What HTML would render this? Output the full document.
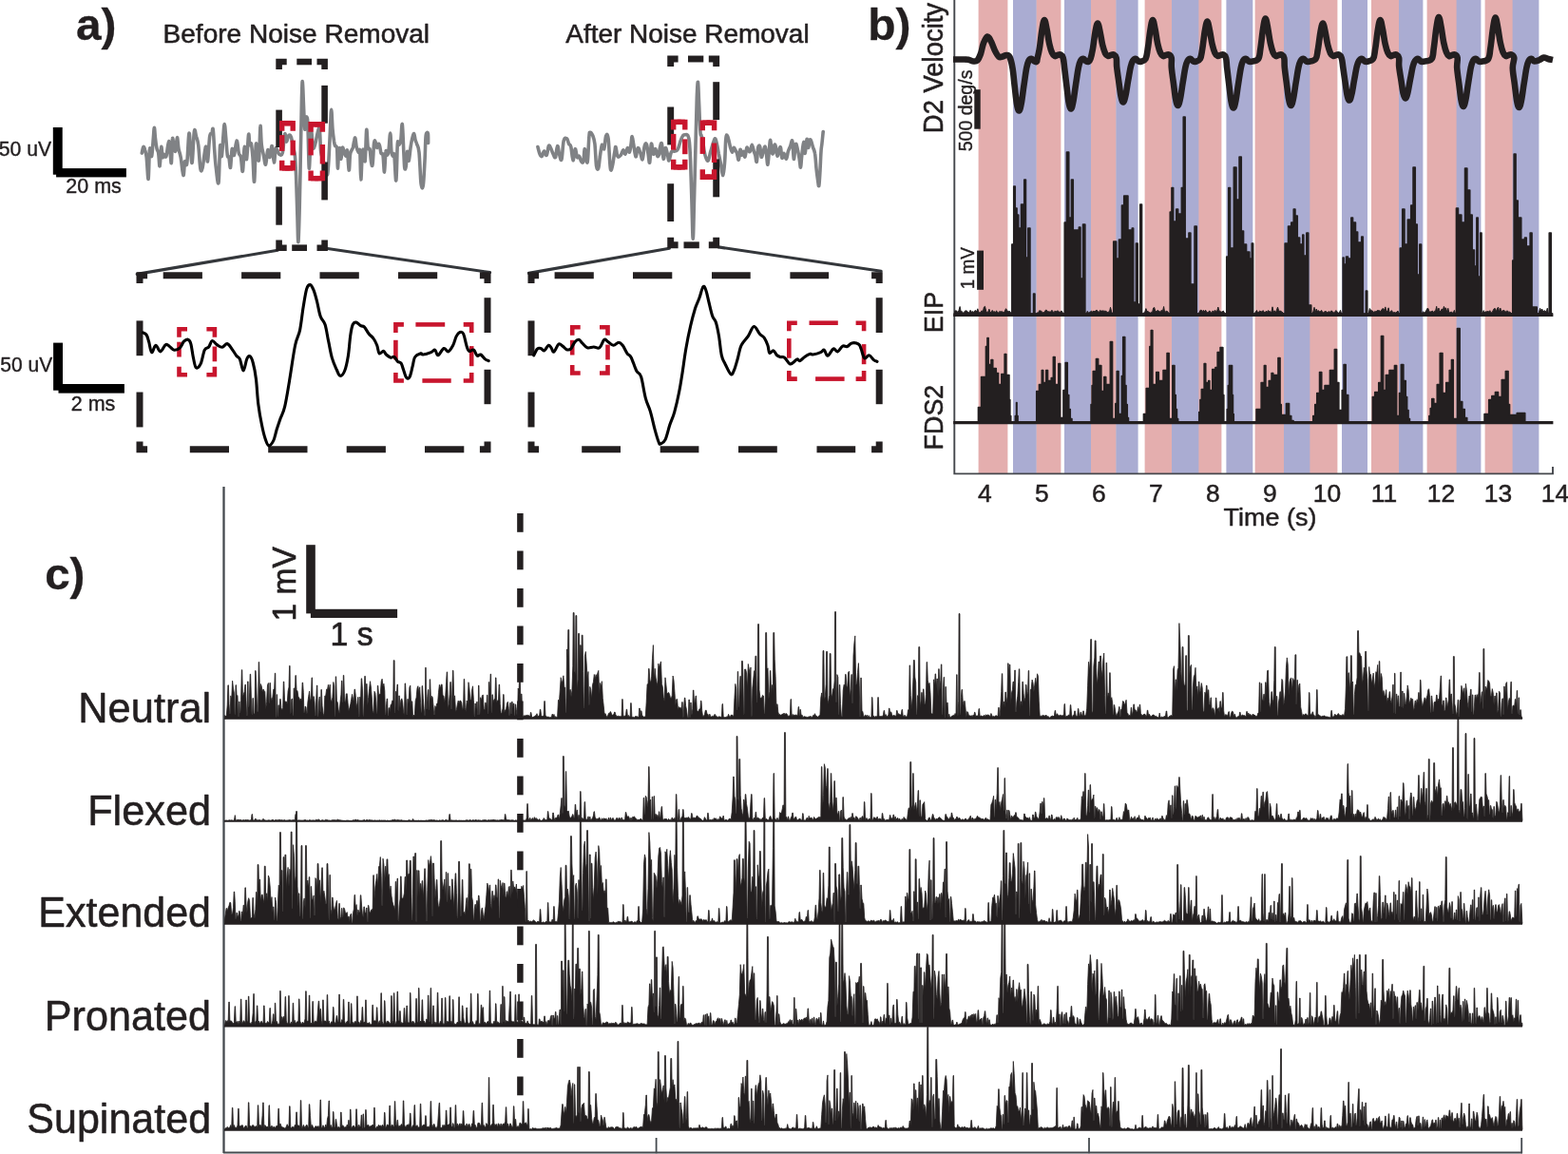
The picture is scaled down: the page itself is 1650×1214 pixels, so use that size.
<!DOCTYPE html>
<html lang="en"><head><meta charset="utf-8"><title>Figure</title>
<style>
html,body{margin:0;padding:0;background:#fff;}
body{width:1650px;height:1214px;overflow:hidden;}
svg{display:block;font-family:"Liberation Sans",sans-serif;}
</style></head><body>
<svg width="1650" height="1214" viewBox="0 0 1650 1214">
<rect width="1650" height="1214" fill="#fff"/>
<g id="panel-b">
<rect x="1029.6" y="0" width="30.8" height="498.3" fill="#E4AEAE"/>
<rect x="1090.2" y="0" width="26.2" height="498.3" fill="#E4AEAE"/>
<rect x="1147.6" y="0" width="27.2" height="498.3" fill="#E4AEAE"/>
<rect x="1204.6" y="0" width="28.8" height="498.3" fill="#E4AEAE"/>
<rect x="1261.0" y="0" width="24.4" height="498.3" fill="#E4AEAE"/>
<rect x="1320.6" y="0" width="30.8" height="498.3" fill="#E4AEAE"/>
<rect x="1378.0" y="0" width="29.4" height="498.3" fill="#E4AEAE"/>
<rect x="1443.0" y="0" width="29.4" height="498.3" fill="#E4AEAE"/>
<rect x="1501.6" y="0" width="31.4" height="498.3" fill="#E4AEAE"/>
<rect x="1562.6" y="0" width="29.4" height="498.3" fill="#E4AEAE"/>
<rect x="1066.0" y="0" width="24.6" height="498.3" fill="#AAACD2"/>
<rect x="1120.0" y="0" width="28.0" height="498.3" fill="#AAACD2"/>
<rect x="1174.4" y="0" width="23.2" height="498.3" fill="#AAACD2"/>
<rect x="1233.0" y="0" width="28.4" height="498.3" fill="#AAACD2"/>
<rect x="1290.4" y="0" width="27.9" height="498.3" fill="#AAACD2"/>
<rect x="1351.0" y="0" width="27.4" height="498.3" fill="#AAACD2"/>
<rect x="1412.0" y="0" width="27.0" height="498.3" fill="#AAACD2"/>
<rect x="1472.0" y="0" width="25.4" height="498.3" fill="#AAACD2"/>
<rect x="1532.6" y="0" width="25.8" height="498.3" fill="#AAACD2"/>
<rect x="1591.6" y="0" width="27.8" height="498.3" fill="#AAACD2"/>
<path d="M1004.3,0 V498.4 H1634 V491" fill="none" stroke="#45484D" stroke-width="1.9"/>
<rect x="1025.3" y="94.2" width="6.4" height="41.5" fill="#231F20"/>
<rect x="1028.1" y="263.6" width="6.9" height="41.2" fill="#231F20"/>
<text x="913.33" y="41.50" font-size="47.00" font-weight="bold" fill="#231F20" stroke="#231F20" stroke-width="0.30" stroke-linejoin="round" textLength="45.28" lengthAdjust="spacingAndGlyphs">b)</text>
<text transform="translate(992.40,140.16) rotate(-90)" font-size="28.80" font-weight="normal" fill="#231F20" stroke="#231F20" stroke-width="0.60" stroke-linejoin="round" textLength="137.23" lengthAdjust="spacingAndGlyphs">D2 Velocity</text>
<text transform="translate(1022.60,159.28) rotate(-90)" font-size="20.40" font-weight="normal" fill="#231F20" stroke="#231F20" stroke-width="0.40" stroke-linejoin="round" textLength="85.67" lengthAdjust="spacingAndGlyphs">500 deg/s</text>
<text transform="translate(1024.80,304.22) rotate(-90)" font-size="20.20" font-weight="normal" fill="#231F20" stroke="#231F20" stroke-width="0.40" stroke-linejoin="round" textLength="44.09" lengthAdjust="spacingAndGlyphs">1 mV</text>
<text transform="translate(992.00,350.22) rotate(-90)" font-size="28.40" font-weight="normal" fill="#231F20" stroke="#231F20" stroke-width="0.60" stroke-linejoin="round" textLength="43.31" lengthAdjust="spacingAndGlyphs">EIP</text>
<text transform="translate(992.00,473.42) rotate(-90)" font-size="28.40" font-weight="normal" fill="#231F20" stroke="#231F20" stroke-width="0.60" stroke-linejoin="round" textLength="68.69" lengthAdjust="spacingAndGlyphs">FDS2</text>
<text x="1036.4" y="528.2" font-size="26.4" text-anchor="middle" fill="#231F20" stroke="#231F20" stroke-width="0.5">4</text>
<text x="1096.4" y="528.2" font-size="26.4" text-anchor="middle" fill="#231F20" stroke="#231F20" stroke-width="0.5">5</text>
<text x="1156.4" y="528.2" font-size="26.4" text-anchor="middle" fill="#231F20" stroke="#231F20" stroke-width="0.5">6</text>
<text x="1216.4" y="528.2" font-size="26.4" text-anchor="middle" fill="#231F20" stroke="#231F20" stroke-width="0.5">7</text>
<text x="1276.4" y="528.2" font-size="26.4" text-anchor="middle" fill="#231F20" stroke="#231F20" stroke-width="0.5">8</text>
<text x="1336.4" y="528.2" font-size="26.4" text-anchor="middle" fill="#231F20" stroke="#231F20" stroke-width="0.5">9</text>
<text x="1396.4" y="528.2" font-size="26.4" text-anchor="middle" fill="#231F20" stroke="#231F20" stroke-width="0.5">10</text>
<text x="1456.4" y="528.2" font-size="26.4" text-anchor="middle" fill="#231F20" stroke="#231F20" stroke-width="0.5">11</text>
<text x="1516.4" y="528.2" font-size="26.4" text-anchor="middle" fill="#231F20" stroke="#231F20" stroke-width="0.5">12</text>
<text x="1576.4" y="528.2" font-size="26.4" text-anchor="middle" fill="#231F20" stroke="#231F20" stroke-width="0.5">13</text>
<text x="1636.4" y="528.2" font-size="26.4" text-anchor="middle" fill="#231F20" stroke="#231F20" stroke-width="0.5">14</text>
<text x="1287.64" y="553.40" font-size="26.40" font-weight="normal" fill="#231F20" stroke="#231F20" stroke-width="0.50" stroke-linejoin="round" textLength="97.76" lengthAdjust="spacingAndGlyphs">Time (s)</text>
<path d="M1003.0,62.5 C1004.6,62.5 1009.1,62.4 1012.0,62.5 C1014.9,62.6 1016.8,62.4 1019.0,62.8 C1021.2,63.2 1022.8,64.4 1024.5,64.5 C1026.2,64.6 1027.2,64.9 1028.5,63.5 C1029.8,62.1 1030.8,59.8 1032.0,56.5 C1033.2,53.2 1033.7,48.5 1035.0,45.2 C1036.3,42.0 1037.6,38.8 1039.0,38.5 C1040.4,38.2 1041.6,41.1 1043.0,43.8 C1044.4,46.5 1045.6,50.5 1047.0,53.4 C1048.4,56.2 1049.6,58.5 1051.0,59.6 C1052.4,60.7 1053.6,59.8 1055.0,59.5 C1056.4,59.2 1057.7,57.9 1059.0,58.0 C1060.3,58.1 1061.3,57.4 1062.5,60.0 C1063.7,62.6 1064.7,66.7 1065.6,72.2 C1066.5,77.7 1066.9,84.0 1067.7,90.6 C1068.5,97.2 1069.1,104.3 1069.9,108.9 C1070.7,113.6 1071.5,116.7 1072.4,116.5 C1073.3,116.3 1074.0,112.7 1074.9,107.9 C1075.8,103.0 1076.5,96.0 1077.5,89.5 C1078.5,83.0 1079.3,76.3 1080.2,71.7 C1081.1,67.1 1081.5,65.8 1082.4,64.0 C1083.3,62.2 1084.3,61.6 1085.4,61.7 C1086.5,61.8 1087.4,63.9 1088.4,64.5 C1089.4,65.1 1090.3,65.2 1090.9,64.8 C1091.5,64.3 1091.0,64.4 1091.5,62.0 C1092.0,59.6 1092.9,56.7 1093.8,51.3 C1094.7,45.9 1095.5,37.2 1096.4,31.8 C1097.3,26.3 1098.1,21.1 1099.0,21.0 C1099.9,20.9 1100.7,26.5 1101.6,31.0 C1102.5,35.4 1103.2,41.5 1104.2,45.9 C1105.2,50.3 1106.0,53.1 1107.0,55.4 C1108.0,57.8 1108.9,58.5 1110.0,59.0 C1111.1,59.5 1111.9,58.3 1113.0,58.0 C1114.1,57.7 1115.0,57.0 1116.0,57.5 C1117.0,58.0 1117.9,58.4 1118.7,61.0 C1119.5,63.6 1119.6,66.7 1120.2,71.9 C1120.8,77.0 1121.5,83.2 1122.3,89.5 C1123.1,95.9 1123.7,102.7 1124.5,107.2 C1125.3,111.7 1126.1,114.7 1127.0,114.5 C1127.9,114.3 1128.6,110.9 1129.5,106.2 C1130.4,101.5 1131.1,94.8 1132.1,88.5 C1133.1,82.2 1133.9,75.8 1134.8,71.3 C1135.7,66.9 1136.1,65.7 1137.0,64.0 C1137.9,62.3 1138.9,61.6 1140.0,61.7 C1141.1,61.8 1142.0,63.9 1143.0,64.5 C1144.0,65.1 1144.7,65.2 1145.5,64.8 C1146.3,64.3 1146.7,64.3 1147.5,62.0 C1148.3,59.7 1148.9,57.2 1149.8,52.2 C1150.7,47.3 1151.5,39.4 1152.4,34.4 C1153.3,29.4 1154.1,24.6 1155.0,24.5 C1155.9,24.4 1156.7,29.5 1157.6,33.6 C1158.5,37.7 1159.2,43.3 1160.2,47.3 C1161.2,51.3 1162.0,53.9 1163.0,56.0 C1164.0,58.1 1164.9,58.6 1166.0,59.0 C1167.1,59.4 1167.9,58.3 1169.0,58.0 C1170.1,57.7 1171.0,57.0 1172.0,57.5 C1173.0,58.0 1174.1,58.6 1174.7,61.0 C1175.3,63.4 1174.7,66.1 1175.2,70.6 C1175.7,75.1 1176.5,80.4 1177.3,85.9 C1178.1,91.4 1178.7,97.3 1179.5,101.2 C1180.3,105.1 1181.1,107.7 1182.0,107.5 C1182.9,107.3 1183.6,104.3 1184.5,100.3 C1185.4,96.2 1186.1,90.4 1187.1,85.0 C1188.1,79.6 1188.9,73.9 1189.8,70.2 C1190.7,66.4 1191.1,65.5 1192.0,64.0 C1192.9,62.5 1193.9,61.6 1195.0,61.7 C1196.1,61.8 1197.0,63.9 1198.0,64.5 C1199.0,65.1 1199.2,65.2 1200.5,64.8 C1201.8,64.3 1204.2,64.4 1205.5,62.0 C1206.8,59.6 1206.9,56.7 1207.8,51.3 C1208.7,45.9 1209.5,37.2 1210.4,31.8 C1211.3,26.3 1212.1,21.1 1213.0,21.0 C1213.9,20.9 1214.7,26.5 1215.6,31.0 C1216.5,35.4 1217.2,41.5 1218.2,45.9 C1219.2,50.3 1220.0,53.1 1221.0,55.4 C1222.0,57.8 1222.9,58.5 1224.0,59.0 C1225.1,59.5 1225.9,58.3 1227.0,58.0 C1228.1,57.7 1229.0,57.0 1230.0,57.5 C1231.0,58.0 1232.2,58.5 1232.7,61.0 C1233.2,63.5 1232.4,66.4 1232.8,71.2 C1233.2,76.0 1234.1,81.8 1234.9,87.7 C1235.7,93.7 1236.3,100.0 1237.1,104.2 C1237.9,108.4 1238.7,111.2 1239.6,111.0 C1240.5,110.8 1241.2,107.6 1242.1,103.2 C1243.0,98.9 1243.7,92.6 1244.7,86.8 C1245.7,80.9 1246.5,74.8 1247.4,70.7 C1248.3,66.7 1248.7,65.6 1249.6,64.0 C1250.5,62.4 1251.5,61.6 1252.6,61.7 C1253.7,61.8 1254.6,63.9 1255.6,64.5 C1256.6,65.1 1256.8,65.2 1258.1,64.8 C1259.4,64.3 1261.6,64.4 1262.9,62.0 C1264.2,59.6 1264.3,56.9 1265.2,51.7 C1266.1,46.5 1266.9,38.2 1267.8,32.9 C1268.7,27.6 1269.5,22.6 1270.4,22.5 C1271.3,22.4 1272.1,27.8 1273.0,32.1 C1273.9,36.4 1274.6,42.3 1275.6,46.5 C1276.6,50.7 1277.4,53.5 1278.4,55.7 C1279.4,58.0 1280.3,58.6 1281.4,59.0 C1282.5,59.4 1283.3,58.3 1284.4,58.0 C1285.5,57.7 1286.4,57.0 1287.4,57.5 C1288.4,58.0 1289.4,58.4 1290.1,61.0 C1290.8,63.6 1290.6,66.6 1291.2,71.7 C1291.8,76.7 1292.5,82.8 1293.3,89.0 C1294.1,95.3 1294.7,102.0 1295.5,106.4 C1296.3,110.8 1297.1,113.7 1298.0,113.5 C1298.9,113.3 1299.6,109.9 1300.5,105.3 C1301.4,100.8 1302.1,94.2 1303.1,88.0 C1304.1,81.8 1304.9,75.5 1305.8,71.2 C1306.7,66.8 1307.1,65.7 1308.0,64.0 C1308.9,62.3 1309.9,61.6 1311.0,61.7 C1312.1,61.8 1313.0,63.9 1314.0,64.5 C1315.0,65.1 1314.7,65.2 1316.5,64.8 C1318.3,64.3 1322.3,64.5 1324.1,62.0 C1325.9,59.5 1325.5,56.5 1326.4,50.9 C1327.3,45.3 1328.1,36.3 1329.0,30.7 C1329.9,25.0 1330.7,19.7 1331.6,19.5 C1332.5,19.3 1333.3,25.2 1334.2,29.8 C1335.1,34.5 1335.8,40.7 1336.8,45.3 C1337.8,49.9 1338.6,52.7 1339.6,55.2 C1340.6,57.7 1341.5,58.5 1342.6,59.0 C1343.7,59.5 1344.5,58.3 1345.6,58.0 C1346.7,57.7 1347.6,57.0 1348.6,57.5 C1349.6,58.0 1350.7,58.5 1351.3,61.0 C1351.9,63.5 1351.3,66.4 1351.8,71.2 C1352.3,76.0 1353.1,81.8 1353.9,87.7 C1354.7,93.7 1355.3,100.0 1356.1,104.2 C1356.9,108.4 1357.7,111.2 1358.6,111.0 C1359.5,110.8 1360.2,107.6 1361.1,103.2 C1362.0,98.9 1362.7,92.6 1363.7,86.8 C1364.7,80.9 1365.5,74.8 1366.4,70.7 C1367.3,66.7 1367.7,65.6 1368.6,64.0 C1369.5,62.4 1370.5,61.6 1371.6,61.7 C1372.7,61.8 1373.6,63.9 1374.6,64.5 C1375.6,65.1 1375.3,65.2 1377.1,64.8 C1378.9,64.3 1382.8,64.3 1384.5,62.0 C1386.2,59.7 1385.9,57.2 1386.8,52.2 C1387.7,47.3 1388.5,39.4 1389.4,34.4 C1390.3,29.4 1391.1,24.6 1392.0,24.5 C1392.9,24.4 1393.7,29.5 1394.6,33.6 C1395.5,37.7 1396.2,43.3 1397.2,47.3 C1398.2,51.3 1399.0,53.9 1400.0,56.0 C1401.0,58.1 1401.9,58.6 1403.0,59.0 C1404.1,59.4 1404.9,58.3 1406.0,58.0 C1407.1,57.7 1408.0,57.0 1409.0,57.5 C1410.0,58.0 1410.9,58.7 1411.7,61.0 C1412.5,63.3 1412.6,65.9 1413.2,70.2 C1413.8,74.5 1414.5,79.6 1415.3,84.9 C1416.1,90.1 1416.7,95.8 1417.5,99.5 C1418.3,103.2 1419.1,105.7 1420.0,105.5 C1420.9,105.3 1421.6,102.5 1422.5,98.6 C1423.4,94.8 1424.1,89.2 1425.1,84.0 C1426.1,78.8 1426.9,73.4 1427.8,69.8 C1428.7,66.2 1429.1,65.5 1430.0,64.0 C1430.9,62.5 1431.9,61.6 1433.0,61.7 C1434.1,61.8 1435.0,63.9 1436.0,64.5 C1437.0,65.1 1436.9,65.2 1438.5,64.8 C1440.1,64.3 1443.3,64.4 1444.9,62.0 C1446.5,59.6 1446.3,56.7 1447.2,51.3 C1448.1,45.9 1448.9,37.2 1449.8,31.8 C1450.7,26.3 1451.5,21.1 1452.4,21.0 C1453.3,20.9 1454.1,26.5 1455.0,31.0 C1455.9,35.4 1456.6,41.5 1457.6,45.9 C1458.6,50.3 1459.4,53.1 1460.4,55.4 C1461.4,57.8 1462.3,58.5 1463.4,59.0 C1464.5,59.5 1465.3,58.3 1466.4,58.0 C1467.5,57.7 1468.4,57.0 1469.4,57.5 C1470.4,58.0 1471.6,58.8 1472.1,61.0 C1472.6,63.2 1471.8,65.8 1472.2,69.9 C1472.6,74.0 1473.5,78.8 1474.3,83.8 C1475.1,88.8 1475.7,94.2 1476.5,97.8 C1477.3,101.3 1478.1,103.6 1479.0,103.5 C1479.9,103.4 1480.6,100.6 1481.5,96.9 C1482.4,93.2 1483.1,87.9 1484.1,83.0 C1485.1,78.1 1485.9,72.9 1486.8,69.5 C1487.7,66.0 1488.1,65.4 1489.0,64.0 C1489.9,62.6 1490.9,61.6 1492.0,61.7 C1493.1,61.8 1494.0,63.9 1495.0,64.5 C1496.0,65.1 1495.4,65.2 1497.5,64.8 C1499.6,64.3 1504.5,64.6 1506.5,62.0 C1508.5,59.4 1507.9,56.3 1508.8,50.5 C1509.7,44.6 1510.5,35.4 1511.4,29.6 C1512.3,23.7 1513.1,18.2 1514.0,18.0 C1514.9,17.8 1515.7,23.9 1516.6,28.7 C1517.5,33.5 1518.2,40.0 1519.2,44.7 C1520.2,49.4 1521.0,52.4 1522.0,54.9 C1523.0,57.5 1523.9,58.4 1525.0,59.0 C1526.1,59.6 1526.9,58.3 1528.0,58.0 C1529.1,57.7 1530.0,57.0 1531.0,57.5 C1532.0,58.0 1533.3,58.5 1533.7,61.0 C1534.1,63.5 1532.9,66.5 1533.2,71.4 C1533.5,76.3 1534.5,82.2 1535.3,88.2 C1536.1,94.3 1536.7,100.8 1537.5,105.1 C1538.3,109.3 1539.1,112.2 1540.0,112.0 C1540.9,111.8 1541.6,108.5 1542.5,104.1 C1543.4,99.6 1544.1,93.2 1545.1,87.2 C1546.1,81.3 1546.9,75.1 1547.8,70.9 C1548.7,66.7 1549.1,65.7 1550.0,64.0 C1550.9,62.3 1551.9,61.6 1553.0,61.7 C1554.1,61.8 1555.0,63.9 1556.0,64.5 C1557.0,65.1 1556.7,65.2 1558.5,64.8 C1560.3,64.3 1564.3,64.6 1566.1,62.0 C1567.9,59.4 1567.5,56.4 1568.4,50.6 C1569.3,44.8 1570.1,35.7 1571.0,29.9 C1571.9,24.2 1572.7,18.7 1573.6,18.5 C1574.5,18.3 1575.3,24.3 1576.2,29.1 C1577.1,33.8 1577.8,40.2 1578.8,44.9 C1579.8,49.6 1580.6,52.5 1581.6,55.0 C1582.6,57.6 1583.5,58.5 1584.6,59.0 C1585.7,59.5 1586.5,58.3 1587.6,58.0 C1588.7,57.7 1589.6,57.0 1590.6,57.5 C1591.6,58.0 1593.1,58.5 1593.3,61.0 C1593.5,63.5 1591.7,66.6 1591.8,71.6 C1591.9,76.6 1593.1,82.6 1593.9,88.8 C1594.7,94.9 1595.3,101.6 1596.1,105.9 C1596.9,110.3 1597.7,113.2 1598.6,113.0 C1599.5,112.8 1600.2,109.5 1601.1,104.9 C1602.0,100.4 1602.7,93.8 1603.7,87.8 C1604.7,81.7 1605.5,75.4 1606.4,71.1 C1607.3,66.8 1607.7,65.7 1608.6,64.0 C1609.5,62.3 1610.5,61.6 1611.6,61.7 C1612.7,61.8 1613.1,64.3 1614.6,64.5 C1616.1,64.7 1618.2,63.7 1620.0,63.0 C1621.8,62.3 1622.9,60.7 1624.5,60.5 C1626.1,60.3 1627.3,61.5 1629.0,62.0 C1630.7,62.5 1633.1,62.8 1634.0,63.0" fill="none" stroke="#231F20" stroke-width="6.6" stroke-linejoin="round"/>
<line x1="1003.2" y1="331.2" x2="1634.4" y2="331.2" stroke="#231F20" stroke-width="3.4"/>
<path d="M1004.6,330.0 L1004.6,327.3 L1005.7,326.8 L1006.8,327.0 L1007.9,329.1 L1009.0,326.4 L1010.1,322.5 L1011.2,327.8 L1012.3,327.6 L1013.4,329.2 L1014.5,328.4 L1015.6,326.9 L1016.7,326.8 L1017.8,327.3 L1018.9,329.2 L1020.0,328.6 L1021.1,326.3 L1022.2,328.3 L1023.3,327.6 L1024.4,328.6 L1025.5,327.1 L1026.6,326.5 L1027.7,328.1 L1028.8,324.8 L1029.9,328.3 L1031.0,329.2 L1032.1,328.2 L1033.2,326.7 L1034.3,328.3 L1035.4,323.1 L1036.5,322.3 L1037.6,327.0 L1038.7,329.1 L1039.8,328.1 L1040.9,325.2 L1042.0,328.7 L1043.1,328.6 L1044.2,326.4 L1045.3,328.2 L1046.4,327.6 L1047.5,328.9 L1048.6,326.8 L1049.7,329.1 L1050.8,328.9 L1051.9,327.4 L1053.0,328.2 L1054.1,327.6 L1055.2,328.2 L1056.3,329.0 L1057.4,327.1 L1058.5,324.7 L1059.6,326.2 L1060.7,328.0 L1061.8,327.4 L1062.9,327.8 L1064.0,330.0 L1065.1,330.0 L1066.2,330.0 L1067.3,330.0 L1068.4,330.0 L1069.5,330.0 L1070.6,330.0 L1071.7,330.0 L1072.8,330.0 L1073.9,330.0 L1075.0,330.0 L1076.1,330.0 L1077.2,330.0 L1078.3,330.0 L1079.4,330.0 L1080.5,330.0 L1081.6,330.0 L1082.7,330.0 L1083.8,330.0 L1084.9,330.0 L1086.0,330.0 L1087.1,330.0 L1088.2,330.0 L1089.3,330.0 L1090.4,330.0 L1091.5,329.0 L1092.6,329.1 L1093.7,326.7 L1094.8,327.0 L1095.9,327.3 L1097.0,328.9 L1098.1,328.8 L1099.2,328.3 L1100.3,326.2 L1101.4,326.3 L1102.5,327.7 L1103.6,327.8 L1104.7,328.0 L1105.8,328.1 L1106.9,326.3 L1108.0,327.7 L1109.1,328.9 L1110.2,326.9 L1111.3,328.1 L1112.4,326.9 L1113.5,327.2 L1114.6,328.1 L1115.7,328.4 L1116.8,326.9 L1117.9,328.3 L1119.0,330.0 L1120.1,330.0 L1121.2,330.0 L1122.3,330.0 L1123.4,330.0 L1124.5,330.0 L1125.6,330.0 L1126.7,330.0 L1127.8,330.0 L1128.9,330.0 L1130.0,330.0 L1131.1,330.0 L1132.2,330.0 L1133.3,330.0 L1134.4,330.0 L1135.5,330.0 L1136.6,330.0 L1137.7,330.0 L1138.8,330.0 L1139.9,330.0 L1141.0,330.0 L1142.1,330.0 L1143.2,330.0 L1144.3,327.3 L1145.4,329.2 L1146.5,328.4 L1147.6,327.8 L1148.7,327.3 L1149.8,328.2 L1150.9,327.0 L1152.0,328.1 L1153.1,326.6 L1154.2,326.3 L1155.3,327.6 L1156.4,328.7 L1157.5,326.4 L1158.6,327.1 L1159.7,327.0 L1160.8,326.9 L1161.9,327.2 L1163.0,327.3 L1164.1,327.3 L1165.2,329.1 L1166.3,327.9 L1167.4,328.5 L1168.5,323.3 L1169.6,327.8 L1170.7,330.0 L1171.8,330.0 L1172.9,330.0 L1174.0,330.0 L1175.1,330.0 L1176.2,330.0 L1177.3,330.0 L1178.4,330.0 L1179.5,330.0 L1180.6,330.0 L1181.7,330.0 L1182.8,330.0 L1183.9,330.0 L1185.0,330.0 L1186.1,330.0 L1187.2,330.0 L1188.3,330.0 L1189.4,330.0 L1190.5,330.0 L1191.6,330.0 L1192.7,330.0 L1193.8,330.0 L1194.9,330.0 L1196.0,330.0 L1197.1,330.0 L1198.2,330.0 L1199.3,330.0 L1200.4,330.0 L1201.5,330.0 L1202.6,330.0 L1203.7,329.0 L1204.8,328.2 L1205.9,324.6 L1207.0,327.8 L1208.1,327.4 L1209.2,328.5 L1210.3,329.2 L1211.4,328.4 L1212.5,328.9 L1213.6,324.1 L1214.7,323.4 L1215.8,327.6 L1216.9,327.5 L1218.0,326.7 L1219.1,326.8 L1220.2,328.1 L1221.3,327.4 L1222.4,326.3 L1223.5,327.4 L1224.6,322.5 L1225.7,328.9 L1226.8,327.4 L1227.9,327.3 L1229.0,328.1 L1230.1,330.0 L1231.2,330.0 L1232.3,330.0 L1233.4,330.0 L1234.5,330.0 L1235.6,330.0 L1236.7,330.0 L1237.8,330.0 L1238.9,330.0 L1240.0,330.0 L1241.1,330.0 L1242.2,330.0 L1243.3,330.0 L1244.4,330.0 L1245.5,330.0 L1246.6,330.0 L1247.7,330.0 L1248.8,330.0 L1249.9,330.0 L1251.0,330.0 L1252.1,330.0 L1253.2,330.0 L1254.3,330.0 L1255.4,330.0 L1256.5,330.0 L1257.6,330.0 L1258.7,330.0 L1259.8,330.0 L1260.9,330.0 L1262.0,328.5 L1263.1,326.3 L1264.2,326.3 L1265.3,327.4 L1266.4,326.3 L1267.5,328.0 L1268.6,326.2 L1269.7,328.3 L1270.8,328.8 L1271.9,327.9 L1273.0,326.9 L1274.1,329.2 L1275.2,328.4 L1276.3,326.9 L1277.4,328.4 L1278.5,326.2 L1279.6,327.4 L1280.7,327.3 L1281.8,323.0 L1282.9,326.9 L1284.0,327.6 L1285.1,328.3 L1286.2,327.8 L1287.3,327.0 L1288.4,329.1 L1289.5,330.0 L1290.6,330.0 L1291.7,330.0 L1292.8,330.0 L1293.9,330.0 L1295.0,330.0 L1296.1,330.0 L1297.2,330.0 L1298.3,330.0 L1299.4,330.0 L1300.5,330.0 L1301.6,330.0 L1302.7,330.0 L1303.8,330.0 L1304.9,330.0 L1306.0,330.0 L1307.1,330.0 L1308.2,330.0 L1309.3,330.0 L1310.4,330.0 L1311.5,330.0 L1312.6,330.0 L1313.7,330.0 L1314.8,330.0 L1315.9,330.0 L1317.0,330.0 L1318.1,330.0 L1319.2,330.0 L1320.3,330.0 L1321.4,327.8 L1322.5,326.5 L1323.6,329.2 L1324.7,327.9 L1325.8,327.1 L1326.9,327.8 L1328.0,328.0 L1329.1,326.6 L1330.2,328.3 L1331.3,329.0 L1332.4,327.1 L1333.5,328.3 L1334.6,326.5 L1335.7,327.8 L1336.8,327.7 L1337.9,328.7 L1339.0,322.8 L1340.1,328.5 L1341.2,326.8 L1342.3,329.1 L1343.4,326.3 L1344.5,323.1 L1345.6,326.7 L1346.7,327.3 L1347.8,327.1 L1348.9,328.3 L1350.0,328.8 L1351.1,330.0 L1352.2,330.0 L1353.3,330.0 L1354.4,330.0 L1355.5,330.0 L1356.6,330.0 L1357.7,330.0 L1358.8,330.0 L1359.9,330.0 L1361.0,330.0 L1362.1,330.0 L1363.2,330.0 L1364.3,330.0 L1365.4,330.0 L1366.5,330.0 L1367.6,330.0 L1368.7,330.0 L1369.8,330.0 L1370.9,330.0 L1372.0,330.0 L1373.1,330.0 L1374.2,330.0 L1375.3,330.0 L1376.4,330.0 L1377.5,330.0 L1378.6,330.0 L1379.7,330.0 L1380.8,330.0 L1381.9,328.0 L1383.0,323.3 L1384.1,328.9 L1385.2,325.0 L1386.3,327.5 L1387.4,326.6 L1388.5,327.9 L1389.6,327.4 L1390.7,326.4 L1391.8,329.0 L1392.9,328.7 L1394.0,327.7 L1395.1,327.5 L1396.2,328.4 L1397.3,328.4 L1398.4,327.6 L1399.5,328.5 L1400.6,327.0 L1401.7,327.1 L1402.8,328.9 L1403.9,328.9 L1405.0,327.4 L1406.1,326.6 L1407.2,328.2 L1408.3,329.1 L1409.4,329.0 L1410.5,326.3 L1411.6,330.0 L1412.7,330.0 L1413.8,330.0 L1414.9,330.0 L1416.0,330.0 L1417.1,330.0 L1418.2,330.0 L1419.3,330.0 L1420.4,330.0 L1421.5,330.0 L1422.6,330.0 L1423.7,330.0 L1424.8,330.0 L1425.9,330.0 L1427.0,330.0 L1428.1,330.0 L1429.2,330.0 L1430.3,330.0 L1431.4,330.0 L1432.5,330.0 L1433.6,330.0 L1434.7,330.0 L1435.8,330.0 L1436.9,330.0 L1438.0,330.0 L1439.1,330.0 L1440.2,330.0 L1441.3,324.5 L1442.4,326.3 L1443.5,326.7 L1444.6,327.3 L1445.7,328.5 L1446.8,327.4 L1447.9,328.0 L1449.0,326.7 L1450.1,326.8 L1451.2,326.6 L1452.3,327.4 L1453.4,327.0 L1454.5,324.9 L1455.6,324.6 L1456.7,326.5 L1457.8,322.9 L1458.9,327.8 L1460.0,327.3 L1461.1,323.8 L1462.2,328.7 L1463.3,328.1 L1464.4,326.6 L1465.5,328.4 L1466.6,328.7 L1467.7,328.5 L1468.8,329.1 L1469.9,328.1 L1471.0,327.1 L1472.1,330.0 L1473.2,330.0 L1474.3,330.0 L1475.4,330.0 L1476.5,330.0 L1477.6,330.0 L1478.7,330.0 L1479.8,330.0 L1480.9,330.0 L1482.0,330.0 L1483.1,330.0 L1484.2,330.0 L1485.3,330.0 L1486.4,330.0 L1487.5,330.0 L1488.6,330.0 L1489.7,330.0 L1490.8,330.0 L1491.9,330.0 L1493.0,330.0 L1494.1,330.0 L1495.2,330.0 L1496.3,330.0 L1497.4,327.8 L1498.5,328.8 L1499.6,328.3 L1500.7,327.0 L1501.8,324.6 L1502.9,324.5 L1504.0,328.0 L1505.1,328.1 L1506.2,327.8 L1507.3,327.0 L1508.4,328.7 L1509.5,327.2 L1510.6,327.3 L1511.7,322.3 L1512.8,329.0 L1513.9,324.0 L1515.0,327.6 L1516.1,327.6 L1517.2,324.9 L1518.3,326.5 L1519.4,322.4 L1520.5,324.5 L1521.6,324.0 L1522.7,328.4 L1523.8,324.3 L1524.9,329.1 L1526.0,328.7 L1527.1,328.0 L1528.2,328.9 L1529.3,328.9 L1530.4,326.4 L1531.5,330.0 L1532.6,330.0 L1533.7,330.0 L1534.8,330.0 L1535.9,330.0 L1537.0,330.0 L1538.1,330.0 L1539.2,330.0 L1540.3,330.0 L1541.4,330.0 L1542.5,330.0 L1543.6,330.0 L1544.7,330.0 L1545.8,330.0 L1546.9,330.0 L1548.0,330.0 L1549.1,330.0 L1550.2,330.0 L1551.3,330.0 L1552.4,330.0 L1553.5,330.0 L1554.6,330.0 L1555.7,330.0 L1556.8,330.0 L1557.9,330.0 L1559.0,330.0 L1560.1,330.0 L1561.2,326.6 L1562.3,329.1 L1563.4,327.7 L1564.5,328.1 L1565.6,327.0 L1566.7,328.3 L1567.8,326.7 L1568.9,328.9 L1570.0,328.9 L1571.1,326.7 L1572.2,324.8 L1573.3,324.5 L1574.4,327.9 L1575.5,324.5 L1576.6,323.1 L1577.7,328.6 L1578.8,324.1 L1579.9,327.9 L1581.0,326.9 L1582.1,326.5 L1583.2,326.9 L1584.3,327.9 L1585.4,327.2 L1586.5,327.0 L1587.6,328.4 L1588.7,328.1 L1589.8,329.0 L1590.9,330.0 L1592.0,330.0 L1593.1,330.0 L1594.2,330.0 L1595.3,330.0 L1596.4,330.0 L1597.5,330.0 L1598.6,330.0 L1599.7,330.0 L1600.8,330.0 L1601.9,330.0 L1603.0,330.0 L1604.1,330.0 L1605.2,330.0 L1606.3,330.0 L1607.4,330.0 L1608.5,330.0 L1609.6,330.0 L1610.7,330.0 L1611.8,330.0 L1612.9,330.0 L1614.0,330.0 L1615.1,330.0 L1616.2,330.0 L1617.3,330.0 L1618.4,330.0 L1619.5,328.4 L1620.6,324.3 L1621.7,326.9 L1622.8,325.1 L1623.9,328.8 L1625.0,326.6 L1626.1,327.4 L1627.2,327.9 L1628.3,324.2 L1629.4,330.0 L1630.5,330.0 L1631.6,330.0 L1632.7,330.0 L1633.8,330.0 L1634.0,330.0 Z" fill="#231F20" stroke="#231F20" stroke-width="1" stroke-linejoin="round"/>
<path d="M1064.9,331.2 L1064.9,257.1 L1066.8,257.1 L1066.8,196.0 L1068.2,196.0 L1068.2,219.0 L1070.0,219.0 L1070.0,226.0 L1071.7,226.0 L1071.7,240.0 L1074.6,240.0 L1074.6,215.0 L1077.8,215.0 L1077.8,189.0 L1079.4,189.0 L1079.4,271.1 L1081.9,271.1 L1081.9,240.0 L1083.9,240.0 L1083.9,331.2 Z M1087.6,331.2 L1087.6,309.1 L1088.9,309.1 L1088.9,331.2 Z M1120.3,331.2 L1120.3,234.0 L1122.5,234.0 L1122.5,160.0 L1124.7,160.0 L1124.7,229.0 L1127.5,229.0 L1127.5,189.0 L1129.2,189.0 L1129.2,242.0 L1135.4,242.0 L1135.4,239.0 L1136.9,239.0 L1136.9,293.1 L1139.6,293.1 L1139.6,236.0 L1141.8,236.0 L1141.8,331.2 Z M1171.8,331.2 L1171.8,254.0 L1174.6,254.0 L1174.6,272.1 L1177.5,272.1 L1177.5,252.0 L1180.5,252.0 L1180.5,216.0 L1182.8,216.0 L1182.8,206.0 L1186.9,206.0 L1186.9,242.0 L1191.3,242.0 L1191.3,240.0 L1192.6,240.0 L1192.6,318.1 L1195.5,318.1 L1195.5,256.1 L1197.1,256.1 L1197.1,320.1 L1199.8,320.1 L1199.8,215.0 L1201.5,215.0 L1201.5,331.2 Z M1231.3,331.2 L1231.3,223.0 L1233.0,223.0 L1233.0,197.5 L1234.6,197.5 L1234.6,233.0 L1237.8,233.0 L1237.8,220.0 L1239.6,220.0 L1239.6,225.0 L1243.4,225.0 L1243.4,197.5 L1245.3,197.5 L1245.3,123.0 L1247.1,123.0 L1247.1,251.0 L1251.0,251.0 L1251.0,245.0 L1252.8,245.0 L1252.8,299.1 L1257.1,299.1 L1257.1,238.0 L1259.2,238.0 L1259.2,331.2 Z M1290.8,331.2 L1290.8,270.1 L1292.8,270.1 L1292.8,197.5 L1294.5,197.5 L1294.5,261.1 L1298.4,261.1 L1298.4,176.0 L1300.9,176.0 L1300.9,210.0 L1304.1,210.0 L1304.1,165.0 L1306.2,165.0 L1306.2,243.0 L1308.5,243.0 L1308.5,257.1 L1311.5,257.1 L1311.5,265.1 L1314.8,265.1 L1314.8,272.1 L1317.3,272.1 L1317.3,256.1 L1318.6,256.1 L1318.6,331.2 Z M1352.2,331.2 L1352.2,256.1 L1355.6,256.1 L1355.6,238.0 L1358.8,238.0 L1358.8,234.0 L1361.3,234.0 L1361.3,220.0 L1362.9,220.0 L1362.9,227.0 L1365.2,227.0 L1365.2,250.0 L1367.6,250.0 L1367.6,257.1 L1370.8,257.1 L1370.8,247.0 L1371.8,247.0 L1371.8,269.1 L1374.9,269.1 L1374.9,245.0 L1376.7,245.0 L1376.7,321.1 L1379.7,321.1 L1379.7,331.2 Z M1413.2,331.2 L1413.2,271.1 L1414.0,271.1 L1414.0,278.1 L1416.6,278.1 L1416.6,270.1 L1418.4,270.1 L1418.4,272.1 L1421.9,272.1 L1421.9,229.0 L1423.5,229.0 L1423.5,234.0 L1426.4,234.0 L1426.4,244.0 L1428.6,244.0 L1428.6,255.0 L1432.8,255.0 L1432.8,249.0 L1434.2,249.0 L1434.2,331.2 Z M1437.4,331.2 L1437.4,306.1 L1438.7,306.1 L1438.7,331.2 Z M1473.4,331.2 L1473.4,261.1 L1475.8,261.1 L1475.8,220.0 L1477.9,220.0 L1477.9,257.1 L1481.4,257.1 L1481.4,231.0 L1484.8,231.0 L1484.8,216.0 L1487.1,216.0 L1487.1,176.0 L1489.2,176.0 L1489.2,236.0 L1491.2,236.0 L1491.2,289.1 L1493.9,289.1 L1493.9,257.1 L1495.5,257.1 L1495.5,331.2 Z M1532.5,331.2 L1532.5,219.0 L1534.4,219.0 L1534.4,226.0 L1537.8,226.0 L1537.8,234.0 L1541.6,234.0 L1541.6,177.0 L1543.8,177.0 L1543.8,200.0 L1546.7,200.0 L1546.7,226.0 L1549.1,226.0 L1549.1,263.1 L1551.4,263.1 L1551.4,280.1 L1553.9,280.1 L1553.9,229.0 L1555.2,229.0 L1555.2,291.1 L1557.8,291.1 L1557.8,245.0 L1559.0,245.0 L1559.0,331.2 Z M1591.8,331.2 L1591.8,274.1 L1593.2,274.1 L1593.2,162.0 L1595.0,162.0 L1595.0,211.0 L1597.2,211.0 L1597.2,229.0 L1600.7,229.0 L1600.7,252.0 L1604.5,252.0 L1604.5,250.0 L1606.2,250.0 L1606.2,259.1 L1610.2,259.1 L1610.2,245.0 L1612.0,245.0 L1612.0,323.1 L1617.2,323.1 L1617.2,331.2 Z M1630.3,331.2 L1630.3,245.0 L1632.2,245.0 L1632.2,331.2 Z" fill="#231F20" stroke="#231F20" stroke-width="1.7" stroke-linejoin="round"/>
<line x1="1003.2" y1="444.6" x2="1634.4" y2="444.6" stroke="#231F20" stroke-width="3.4"/>
<path d="M1029.5,444.6 L1029.5,428.5 L1032.6,428.5 L1032.6,396.5 L1037.5,396.5 L1037.5,364.5 L1039.0,364.5 L1039.0,355.5 L1040.1,355.5 L1040.1,383.5 L1043.0,383.5 L1043.0,378.5 L1044.7,378.5 L1044.7,387.5 L1048.2,387.5 L1048.2,392.5 L1050.5,392.5 L1050.5,404.5 L1053.9,404.5 L1053.9,393.5 L1057.2,393.5 L1057.2,372.5 L1058.8,372.5 L1058.8,394.5 L1061.9,394.5 L1061.9,420.5 L1062.8,420.5 L1062.8,437.5 L1063.7,437.5 L1063.7,444.6 Z M1068.4,444.6 L1068.4,437.5 L1069.6,437.5 L1069.6,423.5 L1070.0,423.5 L1070.0,437.5 L1071.0,437.5 L1071.0,444.6 Z M1090.8,444.6 L1090.8,411.5 L1093.5,411.5 L1093.5,404.5 L1096.3,404.5 L1096.3,389.5 L1097.7,389.5 L1097.7,402.5 L1100.8,402.5 L1100.8,389.5 L1102.5,389.5 L1102.5,400.5 L1106.3,400.5 L1106.3,397.5 L1108.4,397.5 L1108.4,375.5 L1110.1,375.5 L1110.1,404.5 L1113.9,404.5 L1113.9,382.5 L1115.6,382.5 L1115.6,439.5 L1119.0,439.5 L1119.0,410.5 L1121.2,410.5 L1121.2,381.5 L1123.2,381.5 L1123.2,415.5 L1124.7,415.5 L1124.7,430.5 L1126.2,430.5 L1126.2,440.5 L1127.9,440.5 L1127.9,444.6 Z M1148.1,444.6 L1148.1,425.5 L1149.2,425.5 L1149.2,405.5 L1150.3,405.5 L1150.3,390.5 L1153.5,390.5 L1153.5,377.5 L1155.6,377.5 L1155.6,384.5 L1158.8,384.5 L1158.8,411.5 L1161.8,411.5 L1161.8,396.5 L1163.7,396.5 L1163.7,404.5 L1168.4,404.5 L1168.4,359.5 L1170.5,359.5 L1170.5,440.5 L1173.9,440.5 L1173.9,424.5 L1175.3,424.5 L1175.3,390.5 L1177.0,390.5 L1177.0,435.5 L1180.4,435.5 L1180.4,395.5 L1181.8,395.5 L1181.8,354.5 L1183.7,354.5 L1183.7,405.5 L1185.0,405.5 L1185.0,425.5 L1186.2,425.5 L1186.2,439.5 L1187.4,439.5 L1187.4,444.6 Z M1203.5,444.6 L1203.5,435.5 L1206.3,435.5 L1206.3,408.5 L1209.9,408.5 L1209.9,364.5 L1211.3,364.5 L1211.3,347.5 L1212.8,347.5 L1212.8,404.5 L1216.8,404.5 L1216.8,391.5 L1219.2,391.5 L1219.2,400.5 L1224.1,400.5 L1224.1,389.5 L1228.1,389.5 L1228.1,371.5 L1230.1,371.5 L1230.1,440.5 L1233.9,440.5 L1233.9,384.5 L1235.9,384.5 L1235.9,415.5 L1237.2,415.5 L1237.2,430.5 L1238.4,430.5 L1238.4,440.5 L1239.6,440.5 L1239.6,444.6 Z M1261.8,444.6 L1261.8,433.5 L1263.0,433.5 L1263.0,420.5 L1264.4,420.5 L1264.4,409.5 L1267.2,409.5 L1267.2,382.5 L1268.7,382.5 L1268.7,402.5 L1271.8,402.5 L1271.8,400.5 L1272.8,400.5 L1272.8,410.5 L1275.8,410.5 L1275.8,388.5 L1279.0,388.5 L1279.0,386.5 L1281.2,386.5 L1281.2,370.5 L1284.1,370.5 L1284.1,365.5 L1286.8,365.5 L1286.8,415.5 L1287.8,415.5 L1287.8,444.6 Z M1291.3,444.6 L1291.3,430.5 L1292.4,430.5 L1292.4,405.5 L1293.5,405.5 L1293.5,384.5 L1296.5,384.5 L1296.5,415.5 L1297.4,415.5 L1297.4,435.5 L1298.2,435.5 L1298.2,444.6 Z M1322.1,444.6 L1322.1,430.5 L1327.2,430.5 L1327.2,402.5 L1330.4,402.5 L1330.4,384.5 L1331.9,384.5 L1331.9,407.5 L1335.3,407.5 L1335.3,400.5 L1338.1,400.5 L1338.1,392.5 L1339.7,392.5 L1339.7,394.5 L1345.0,394.5 L1345.0,376.5 L1347.0,376.5 L1347.0,425.5 L1348.2,425.5 L1348.2,436.5 L1353.5,436.5 L1353.5,424.5 L1356.5,424.5 L1356.5,437.5 L1358.7,437.5 L1358.7,442.5 L1361.0,442.5 L1361.0,444.6 Z M1381.8,444.6 L1381.8,437.5 L1383.8,437.5 L1383.8,425.5 L1385.8,425.5 L1385.8,413.5 L1388.6,413.5 L1388.6,391.5 L1390.7,391.5 L1390.7,410.5 L1394.1,410.5 L1394.1,405.5 L1399.5,405.5 L1399.5,389.5 L1404.4,389.5 L1404.4,367.5 L1406.5,367.5 L1406.5,402.5 L1408.8,402.5 L1408.8,431.5 L1412.3,431.5 L1412.3,410.5 L1414.1,410.5 L1414.1,383.5 L1416.1,383.5 L1416.1,415.5 L1418.7,415.5 L1418.7,444.6 Z M1444.4,444.6 L1444.4,417.5 L1446.8,417.5 L1446.8,412.5 L1450.8,412.5 L1450.8,402.5 L1453.5,402.5 L1453.5,353.5 L1455.6,353.5 L1455.6,410.5 L1458.4,410.5 L1458.4,394.5 L1462.1,394.5 L1462.1,389.5 L1467.5,389.5 L1467.5,384.5 L1469.6,384.5 L1469.6,437.5 L1472.6,437.5 L1472.6,413.5 L1474.4,413.5 L1474.4,383.5 L1476.8,383.5 L1476.8,400.5 L1479.2,400.5 L1479.2,417.5 L1480.6,417.5 L1480.6,431.5 L1482.0,431.5 L1482.0,440.5 L1483.4,440.5 L1483.4,444.6 Z M1503.9,444.6 L1503.9,437.5 L1505.3,437.5 L1505.3,429.5 L1506.8,429.5 L1506.8,419.5 L1508.8,419.5 L1508.8,424.5 L1512.3,424.5 L1512.3,404.5 L1515.3,404.5 L1515.3,371.5 L1517.9,371.5 L1517.9,413.5 L1521.8,413.5 L1521.8,402.5 L1525.3,402.5 L1525.3,389.5 L1527.5,389.5 L1527.5,378.5 L1529.2,378.5 L1529.2,440.5 L1533.5,440.5 L1533.5,345.5 L1536.1,345.5 L1536.1,422.5 L1538.7,422.5 L1538.7,430.5 L1541.2,430.5 L1541.2,439.5 L1543.7,439.5 L1543.7,444.6 Z M1562.1,444.6 L1562.1,435.5 L1566.8,435.5 L1566.8,420.5 L1569.9,420.5 L1569.9,416.5 L1573.5,416.5 L1573.5,412.5 L1576.5,412.5 L1576.5,417.5 L1580.3,417.5 L1580.3,399.5 L1584.4,399.5 L1584.4,390.5 L1587.0,390.5 L1587.0,425.5 L1588.5,425.5 L1588.5,436.5 L1596.3,436.5 L1596.3,434.5 L1604.7,434.5 L1604.7,444.6 Z" fill="#231F20" stroke="#231F20" stroke-width="1.7" stroke-linejoin="round"/>
</g>
<g id="panel-a">
<text x="79.92" y="42.00" font-size="47.00" font-weight="bold" fill="#231F20" stroke="#231F20" stroke-width="0.30" stroke-linejoin="round" textLength="42.50" lengthAdjust="spacingAndGlyphs">a)</text>
<text x="171.56" y="44.70" font-size="27.30" font-weight="normal" fill="#231F20" stroke="#231F20" stroke-width="0.55" stroke-linejoin="round" textLength="280.55" lengthAdjust="spacingAndGlyphs">Before Noise Removal</text>
<text x="595.31" y="44.70" font-size="27.30" font-weight="normal" fill="#231F20" stroke="#231F20" stroke-width="0.55" stroke-linejoin="round" textLength="256.31" lengthAdjust="spacingAndGlyphs">After Noise Removal</text>
<rect x="55.8" y="134" width="9.9" height="49.7" fill="#000"/><rect x="59.1" y="177.1" width="73.8" height="9.3" fill="#000"/>
<text x="-1.25" y="164.30" font-size="21.20" font-weight="normal" fill="#231F20" stroke="#231F20" stroke-width="0.40" stroke-linejoin="round" textLength="55.32" lengthAdjust="spacingAndGlyphs">50 uV</text>
<text x="69.33" y="203.00" font-size="21.20" font-weight="normal" fill="#231F20" stroke="#231F20" stroke-width="0.40" stroke-linejoin="round" textLength="58.54" lengthAdjust="spacingAndGlyphs">20 ms</text>
<rect x="56.1" y="360.6" width="9.9" height="50.1" fill="#000"/><rect x="61.5" y="404" width="69.4" height="9.6" fill="#000"/>
<text x="0.36" y="390.70" font-size="21.20" font-weight="normal" fill="#231F20" stroke="#231F20" stroke-width="0.40" stroke-linejoin="round" textLength="54.81" lengthAdjust="spacingAndGlyphs">50 uV</text>
<text x="74.72" y="431.90" font-size="21.20" font-weight="normal" fill="#231F20" stroke="#231F20" stroke-width="0.40" stroke-linejoin="round" textLength="46.62" lengthAdjust="spacingAndGlyphs">2 ms</text>
<line x1="292.3" y1="263.2" x2="144.2" y2="288.4" stroke="#34373B" stroke-width="3.1" stroke-linecap="round"/>
<line x1="343.0" y1="261.3" x2="515.6" y2="286.6" stroke="#34373B" stroke-width="3.1" stroke-linecap="round"/>
<line x1="704.4" y1="261.2" x2="556.4" y2="287.4" stroke="#34373B" stroke-width="3.1" stroke-linecap="round"/>
<line x1="756.0" y1="259.9" x2="927.2" y2="285.3" stroke="#34373B" stroke-width="3.1" stroke-linecap="round"/>
<path d="M149.3,161.1 C149.6,159.9 150.3,155.1 150.9,154.5 C151.5,154.0 152.0,155.9 152.5,157.8 C153.1,159.8 153.5,160.0 154.2,165.5 C154.8,171.0 155.6,189.9 156.1,188.4 C156.7,186.8 156.8,161.0 157.5,156.7 C158.1,152.4 158.9,166.3 159.6,164.4 C160.3,162.4 160.8,151.2 161.3,145.8 C161.8,140.4 162.0,134.4 162.4,134.4 C162.8,134.4 163.0,141.8 163.5,145.8 C163.9,149.8 164.5,154.0 165.1,156.7 C165.7,159.5 166.2,157.8 166.7,161.1 C167.3,164.3 167.6,175.9 168.1,174.7 C168.7,173.5 169.1,156.2 169.7,154.5 C170.2,152.9 170.5,164.1 171.1,165.5 C171.6,166.8 172.0,162.4 172.7,162.2 C173.4,162.0 174.0,166.8 174.9,164.4 C175.8,161.9 176.8,148.7 177.6,148.5 C178.4,148.3 178.8,159.2 179.3,163.3 C179.8,167.3 180.0,174.0 180.4,170.9 C180.8,167.8 181.0,148.8 181.5,145.8 C181.9,142.9 182.5,152.2 183.1,154.5 C183.7,156.9 184.1,160.7 184.7,158.9 C185.3,157.1 185.8,145.1 186.4,144.7 C187.0,144.3 187.3,153.0 188.0,156.7 C188.7,160.5 189.3,160.4 190.2,165.5 C191.1,170.5 192.1,183.8 192.9,184.5 C193.7,185.3 193.9,172.1 194.5,169.8 C195.2,167.6 195.9,177.3 196.7,172.0 C197.5,166.7 198.2,143.1 198.9,140.4 C199.6,137.6 200.0,151.2 200.5,156.7 C201.1,162.2 201.5,174.2 202.2,170.9 C202.9,167.6 203.6,143.1 204.4,138.2 C205.1,133.3 205.8,141.1 206.5,143.6 C207.3,146.2 207.9,146.3 208.7,152.4 C209.5,158.4 210.1,173.1 210.9,177.5 C211.7,181.8 212.3,179.3 213.1,176.4 C213.9,173.4 214.6,165.0 215.3,161.1 C216.0,157.2 216.3,153.0 216.9,154.5 C217.5,156.1 217.9,171.8 218.5,169.8 C219.2,167.9 219.9,148.9 220.7,143.6 C221.5,138.3 222.3,141.7 222.9,140.4 C223.5,139.0 223.7,133.1 224.2,136.0 C224.7,138.9 225.1,149.5 225.6,156.7 C226.2,164.0 226.5,170.0 227.3,176.4 C228.1,182.7 229.2,196.3 230.0,192.2 C230.8,188.1 231.0,158.5 231.6,153.5 C232.2,148.4 232.7,166.1 233.3,164.4 C233.9,162.6 234.4,149.7 234.9,143.6 C235.4,137.5 235.7,130.5 236.2,130.5 C236.7,130.5 237.1,137.7 237.6,143.6 C238.2,149.5 238.7,159.3 239.3,163.3 C239.9,167.2 240.3,163.1 240.9,165.5 C241.5,167.8 242.0,177.9 242.5,176.4 C243.1,174.8 243.5,159.1 244.2,156.7 C244.9,154.4 245.5,164.8 246.4,163.3 C247.2,161.7 248.2,148.4 249.1,148.0 C250.0,147.6 250.5,157.9 251.3,161.1 C252.1,164.2 252.7,162.0 253.5,165.5 C254.2,168.9 254.7,182.1 255.4,180.2 C256.1,178.2 256.5,156.8 257.3,154.5 C258.0,152.3 258.7,170.0 259.5,167.6 C260.2,165.3 261.0,144.2 261.6,141.5 C262.2,138.7 262.2,150.6 262.7,152.4 C263.2,154.1 263.8,148.9 264.4,151.3 C264.9,153.6 265.4,158.3 266.0,165.5 C266.6,172.6 267.0,193.4 267.6,191.1 C268.2,188.7 268.7,157.8 269.3,152.4 C269.9,147.0 270.3,158.3 270.9,161.1 C271.5,163.8 272.0,172.7 272.5,167.6 C273.1,162.5 273.5,135.5 274.0,132.7 C274.4,130.0 274.6,146.9 275.3,152.4 C275.9,157.9 276.7,159.5 277.4,163.3 C278.2,167.0 278.8,174.1 279.6,173.1 C280.4,172.1 281.0,159.2 281.8,157.8 C282.6,156.4 283.2,166.2 284.0,165.5 C284.8,164.7 285.4,152.5 286.2,153.5 C287.0,154.4 287.7,170.3 288.4,170.9 C289.0,171.5 289.4,159.2 290.0,156.7 C290.6,154.3 290.8,156.4 291.5,157.4 C292.2,158.4 292.9,161.7 294.0,162.3 C295.0,162.9 296.2,164.5 297.3,160.7 C298.3,156.8 299.0,143.0 299.7,140.9 C300.5,138.8 300.6,148.8 301.4,149.1 C302.1,149.4 303.0,143.4 303.8,142.5 C304.7,141.6 305.4,141.8 306.3,144.2 C307.2,146.5 308.0,152.1 308.8,155.7 C309.5,159.3 309.9,158.6 310.4,164.0 C310.9,169.3 311.1,174.1 311.6,185.4 C312.0,196.7 312.5,214.1 312.9,226.6 C313.3,239.0 313.5,256.1 313.9,254.6 C314.3,253.1 314.7,236.7 315.2,218.3 C315.7,199.9 316.1,173.2 316.5,152.4 C317.0,131.6 317.2,115.0 317.5,103.0 C317.9,90.9 318.0,84.2 318.3,85.7 C318.7,87.1 319.1,102.2 319.5,111.2 C319.9,120.3 320.4,133.6 320.8,135.9 C321.3,138.3 321.5,126.2 322.0,124.4 C322.5,122.6 323.2,121.6 323.6,126.0 C324.1,130.5 324.2,139.9 324.4,149.1 C324.7,158.3 324.9,175.4 325.3,177.1 C325.6,178.9 326.0,165.8 326.4,159.0 C326.9,152.2 327.2,139.8 327.7,139.2 C328.3,138.6 328.7,153.6 329.4,155.7 C330.1,157.8 331.0,153.7 331.9,150.8 C332.8,147.8 333.5,141.9 334.3,139.2 C335.1,136.6 335.7,132.4 336.3,135.9 C336.9,139.5 337.0,153.1 337.6,159.0 C338.3,164.9 339.2,165.6 340.1,168.9 C341.0,172.2 341.8,174.5 342.6,177.1 C343.4,179.8 344.0,185.2 344.6,183.7 C345.1,182.2 345.3,177.5 345.9,168.9 C346.4,160.3 347.0,145.6 347.5,135.9 C348.0,126.3 348.2,115.3 348.7,115.3 C349.1,115.3 349.5,129.8 350.0,135.9 C350.5,142.0 351.2,146.0 351.6,149.1 C352.1,152.3 352.1,152.1 352.6,153.4 C353.1,154.7 354.1,152.1 354.6,156.3 C355.1,160.6 355.0,176.5 355.4,177.1 C355.7,177.6 356.1,163.0 356.6,159.3 C357.0,155.6 357.6,154.9 358.0,156.3 C358.5,157.7 358.6,167.4 359.0,167.2 C359.4,167.0 359.8,156.8 360.3,155.3 C360.8,153.9 361.3,157.7 362.0,159.3 C362.7,160.9 363.3,164.4 364.0,164.2 C364.6,164.1 364.9,155.6 365.5,158.3 C366.0,161.0 366.7,178.2 367.2,179.1 C367.8,179.9 367.9,167.0 368.4,163.2 C368.9,159.5 369.4,159.7 369.9,158.3 C370.4,156.9 370.8,157.3 371.4,155.3 C371.9,153.4 372.4,149.2 372.9,147.4 C373.3,145.7 373.4,144.0 373.9,145.5 C374.3,146.9 374.7,152.7 375.3,155.3 C376.0,158.0 376.7,159.6 377.3,160.3 C377.9,161.0 378.3,154.1 378.8,159.3 C379.2,164.4 379.3,188.6 379.8,188.9 C380.2,189.3 380.7,166.8 381.3,161.3 C381.8,155.8 382.2,156.9 382.7,158.3 C383.3,159.7 383.7,173.1 384.2,169.2 C384.8,165.3 385.2,139.1 385.7,136.6 C386.2,134.1 386.6,151.6 387.2,155.3 C387.8,159.1 388.5,154.5 389.2,157.3 C389.8,160.2 390.1,168.4 390.7,171.1 C391.2,173.9 391.6,176.4 392.1,172.6 C392.7,168.9 393.1,154.6 393.6,150.4 C394.2,146.2 394.6,148.5 395.1,149.4 C395.6,150.3 396.0,155.0 396.6,155.3 C397.1,155.7 397.5,151.7 398.1,151.4 C398.6,151.0 399.0,151.6 399.5,153.4 C400.1,155.1 400.4,159.5 401.0,161.3 C401.7,163.0 402.4,159.7 403.0,163.2 C403.6,166.8 404.0,181.7 404.5,181.0 C405.0,180.3 405.4,162.5 406.0,159.3 C406.5,156.1 406.9,163.2 407.5,163.2 C408.0,163.2 408.3,163.5 408.9,159.3 C409.5,155.1 410.2,140.0 410.7,140.0 C411.2,140.0 411.4,154.9 411.9,159.3 C412.4,163.6 412.8,163.5 413.4,164.2 C413.9,164.9 414.2,158.6 414.9,163.2 C415.5,167.9 416.2,192.1 416.8,189.9 C417.5,187.8 417.8,158.1 418.3,151.4 C418.9,144.6 419.2,153.1 419.8,152.4 C420.4,151.7 421.2,151.3 421.8,147.4 C422.4,143.5 422.7,128.9 423.3,130.6 C423.8,132.4 424.3,149.1 424.7,157.3 C425.2,165.5 425.3,172.9 425.7,176.1 C426.2,179.3 426.7,178.1 427.2,175.1 C427.7,172.1 428.2,160.4 428.7,159.3 C429.2,158.2 429.6,170.1 430.2,169.2 C430.8,168.3 431.5,158.4 432.2,154.3 C432.8,150.3 433.0,148.9 433.6,146.4 C434.3,144.0 435.0,140.3 435.6,140.5 C436.2,140.7 436.6,145.5 437.1,147.4 C437.6,149.4 437.9,149.1 438.6,151.4 C439.3,153.7 440.2,152.8 441.0,160.3 C441.8,167.7 442.3,186.7 443.0,192.9 C443.8,199.1 444.6,199.1 445.3,194.9 C446.0,190.6 446.5,178.2 447.0,169.2 C447.5,160.1 447.6,149.7 448.0,144.5 C448.3,139.2 448.5,140.7 449.0,140.0 C449.4,139.3 450.1,138.6 450.4,140.5 C450.7,142.4 450.6,148.6 450.6,150.4" fill="none" stroke="#808285" stroke-width="3.6" stroke-linejoin="round" stroke-linecap="round"/>
<path d="M565.9,154.5 C566.3,155.9 567.3,160.4 568.1,162.2 C568.9,163.9 569.5,165.0 570.3,164.4 C571.1,163.8 571.6,159.1 572.5,158.9 C573.3,158.7 574.3,164.3 575.2,163.3 C576.1,162.3 576.6,154.8 577.4,153.5 C578.1,152.1 578.8,154.3 579.5,155.6 C580.3,157.0 580.8,159.3 581.7,161.1 C582.6,162.9 583.6,166.8 584.5,165.5 C585.3,164.1 585.8,153.8 586.6,153.5 C587.4,153.1 588.0,160.7 588.8,163.3 C589.6,165.8 590.2,170.4 591.0,167.6 C591.8,164.9 592.2,151.9 593.2,148.0 C594.2,144.1 595.5,145.2 596.5,145.8 C597.4,146.4 597.8,149.7 598.6,151.3 C599.4,152.8 600.0,151.4 600.8,154.5 C601.6,157.7 602.2,168.3 603.0,168.7 C603.8,169.1 604.4,157.3 605.2,156.7 C606.0,156.1 606.6,164.1 607.4,165.5 C608.1,166.8 608.8,163.6 609.5,164.4 C610.3,165.1 610.9,168.8 611.7,169.8 C612.5,170.8 613.3,172.2 613.9,169.8 C614.5,167.5 614.7,157.5 615.2,156.7 C615.7,155.9 616.1,163.1 616.6,165.5 C617.2,167.8 617.7,173.7 618.3,169.8 C618.9,165.9 619.4,149.1 619.9,143.6 C620.4,138.1 620.3,139.5 621.0,139.3 C621.7,139.1 622.8,140.4 623.7,142.5 C624.6,144.7 625.2,145.6 625.9,151.3 C626.6,157.0 626.9,169.6 627.5,174.2 C628.2,178.8 629.0,178.7 629.7,176.9 C630.4,175.1 630.7,168.8 631.4,164.4 C632.0,159.9 632.8,153.7 633.5,152.4 C634.3,151.0 635.0,158.4 635.7,156.7 C636.5,155.1 636.8,145.1 637.6,143.1 C638.4,141.1 639.2,139.7 640.1,145.8 C640.9,151.9 641.5,171.8 642.3,176.9 C643.1,182.0 643.7,177.0 644.5,174.2 C645.2,171.3 646.0,164.6 646.6,161.1 C647.3,157.6 647.4,154.0 647.9,154.5 C648.5,155.1 649.0,162.8 649.9,164.4 C650.8,165.9 652.1,164.4 653.2,163.3 C654.3,162.1 655.0,158.0 655.9,157.8 C656.8,157.6 657.3,162.6 658.1,162.2 C658.9,161.8 659.5,156.0 660.3,155.6 C661.1,155.2 661.8,160.8 662.5,160.0 C663.1,159.2 663.6,154.2 664.1,151.3 C664.6,148.3 664.7,143.4 665.2,143.6 C665.7,143.8 666.1,148.5 666.8,152.4 C667.5,156.2 668.2,164.3 669.0,164.9 C669.8,165.5 670.3,156.3 671.2,155.6 C672.1,154.9 673.0,158.9 673.9,161.1 C674.8,163.2 675.3,169.0 676.1,167.6 C676.9,166.3 677.5,156.3 678.3,153.5 C679.1,150.6 679.8,150.2 680.4,151.8 C681.1,153.4 681.5,158.7 682.1,162.2 C682.7,165.6 683.1,172.9 683.7,170.9 C684.3,168.9 684.7,152.8 685.4,151.3 C686.0,149.7 686.8,161.2 687.5,162.2 C688.3,163.2 688.9,156.3 689.7,156.7 C690.5,157.1 691.1,163.6 691.9,164.4 C692.7,165.1 693.7,162.3 694.1,161.1 C694.5,159.8 693.7,159.2 694.1,157.4 C694.5,155.5 695.5,149.0 696.3,150.8 C697.0,152.5 697.5,166.4 698.2,167.2 C699.0,168.1 699.5,156.6 700.2,155.7 C701.0,154.8 701.7,159.9 702.4,162.3 C703.0,164.7 703.3,169.3 704.0,168.9 C704.8,168.5 705.4,161.6 706.5,159.8 C707.5,158.1 708.6,159.5 709.8,159.0 C711.0,158.6 711.9,159.4 713.1,157.4 C714.3,155.3 715.3,150.1 716.4,147.5 C717.4,144.8 718.0,143.6 718.8,142.5 C719.7,141.5 720.4,141.7 721.3,141.7 C722.2,141.7 723.0,141.2 723.8,142.5 C724.5,143.9 724.9,144.4 725.4,149.1 C725.9,153.9 726.1,157.9 726.6,168.9 C727.0,179.9 727.4,195.3 727.9,210.1 C728.4,224.9 728.8,251.3 729.2,251.3 C729.7,251.3 730.0,227.9 730.5,210.1 C731.1,192.3 731.5,171.7 732.0,152.4 C732.5,133.1 732.9,114.8 733.3,103.0 C733.8,91.1 734.1,85.0 734.5,86.5 C734.9,88.0 735.2,101.7 735.7,111.2 C736.1,120.7 736.5,133.6 737.0,139.2 C737.4,144.9 737.7,141.0 738.1,142.5 C738.6,144.0 738.9,144.5 739.4,147.5 C740.0,150.4 740.5,155.7 741.1,159.0 C741.7,162.3 742.0,163.8 742.7,165.6 C743.5,167.4 744.3,170.0 745.2,168.9 C746.1,167.8 746.8,162.8 747.8,159.3 C748.9,155.8 749.9,151.8 750.8,149.4 C751.7,147.0 752.1,145.2 752.8,145.9 C753.5,146.7 754.1,150.6 754.8,153.4 C755.4,156.1 755.6,158.1 756.2,161.3 C756.9,164.5 757.4,167.0 758.2,171.1 C759.1,175.3 760.1,184.8 760.9,184.5 C761.7,184.1 762.2,175.8 762.7,169.2 C763.2,162.5 763.3,152.3 763.7,147.4 C764.0,142.5 764.1,142.2 764.6,142.0 C765.2,141.8 765.9,144.0 766.6,146.4 C767.3,148.8 767.9,152.8 768.6,155.3 C769.3,157.8 770.0,160.3 770.6,160.3 C771.2,160.3 771.4,155.7 772.1,155.3 C772.7,155.0 773.4,157.2 774.0,158.3 C774.7,159.4 774.9,159.5 775.5,161.3 C776.1,163.0 776.7,168.9 777.3,168.2 C777.9,167.5 778.4,158.2 779.0,157.3 C779.5,156.4 779.8,162.9 780.5,163.2 C781.1,163.6 781.8,158.9 782.4,159.3 C783.1,159.6 783.3,165.9 783.9,165.2 C784.5,164.5 785.3,156.6 785.9,155.3 C786.5,154.1 786.7,157.6 787.4,158.3 C788.0,159.0 788.6,160.4 789.3,159.3 C790.1,158.2 790.6,152.4 791.3,152.4 C792.0,152.4 792.7,157.3 793.3,159.3 C793.9,161.2 794.2,161.3 794.8,163.2 C795.3,165.2 795.7,171.6 796.3,170.2 C796.8,168.7 797.1,158.2 797.7,155.3 C798.4,152.5 799.1,152.6 799.7,154.3 C800.3,156.1 800.6,164.3 801.2,165.2 C801.8,166.1 802.5,161.2 803.2,159.3 C803.9,157.3 804.5,153.6 805.2,154.3 C805.8,155.1 806.1,159.9 806.6,163.2 C807.1,166.6 807.4,173.8 807.9,173.1 C808.4,172.4 808.8,163.9 809.3,159.3 C809.8,154.7 810.1,147.4 810.6,147.4 C811.1,147.4 811.5,156.8 812.1,159.3 C812.6,161.8 813.0,162.5 813.6,161.3 C814.1,160.0 814.5,153.4 815.0,152.4 C815.6,151.3 816.0,153.2 816.5,155.3 C817.1,157.5 817.4,163.9 818.0,164.2 C818.6,164.6 819.4,158.9 820.0,157.3 C820.6,155.7 820.9,153.7 821.5,155.3 C822.0,156.9 822.3,165.1 822.9,166.2 C823.6,167.3 824.1,161.1 824.9,161.3 C825.7,161.4 826.6,167.5 827.4,167.2 C828.2,166.8 828.6,161.8 829.4,159.3 C830.2,156.8 831.0,155.3 831.8,153.4 C832.6,151.4 833.2,145.9 833.8,148.4 C834.4,150.9 834.8,165.9 835.3,167.2 C835.8,168.4 836.3,158.2 836.8,155.3 C837.2,152.5 837.2,150.7 837.8,151.4 C838.3,152.1 839.1,156.4 839.7,159.3 C840.4,162.1 840.7,164.2 841.2,167.2 C841.7,170.2 842.1,176.6 842.5,176.1 C843.0,175.6 843.1,169.0 843.7,164.2 C844.3,159.4 845.0,149.9 845.7,149.4 C846.3,148.9 846.5,161.8 847.2,161.3 C847.8,160.7 848.5,147.5 849.1,146.4 C849.8,145.4 850.1,155.2 850.6,155.3 C851.1,155.5 851.6,148.7 852.1,147.4 C852.6,146.2 853.0,147.0 853.6,148.4 C854.2,149.8 854.8,153.0 855.6,155.3 C856.3,157.6 856.9,157.4 857.5,161.3 C858.2,165.2 858.5,172.1 859.0,177.1 C859.5,182.1 860.0,185.6 860.5,188.9 C861.0,192.2 861.3,197.1 861.8,195.4 C862.2,193.6 862.6,185.5 863.0,179.1 C863.4,172.6 863.6,164.3 864.0,159.3 C864.3,154.3 864.5,155.1 864.9,151.4 C865.3,147.6 866.0,140.8 866.2,138.5" fill="none" stroke="#808285" stroke-width="3.6" stroke-linejoin="round" stroke-linecap="round"/>
<path d="M301.7,65.0 L293.6,65.0 L293.6,73.1" fill="none" stroke="#231F20" stroke-width="6.6"/>
<path d="M333.5,65.0 L341.6,65.0 L341.6,73.1" fill="none" stroke="#231F20" stroke-width="6.6"/>
<path d="M301.7,260.7 L293.6,260.7 L293.6,252.6" fill="none" stroke="#231F20" stroke-width="6.6"/>
<path d="M333.5,260.7 L341.6,260.7 L341.6,252.6" fill="none" stroke="#231F20" stroke-width="6.6"/>
<line x1="312.3" y1="65.0" x2="328.0" y2="65.0" stroke="#231F20" stroke-width="6.6"/>
<line x1="307.2" y1="260.7" x2="323.0" y2="260.7" stroke="#231F20" stroke-width="6.6"/>
<line x1="293.6" y1="115.6" x2="293.6" y2="155.0" stroke="#231F20" stroke-width="6.6"/>
<line x1="293.6" y1="196.4" x2="293.6" y2="236.7" stroke="#231F20" stroke-width="6.6"/>
<line x1="341.6" y1="89.9" x2="341.6" y2="129.7" stroke="#231F20" stroke-width="6.6"/>
<line x1="341.6" y1="170.5" x2="341.6" y2="210.4" stroke="#231F20" stroke-width="6.6"/>
<path d="M713.6,62.0 L705.7,62.0 L705.7,70.0" fill="none" stroke="#231F20" stroke-width="6.9"/>
<path d="M745.8,62.0 L753.7,62.0 L753.7,70.0" fill="none" stroke="#231F20" stroke-width="6.9"/>
<path d="M713.6,257.8 L705.7,257.8 L705.7,249.8" fill="none" stroke="#231F20" stroke-width="6.9"/>
<path d="M745.8,257.8 L753.7,257.8 L753.7,249.8" fill="none" stroke="#231F20" stroke-width="6.9"/>
<line x1="724.0" y1="62.0" x2="740.3" y2="62.0" stroke="#231F20" stroke-width="6.9"/>
<line x1="719.5" y1="257.8" x2="735.8" y2="257.8" stroke="#231F20" stroke-width="6.9"/>
<line x1="705.7" y1="112.5" x2="705.7" y2="152.4" stroke="#231F20" stroke-width="6.9"/>
<line x1="705.7" y1="193.2" x2="705.7" y2="233.0" stroke="#231F20" stroke-width="6.9"/>
<line x1="753.7" y1="86.2" x2="753.7" y2="126.1" stroke="#231F20" stroke-width="6.9"/>
<line x1="753.7" y1="167.4" x2="753.7" y2="207.3" stroke="#231F20" stroke-width="6.9"/>
<path d="M304.8,129.6 L296.7,129.6 L296.7,137.7" fill="none" stroke="#C8152D" stroke-width="5.4"/>
<path d="M300.1,129.6 L308.2,129.6 L308.2,137.7" fill="none" stroke="#C8152D" stroke-width="5.4"/>
<path d="M304.8,176.9 L296.7,176.9 L296.7,168.8" fill="none" stroke="#C8152D" stroke-width="5.4"/>
<path d="M300.1,176.9 L308.2,176.9 L308.2,168.8" fill="none" stroke="#C8152D" stroke-width="5.4"/>
<line x1="296.7" y1="129.6" x2="308.2" y2="129.6" stroke="#C8152D" stroke-width="5.4"/>
<line x1="296.7" y1="176.9" x2="308.2" y2="176.9" stroke="#C8152D" stroke-width="5.4"/>
<line x1="296.7" y1="142.1" x2="296.7" y2="158.9" stroke="#C8152D" stroke-width="5.4"/>
<line x1="308.2" y1="147.6" x2="308.2" y2="163.4" stroke="#C8152D" stroke-width="5.4"/>
<path d="M335.2,130.7 L327.1,130.7 L327.1,138.8" fill="none" stroke="#C8152D" stroke-width="5.4"/>
<path d="M331.3,130.7 L339.4,130.7 L339.4,138.8" fill="none" stroke="#C8152D" stroke-width="5.4"/>
<path d="M335.2,187.6 L327.1,187.6 L327.1,179.5" fill="none" stroke="#C8152D" stroke-width="5.4"/>
<path d="M331.3,187.6 L339.4,187.6 L339.4,179.5" fill="none" stroke="#C8152D" stroke-width="5.4"/>
<line x1="327.1" y1="130.7" x2="339.4" y2="130.7" stroke="#C8152D" stroke-width="5.4"/>
<line x1="327.1" y1="187.6" x2="339.4" y2="187.6" stroke="#C8152D" stroke-width="5.4"/>
<line x1="327.1" y1="145.7" x2="327.1" y2="163.4" stroke="#C8152D" stroke-width="5.4"/>
<line x1="339.4" y1="152.0" x2="339.4" y2="172.5" stroke="#C8152D" stroke-width="5.4"/>
<path d="M716.8,128.4 L708.7,128.4 L708.7,136.5" fill="none" stroke="#C8152D" stroke-width="5.4"/>
<path d="M712.7,128.4 L720.8,128.4 L720.8,136.5" fill="none" stroke="#C8152D" stroke-width="5.4"/>
<path d="M716.8,175.8 L708.7,175.8 L708.7,167.7" fill="none" stroke="#C8152D" stroke-width="5.4"/>
<path d="M712.7,175.8 L720.8,175.8 L720.8,167.7" fill="none" stroke="#C8152D" stroke-width="5.4"/>
<line x1="708.7" y1="128.4" x2="720.8" y2="128.4" stroke="#C8152D" stroke-width="5.4"/>
<line x1="708.7" y1="175.8" x2="720.8" y2="175.8" stroke="#C8152D" stroke-width="5.4"/>
<line x1="708.7" y1="140.9" x2="708.7" y2="157.7" stroke="#C8152D" stroke-width="5.4"/>
<line x1="720.8" y1="146.4" x2="720.8" y2="162.2" stroke="#C8152D" stroke-width="5.4"/>
<path d="M747.4,129.2 L739.3,129.2 L739.3,137.3" fill="none" stroke="#C8152D" stroke-width="5.4"/>
<path d="M743.5,129.2 L751.6,129.2 L751.6,137.3" fill="none" stroke="#C8152D" stroke-width="5.4"/>
<path d="M747.4,186.3 L739.3,186.3 L739.3,178.2" fill="none" stroke="#C8152D" stroke-width="5.4"/>
<path d="M743.5,186.3 L751.6,186.3 L751.6,178.2" fill="none" stroke="#C8152D" stroke-width="5.4"/>
<line x1="739.3" y1="129.2" x2="751.6" y2="129.2" stroke="#C8152D" stroke-width="5.4"/>
<line x1="739.3" y1="186.3" x2="751.6" y2="186.3" stroke="#C8152D" stroke-width="5.4"/>
<line x1="739.3" y1="144.2" x2="739.3" y2="161.9" stroke="#C8152D" stroke-width="5.4"/>
<line x1="751.6" y1="150.5" x2="751.6" y2="171.0" stroke="#C8152D" stroke-width="5.4"/>
<path d="M155.1,289.8 L147.0,289.8 L147.0,297.9" fill="none" stroke="#231F20" stroke-width="7.0"/>
<path d="M504.9,289.8 L513.0,289.8 L513.0,297.9" fill="none" stroke="#231F20" stroke-width="7.0"/>
<path d="M155.1,472.7 L147.0,472.7 L147.0,464.6" fill="none" stroke="#231F20" stroke-width="7.0"/>
<path d="M504.9,472.7 L513.0,472.7 L513.0,464.6" fill="none" stroke="#231F20" stroke-width="7.0"/>
<line x1="171.7" y1="289.8" x2="212.9" y2="289.8" stroke="#231F20" stroke-width="7.0"/>
<line x1="254.1" y1="289.8" x2="295.3" y2="289.8" stroke="#231F20" stroke-width="7.0"/>
<line x1="336.5" y1="289.8" x2="377.8" y2="289.8" stroke="#231F20" stroke-width="7.0"/>
<line x1="419.0" y1="289.8" x2="460.2" y2="289.8" stroke="#231F20" stroke-width="7.0"/>
<line x1="199.8" y1="472.7" x2="241.0" y2="472.7" stroke="#231F20" stroke-width="7.0"/>
<line x1="282.2" y1="472.7" x2="323.5" y2="472.7" stroke="#231F20" stroke-width="7.0"/>
<line x1="364.7" y1="472.7" x2="405.9" y2="472.7" stroke="#231F20" stroke-width="7.0"/>
<line x1="447.0" y1="472.7" x2="488.3" y2="472.7" stroke="#231F20" stroke-width="7.0"/>
<line x1="147.0" y1="337.4" x2="147.0" y2="374.2" stroke="#231F20" stroke-width="7.0"/>
<line x1="147.0" y1="412.5" x2="147.0" y2="449.4" stroke="#231F20" stroke-width="7.0"/>
<line x1="513.0" y1="313.2" x2="513.0" y2="350.0" stroke="#231F20" stroke-width="7.0"/>
<line x1="513.0" y1="388.8" x2="513.0" y2="425.2" stroke="#231F20" stroke-width="7.0"/>
<path d="M567.1,289.8 L559.0,289.8 L559.0,297.9" fill="none" stroke="#231F20" stroke-width="7.0"/>
<path d="M917.1,289.8 L925.2,289.8 L925.2,297.9" fill="none" stroke="#231F20" stroke-width="7.0"/>
<path d="M567.1,472.7 L559.0,472.7 L559.0,464.6" fill="none" stroke="#231F20" stroke-width="7.0"/>
<path d="M917.1,472.7 L925.2,472.7 L925.2,464.6" fill="none" stroke="#231F20" stroke-width="7.0"/>
<line x1="583.6" y1="289.8" x2="624.8" y2="289.8" stroke="#231F20" stroke-width="7.0"/>
<line x1="666.0" y1="289.8" x2="707.3" y2="289.8" stroke="#231F20" stroke-width="7.0"/>
<line x1="749.0" y1="289.8" x2="789.7" y2="289.8" stroke="#231F20" stroke-width="7.0"/>
<line x1="831.4" y1="289.8" x2="872.1" y2="289.8" stroke="#231F20" stroke-width="7.0"/>
<line x1="612.2" y1="472.7" x2="653.0" y2="472.7" stroke="#231F20" stroke-width="7.0"/>
<line x1="694.7" y1="472.7" x2="735.4" y2="472.7" stroke="#231F20" stroke-width="7.0"/>
<line x1="777.0" y1="472.7" x2="817.8" y2="472.7" stroke="#231F20" stroke-width="7.0"/>
<line x1="859.5" y1="472.7" x2="900.2" y2="472.7" stroke="#231F20" stroke-width="7.0"/>
<line x1="559.0" y1="337.4" x2="559.0" y2="374.2" stroke="#231F20" stroke-width="7.0"/>
<line x1="559.0" y1="412.5" x2="559.0" y2="449.4" stroke="#231F20" stroke-width="7.0"/>
<line x1="925.2" y1="313.2" x2="925.2" y2="350.0" stroke="#231F20" stroke-width="7.0"/>
<line x1="925.2" y1="388.8" x2="925.2" y2="425.2" stroke="#231F20" stroke-width="7.0"/>
<path d="M197.0,346.2 L188.5,346.2 L188.5,354.7" fill="none" stroke="#C8152D" stroke-width="4.6"/>
<path d="M217.4,346.2 L225.9,346.2 L225.9,354.7" fill="none" stroke="#C8152D" stroke-width="4.6"/>
<path d="M197.0,394.2 L188.5,394.2 L188.5,385.7" fill="none" stroke="#C8152D" stroke-width="4.6"/>
<path d="M217.4,394.2 L225.9,394.2 L225.9,385.7" fill="none" stroke="#C8152D" stroke-width="4.6"/>
<line x1="188.5" y1="359.7" x2="188.5" y2="375.5" stroke="#C8152D" stroke-width="4.6"/>
<line x1="225.9" y1="364.5" x2="225.9" y2="380.3" stroke="#C8152D" stroke-width="4.6"/>
<path d="M424.9,341.4 L416.4,341.4 L416.4,349.9" fill="none" stroke="#C8152D" stroke-width="4.6"/>
<path d="M487.7,341.4 L496.2,341.4 L496.2,349.9" fill="none" stroke="#C8152D" stroke-width="4.6"/>
<path d="M424.9,400.5 L416.4,400.5 L416.4,392.0" fill="none" stroke="#C8152D" stroke-width="4.6"/>
<path d="M487.7,400.5 L496.2,400.5 L496.2,392.0" fill="none" stroke="#C8152D" stroke-width="4.6"/>
<line x1="437.4" y1="341.4" x2="468.2" y2="341.4" stroke="#C8152D" stroke-width="4.6"/>
<line x1="444.4" y1="400.5" x2="474.7" y2="400.5" stroke="#C8152D" stroke-width="4.6"/>
<line x1="416.4" y1="357.8" x2="416.4" y2="378.4" stroke="#C8152D" stroke-width="4.6"/>
<line x1="496.2" y1="364.1" x2="496.2" y2="385.2" stroke="#C8152D" stroke-width="4.6"/>
<path d="M610.7,344.3 L602.2,344.3 L602.2,352.8" fill="none" stroke="#C8152D" stroke-width="4.6"/>
<path d="M631.0,344.3 L639.5,344.3 L639.5,352.8" fill="none" stroke="#C8152D" stroke-width="4.6"/>
<path d="M610.7,392.5 L602.2,392.5 L602.2,384.0" fill="none" stroke="#C8152D" stroke-width="4.6"/>
<path d="M631.0,392.5 L639.5,392.5 L639.5,384.0" fill="none" stroke="#C8152D" stroke-width="4.6"/>
<line x1="602.2" y1="357.8" x2="602.2" y2="373.5" stroke="#C8152D" stroke-width="4.6"/>
<line x1="639.5" y1="362.6" x2="639.5" y2="378.4" stroke="#C8152D" stroke-width="4.6"/>
<path d="M838.8,339.7 L830.3,339.7 L830.3,348.2" fill="none" stroke="#C8152D" stroke-width="4.6"/>
<path d="M900.6,339.7 L909.1,339.7 L909.1,348.2" fill="none" stroke="#C8152D" stroke-width="4.6"/>
<path d="M838.8,398.6 L830.3,398.6 L830.3,390.1" fill="none" stroke="#C8152D" stroke-width="4.6"/>
<path d="M900.6,398.6 L909.1,398.6 L909.1,390.1" fill="none" stroke="#C8152D" stroke-width="4.6"/>
<line x1="851.5" y1="339.7" x2="881.8" y2="339.7" stroke="#C8152D" stroke-width="4.6"/>
<line x1="858.1" y1="398.6" x2="888.6" y2="398.6" stroke="#C8152D" stroke-width="4.6"/>
<line x1="830.3" y1="356.1" x2="830.3" y2="376.7" stroke="#C8152D" stroke-width="4.6"/>
<line x1="909.1" y1="362.1" x2="909.1" y2="383.2" stroke="#C8152D" stroke-width="4.6"/>
<path d="M150.6,350.0 C151.3,350.4 153.2,350.7 154.2,352.4 C155.3,354.2 155.7,356.4 156.7,359.7 C157.6,363.0 158.3,370.0 159.6,370.6 C160.9,371.3 162.3,363.5 163.9,363.3 C165.6,363.2 166.9,370.0 168.8,369.9 C170.7,369.7 172.6,363.6 174.4,362.6 C176.1,361.6 176.9,363.5 178.5,364.5 C180.1,365.5 181.4,368.0 183.3,368.2 C185.3,368.4 187.6,367.4 189.4,365.8 C191.2,364.1 192.0,360.7 193.5,359.2 C195.0,357.7 196.6,356.8 197.9,357.3 C199.2,357.7 199.8,358.1 200.8,361.6 C201.8,365.1 202.5,372.1 203.5,376.7 C204.5,381.2 205.0,385.8 206.4,386.8 C207.8,387.9 209.6,386.1 211.2,382.7 C212.8,379.4 213.8,371.4 215.3,368.2 C216.9,365.0 218.3,366.8 219.7,365.0 C221.1,363.3 221.8,358.9 223.3,358.5 C224.9,358.0 226.3,361.4 228.2,362.6 C230.1,363.8 231.8,365.4 233.8,365.3 C235.7,365.1 237.3,361.3 239.1,361.6 C240.9,361.9 242.2,364.7 243.9,367.0 C245.7,369.2 247.3,372.3 248.8,374.2 C250.3,376.2 251.1,375.0 252.4,377.9 C253.7,380.7 254.8,390.0 256.1,390.0 C257.4,390.0 258.5,380.6 259.7,377.9 C260.9,375.1 261.7,374.1 262.8,374.7 C264.0,375.4 265.1,377.2 266.2,381.5 C267.4,385.8 268.4,390.6 269.4,398.5 C270.4,406.3 270.7,416.4 271.8,425.2 C272.9,433.9 274.1,440.4 275.5,447.0 C276.8,453.5 277.8,457.6 279.1,461.5 C280.4,465.4 281.2,468.4 282.7,468.8 C284.3,469.2 286.0,467.0 287.6,463.9 C289.1,460.9 289.9,456.0 291.2,451.8 C292.5,447.7 293.3,445.3 294.8,440.9 C296.4,436.5 298.0,434.8 299.7,427.6 C301.4,420.4 302.6,412.5 304.5,400.9 C306.5,389.3 308.6,372.9 310.6,363.3 C312.6,353.7 313.9,354.8 315.5,347.6 C317.0,340.4 317.8,331.2 319.1,323.3 C320.4,315.5 321.4,308.2 322.7,303.9 C324.0,299.7 325.1,299.4 326.4,299.6 C327.7,299.8 328.7,302.0 330.0,305.2 C331.3,308.3 332.3,312.3 333.6,317.3 C334.9,322.3 335.7,328.7 337.3,333.0 C338.8,337.4 340.6,336.7 342.1,341.5 C343.6,346.3 344.4,353.4 345.8,359.7 C347.1,366.0 347.9,371.4 349.4,376.7 C350.9,381.9 352.7,385.4 354.2,388.8 C355.8,392.1 356.4,395.1 357.9,395.3 C359.4,395.6 361.2,393.8 362.7,390.0 C364.3,386.2 365.3,381.0 366.4,374.2 C367.5,367.5 367.9,358.3 368.8,352.4 C369.7,346.5 370.1,343.9 371.2,341.5 C372.3,339.1 373.3,338.9 374.8,339.1 C376.4,339.3 378.2,341.9 379.7,342.7 C381.2,343.6 381.8,342.4 383.3,343.9 C384.9,345.5 386.4,349.0 388.2,351.2 C389.9,353.4 391.5,353.9 393.0,356.1 C394.6,358.2 395.6,360.5 396.7,363.3 C397.8,366.2 397.9,370.7 399.1,371.8 C400.3,372.9 402.1,369.2 403.5,369.4 C404.8,369.6 405.0,371.8 406.4,373.0 C407.8,374.3 409.7,375.7 411.2,376.2 C412.7,376.6 413.5,374.7 414.8,375.5 C416.2,376.2 417.2,379.1 418.5,380.3 C419.8,381.5 421.0,380.7 422.1,382.2 C423.2,383.8 423.5,386.1 424.5,388.8 C425.5,391.5 426.5,395.9 427.7,397.3 C428.9,398.7 429.9,398.7 431.1,396.5 C432.3,394.4 433.2,388.9 434.2,385.2 C435.2,381.4 435.1,377.9 436.7,375.5 C438.2,373.1 441.2,372.3 442.7,371.8 C444.3,371.4 443.2,373.2 445.2,373.0 C447.1,372.8 451.4,371.5 453.6,370.6 C455.9,369.7 456.4,367.6 457.8,368.2 C459.1,368.7 459.3,374.1 460.9,373.8 C462.6,373.5 465.0,367.2 467.0,366.5 C468.9,365.8 470.1,370.4 471.8,369.9 C473.6,369.3 475.1,366.3 476.7,363.3 C478.2,360.4 479.0,356.1 480.3,353.6 C481.6,351.1 482.6,350.0 483.9,349.5 C485.2,349.1 486.3,348.5 487.6,351.2 C488.9,353.9 490.1,361.3 491.2,364.5 C492.3,367.8 492.3,368.7 493.6,369.4 C494.9,370.0 497.0,367.3 498.5,368.2 C500.0,369.1 500.8,373.4 502.1,374.2 C503.4,375.1 504.2,372.4 505.8,373.0 C507.3,373.7 509.1,376.7 510.6,377.9 C512.1,379.1 513.6,379.3 514.2,379.6" fill="none" stroke="#000" stroke-width="3.1" stroke-linejoin="round" stroke-linecap="round"/>
<path d="M561.8,373.8 C562.5,372.5 564.1,368.3 565.5,367.0 C566.8,365.7 567.8,366.1 569.1,366.5 C570.4,366.8 571.3,369.5 572.7,368.9 C574.2,368.3 575.8,363.9 577.1,363.3 C578.4,362.8 579.0,364.5 580.0,365.8 C581.0,367.0 581.5,370.8 582.9,370.1 C584.3,369.5 586.1,363.2 587.8,362.1 C589.4,361.0 590.6,363.1 592.1,364.1 C593.6,365.1 594.7,367.2 596.2,367.7 C597.8,368.2 599.0,368.4 600.6,367.0 C602.2,365.5 603.4,361.4 605.0,359.7 C606.5,358.0 607.7,357.1 609.1,357.3 C610.5,357.5 611.1,359.4 612.7,360.9 C614.3,362.4 615.9,365.0 618.1,365.8 C620.2,366.5 622.5,365.0 624.8,365.0 C627.2,365.0 628.9,367.2 630.9,365.8 C632.9,364.4 634.2,358.5 635.8,357.3 C637.3,356.1 637.6,358.1 639.4,359.2 C641.1,360.3 643.4,363.2 645.5,363.3 C647.5,363.5 649.3,360.2 651.0,360.2 C652.8,360.2 653.5,361.2 655.2,363.3 C656.8,365.4 658.4,369.5 660.0,371.8 C661.6,374.1 662.4,372.7 664.1,375.9 C665.9,379.2 667.8,386.4 669.7,390.0 C671.6,393.6 672.8,390.8 674.5,396.1 C676.3,401.3 677.6,412.5 679.4,419.1 C681.1,425.6 682.5,426.5 684.2,432.4 C686.0,438.3 687.5,445.9 689.1,451.8 C690.7,457.7 692.1,462.4 693.2,465.2 C694.3,467.9 693.9,467.3 695.2,466.8 C696.4,466.4 698.3,466.3 700.0,462.7 C701.7,459.1 703.1,452.2 704.8,447.0 C706.6,441.7 708.0,439.7 709.7,433.6 C711.4,427.5 713.0,420.7 714.5,413.0 C716.1,405.4 716.9,399.5 718.2,391.2 C719.5,382.9 720.3,375.7 721.8,367.0 C723.3,358.2 724.9,350.4 726.7,342.7 C728.4,335.1 729.9,329.8 731.5,324.5 C733.2,319.3 734.4,317.8 735.9,313.6 C737.4,309.5 738.7,302.8 740.0,301.5 C741.3,300.2 742.1,303.3 743.2,306.4 C744.2,309.4 744.9,313.8 746.1,318.5 C747.2,323.2 748.4,328.8 749.7,332.5 C751.0,336.3 752.1,335.3 753.3,339.1 C754.6,342.9 755.4,347.3 756.5,353.6 C757.6,360.0 758.2,369.0 759.4,374.2 C760.6,379.5 761.3,379.2 763.0,382.7 C764.8,386.2 767.3,392.5 769.1,393.6 C770.8,394.7 771.4,391.8 772.7,388.8 C774.0,385.7 775.1,381.2 776.4,376.7 C777.7,372.1 778.0,367.5 780.0,363.3 C782.0,359.2 784.9,357.2 787.3,353.6 C789.7,350.1 791.2,343.9 793.3,343.5 C795.5,343.0 797.4,349.1 799.4,351.2 C801.4,353.4 802.7,353.2 804.2,355.3 C805.8,357.5 806.9,360.5 807.9,363.3 C808.9,366.2 808.7,370.3 809.8,371.3 C810.9,372.3 812.5,368.5 813.9,368.9 C815.3,369.3 816.3,372.6 817.6,373.8 C818.9,374.9 819.8,375.0 821.2,375.5 C822.7,375.9 823.8,374.9 825.6,376.2 C827.3,377.5 829.3,381.8 830.9,382.7 C832.5,383.7 833.1,382.4 834.5,381.5 C835.9,380.6 837.4,378.2 838.7,377.9 C840.0,377.5 840.4,380.0 841.8,379.6 C843.3,379.1 844.7,376.8 846.7,375.5 C848.6,374.1 851.2,372.7 852.7,372.3 C854.3,371.9 853.2,373.3 855.2,373.0 C857.1,372.7 861.5,371.5 863.6,370.6 C865.8,369.7 866.0,367.5 867.3,368.2 C868.6,368.8 869.2,374.5 870.9,374.2 C872.7,374.0 875.1,367.8 877.0,367.0 C878.8,366.2 879.6,370.4 881.3,369.9 C883.1,369.4 884.8,365.0 886.7,364.1 C888.5,363.1 889.8,365.1 891.5,364.5 C893.3,364.0 894.2,361.3 896.4,360.9 C898.5,360.5 901.9,361.0 903.6,362.1 C905.4,363.2 905.0,364.4 906.1,367.0 C907.2,369.6 908.2,375.4 909.7,376.7 C911.2,377.9 912.8,373.4 914.5,373.8 C916.3,374.1 917.9,377.4 919.4,378.6 C920.9,379.8 922.4,380.0 923.0,380.3" fill="none" stroke="#000" stroke-width="3.1" stroke-linejoin="round" stroke-linecap="round"/>
</g>
<g id="panel-c">
<path d="M235.5,512 V1213" fill="none" stroke="#454A4F" stroke-width="2.3"/>
<path d="M235,1212.5 H1602" fill="none" stroke="#454A4F" stroke-width="1.8"/>
<line x1="690.6" y1="1197.0" x2="690.6" y2="1213.3" stroke="#454A4F" stroke-width="1.8"/>
<line x1="1146.0" y1="1197.0" x2="1146.0" y2="1213.3" stroke="#454A4F" stroke-width="1.8"/>
<line x1="1601.2" y1="1197.0" x2="1601.2" y2="1213.3" stroke="#454A4F" stroke-width="1.8"/>
<text x="47.15" y="619.70" font-size="47.00" font-weight="bold" fill="#231F20" stroke="#231F20" stroke-width="0.30" stroke-linejoin="round" textLength="42.26" lengthAdjust="spacingAndGlyphs">c)</text>
<text x="82.29" y="759.90" font-size="43.60" font-weight="normal" fill="#231F20" stroke="#231F20" stroke-width="0.55" stroke-linejoin="round" textLength="139.91" lengthAdjust="spacingAndGlyphs">Neutral</text>
<text x="92.20" y="867.90" font-size="43.60" font-weight="normal" fill="#231F20" stroke="#231F20" stroke-width="0.55" stroke-linejoin="round" textLength="129.89" lengthAdjust="spacingAndGlyphs">Flexed</text>
<text x="40.33" y="975.40" font-size="43.60" font-weight="normal" fill="#231F20" stroke="#231F20" stroke-width="0.55" stroke-linejoin="round" textLength="181.72" lengthAdjust="spacingAndGlyphs">Extended</text>
<text x="46.81" y="1083.80" font-size="43.60" font-weight="normal" fill="#231F20" stroke="#231F20" stroke-width="0.55" stroke-linejoin="round" textLength="175.26" lengthAdjust="spacingAndGlyphs">Pronated</text>
<text x="28.34" y="1192.00" font-size="43.60" font-weight="normal" fill="#231F20" stroke="#231F20" stroke-width="0.55" stroke-linejoin="round" textLength="193.74" lengthAdjust="spacingAndGlyphs">Supinated</text>
<rect x="322.2" y="573.2" width="9.6" height="72.2" fill="#231F20"/><rect x="326.9" y="640.8" width="91.2" height="9.2" fill="#231F20"/>
<text transform="translate(311.30,653.47) rotate(-90)" font-size="34.60" font-weight="normal" fill="#231F20" stroke="#231F20" stroke-width="0.70" stroke-linejoin="round" textLength="78.35" lengthAdjust="spacingAndGlyphs">1 mV</text>
<text x="347.41" y="678.70" font-size="34.40" font-weight="normal" fill="#231F20" stroke="#231F20" stroke-width="0.70" stroke-linejoin="round" textLength="45.19" lengthAdjust="spacingAndGlyphs">1 s</text>
<path d="M236.5,755.6 236.5,752.7 237.4,753.3 238.3,752.8 239.2,741.9 239.9,720.8 240.4,720.8 241.0,740.3 241.6,750.7 242.2,750.7 242.8,731.9 243.7,735.5 244.6,716.2 245.5,724.0 246.4,729.1 247.0,752.0 247.6,752.0 248.0,720.7 248.5,720.7 249.1,732.2 250.0,731.5 250.6,754.0 251.2,754.0 251.6,738.1 252.1,738.1 252.4,749.4 253.0,749.4 253.6,736.3 254.3,704.7 254.8,704.7 255.4,733.4 256.3,730.3 257.2,727.7 257.9,720.2 258.4,720.2 259.0,736.3 259.6,752.7 260.2,752.7 260.6,716.9 261.1,716.9 261.4,744.1 262.0,744.1 262.6,728.9 263.2,709.2 263.7,709.2 264.4,734.9 265.0,751.8 265.6,751.8 265.9,734.5 266.4,734.5 267.1,751.3 268.0,750.6 268.6,705.6 269.1,705.6 269.8,722.6 270.7,748.2 271.6,748.7 272.2,696.5 272.7,696.5 273.4,728.2 274.3,719.5 275.2,721.8 276.1,728.0 277.0,724.9 277.9,726.5 278.8,727.7 279.7,746.2 280.6,738.6 281.5,720.8 282.4,718.5 283.0,739.6 283.6,739.6 283.9,718.4 284.4,718.4 285.1,733.9 286.0,736.7 286.9,733.2 287.8,725.1 288.7,724.7 289.3,708.2 289.8,708.2 290.2,754.3 290.8,754.3 291.1,730.7 291.6,730.7 292.0,753.5 292.6,753.5 292.9,741.8 293.4,741.8 294.1,745.3 294.7,735.4 295.2,735.4 295.9,744.7 296.8,746.9 297.7,744.9 298.3,717.0 298.8,717.0 299.5,736.8 300.4,738.4 301.3,738.1 302.2,740.6 303.1,726.9 304.0,722.9 304.6,700.4 305.1,700.4 305.5,750.3 306.1,750.3 306.7,735.6 307.6,735.0 308.2,753.0 308.8,753.0 309.1,723.9 309.6,723.9 310.3,733.2 310.9,710.6 311.4,710.6 312.1,727.2 313.0,726.5 313.9,733.1 314.8,734.0 315.7,736.9 316.6,734.9 317.5,738.1 318.1,718.1 318.6,718.1 319.3,728.4 319.9,750.1 320.5,750.1 321.1,743.0 322.0,743.6 322.6,750.3 323.2,750.3 323.8,739.2 324.7,732.6 325.6,727.1 326.5,737.8 327.4,734.8 328.0,712.9 328.5,712.9 329.2,740.7 329.8,732.7 330.3,732.7 331.0,738.6 331.6,752.8 332.2,752.8 332.8,734.3 333.4,721.0 333.9,721.0 334.3,754.1 334.9,754.1 335.5,739.1 336.1,733.1 336.6,733.1 337.0,749.0 337.6,749.0 337.9,725.5 338.4,725.5 339.1,742.8 340.0,750.6 340.9,753.2 341.8,732.0 342.7,732.2 343.6,725.1 344.5,725.6 345.4,720.3 346.3,726.5 347.2,720.1 348.1,736.1 349.0,738.2 349.9,733.6 350.8,717.5 351.7,722.0 352.3,753.2 352.9,753.2 353.2,711.8 353.7,711.8 354.4,737.3 355.3,739.1 356.2,746.9 357.1,750.6 358.0,738.9 358.9,730.9 359.5,716.2 360.0,716.2 360.4,738.8 361.0,738.8 361.3,710.4 361.8,710.4 362.5,735.9 363.4,740.3 364.3,729.9 365.2,729.7 366.1,739.4 367.0,748.1 367.9,744.6 368.8,740.7 369.7,735.4 370.6,730.3 371.5,735.2 372.4,738.2 373.0,725.1 373.5,725.1 374.2,731.2 375.1,744.7 376.0,739.5 376.6,733.5 377.1,733.5 377.5,753.4 378.1,753.4 378.7,733.1 379.6,734.7 380.2,713.8 380.7,713.8 381.4,724.9 382.0,753.3 382.6,753.3 383.2,731.8 383.8,711.3 384.3,711.3 385.0,732.7 385.6,719.4 386.1,719.4 386.8,741.9 387.7,733.4 388.6,724.7 389.5,716.7 390.4,723.0 391.3,734.0 392.2,748.0 393.1,750.6 394.0,727.3 394.9,729.2 395.8,738.8 396.4,750.3 397.0,750.3 397.3,721.3 397.8,721.3 398.5,732.0 399.4,730.2 400.3,729.4 401.2,716.8 402.1,714.2 403.0,722.6 403.9,719.2 404.8,726.6 405.4,751.4 406.0,751.4 406.6,740.7 407.2,735.0 407.7,735.0 408.1,752.9 408.7,752.9 409.0,744.7 409.5,744.7 410.2,748.7 411.1,741.6 412.0,740.5 412.9,736.8 413.8,738.1 414.2,694.7 415.1,694.7 415.3,749.4 415.9,749.4 416.5,727.3 417.4,730.9 418.0,720.0 418.5,720.0 418.9,747.3 419.5,747.3 419.8,731.9 420.3,731.9 421.0,745.2 421.9,736.6 422.8,734.8 423.7,738.8 424.6,749.0 425.5,752.9 426.1,718.9 426.6,718.9 427.3,735.4 427.9,751.7 428.5,751.7 428.8,735.4 429.3,735.4 430.0,740.2 430.9,723.1 431.8,721.1 432.7,743.6 433.3,737.8 433.8,737.8 434.5,754.4 435.4,752.1 436.3,753.0 437.2,737.0 438.1,733.9 439.0,724.0 439.9,721.7 440.8,728.4 441.7,722.8 442.6,739.6 443.2,749.3 443.8,749.3 444.1,721.6 444.6,721.6 445.3,734.2 446.2,745.4 446.8,752.5 447.4,752.5 447.7,702.3 448.2,702.3 448.6,746.1 449.2,746.1 449.8,732.7 450.4,725.6 450.9,725.6 451.3,746.8 451.9,746.8 452.2,714.7 452.7,714.7 453.4,736.7 454.3,732.3 455.2,733.6 456.1,743.5 456.7,751.7 457.3,751.7 457.9,742.6 458.8,745.2 459.7,740.1 460.6,739.5 461.5,728.4 462.4,720.3 463.3,724.7 464.2,720.2 465.1,719.9 466.0,731.8 466.9,732.0 467.8,738.7 468.7,733.0 469.6,717.2 470.2,706.9 470.7,706.9 471.4,745.8 472.3,740.7 473.2,730.4 473.8,717.5 474.3,717.5 474.7,745.7 475.3,745.7 475.9,723.1 476.5,705.3 477.0,705.3 477.7,735.9 478.6,731.8 479.5,748.8 480.4,746.6 481.3,741.1 482.2,737.1 483.1,739.9 484.0,737.0 484.9,737.3 485.8,739.3 486.7,746.9 487.6,744.1 488.2,714.4 488.7,714.4 489.4,744.9 490.3,748.5 491.2,737.0 492.1,740.7 493.0,717.7 493.9,724.1 494.8,735.9 495.7,737.0 496.6,726.0 497.5,721.8 498.4,736.6 499.0,753.4 499.6,753.4 499.9,740.0 500.4,740.0 501.1,746.2 501.7,738.3 502.2,738.3 502.6,751.9 503.2,751.9 503.5,721.1 504.0,721.1 504.4,752.0 505.0,752.0 505.6,733.7 506.5,736.9 507.4,731.8 508.3,730.9 509.2,745.6 510.1,747.1 510.7,739.2 511.2,739.2 511.9,745.8 512.5,731.2 513.0,731.2 513.4,750.9 514.0,750.9 514.3,717.6 514.8,717.6 515.5,730.6 516.1,709.1 516.6,709.1 517.0,750.0 517.6,750.0 517.9,730.8 518.4,730.8 519.1,739.0 520.0,735.8 520.9,735.3 521.5,712.9 522.0,712.9 522.7,739.2 523.6,736.8 524.5,737.0 525.1,720.1 525.6,720.1 526.3,740.6 527.2,750.9 528.1,749.8 529.0,745.2 529.6,730.6 530.1,730.6 530.8,749.6 531.7,747.1 532.6,745.9 533.5,740.0 534.4,738.2 535.3,745.4 535.9,753.0 536.5,753.0 536.8,739.3 537.3,739.3 537.7,751.1 538.3,751.1 538.6,738.2 539.1,738.2 539.8,745.0 540.4,740.0 540.9,740.0 541.3,753.0 541.9,753.0 542.2,740.9 542.7,740.9 543.4,746.8 544.0,752.2 544.6,752.2 545.2,724.0 546.1,726.2 546.7,709.1 547.2,709.1 547.9,738.7 548.5,730.0 549.0,730.0 549.7,754.0 550.6,753.9 551.5,752.7 552.4,753.0 553.3,752.5 554.2,752.9 555.1,751.9 556.0,752.9 556.9,752.8 557.8,753.8 558.4,749.5 558.9,749.5 559.6,754.3 560.5,754.5 561.4,754.1 562.3,753.9 563.2,752.8 564.1,753.0 565.0,750.7 565.9,753.7 566.8,753.1 567.7,752.4 568.3,746.3 568.8,746.3 569.5,752.3 570.4,753.7 571.3,753.3 572.2,752.4 572.8,737.6 573.3,737.6 574.0,752.8 574.9,753.6 575.8,754.3 576.7,754.1 577.6,754.3 578.5,754.7 579.4,754.6 580.3,754.5 581.2,751.1 582.1,752.7 583.0,751.4 583.9,755.3 584.8,753.5 585.7,755.3 586.6,753.5 587.5,736.3 588.4,739.0 589.3,725.8 590.2,712.7 591.1,718.5 592.0,716.1 592.9,710.8 593.8,722.4 594.7,723.3 595.3,750.0 595.9,750.0 596.5,682.9 597.4,691.7 597.8,662.6 598.7,662.6 599.2,732.1 599.8,725.5 600.3,725.5 601.0,733.3 601.9,726.4 602.8,700.8 603.2,644.6 604.1,644.6 604.6,705.2 605.5,710.8 605.9,647.6 606.8,647.6 607.3,727.3 608.2,714.6 608.6,666.4 609.5,666.4 610.0,696.4 610.4,678.8 611.3,678.8 611.8,710.1 612.2,668.2 613.1,668.2 613.6,706.4 614.2,744.4 614.8,744.4 615.4,690.4 616.3,685.5 617.2,697.9 618.1,714.3 619.0,706.5 619.6,741.2 620.2,741.2 620.8,722.4 621.7,725.5 622.6,735.3 623.5,720.5 624.4,717.5 625.3,709.5 626.2,714.2 627.1,709.6 628.0,712.5 628.9,707.9 629.8,705.4 630.7,730.4 631.6,718.5 632.5,722.7 633.4,716.7 634.3,734.5 635.2,742.3 636.1,751.4 637.0,750.5 637.9,752.8 638.8,754.6 639.7,752.4 640.6,750.3 641.5,750.6 642.1,748.7 642.6,748.7 643.3,750.3 644.2,752.6 645.1,752.1 646.0,751.3 646.6,749.1 647.1,749.1 647.8,751.7 648.7,753.2 649.6,753.5 650.5,753.2 651.4,753.6 652.3,753.6 653.2,754.0 654.1,753.1 654.7,735.6 655.2,735.6 655.9,753.4 656.8,753.2 657.7,753.6 658.6,751.6 659.2,746.2 659.7,746.2 660.4,753.5 661.3,752.4 662.2,753.9 663.1,753.9 663.7,739.6 664.2,739.6 664.9,754.1 665.8,754.5 666.7,754.3 667.6,754.9 668.5,753.5 669.4,753.7 670.3,753.5 671.2,754.6 672.1,754.0 672.7,745.0 673.2,745.0 673.9,752.9 674.5,747.8 675.0,747.8 675.7,752.7 676.6,753.3 677.5,754.2 678.4,754.0 679.3,753.2 680.2,738.8 681.1,719.7 682.0,720.1 682.6,703.4 683.1,703.4 683.8,715.1 684.7,718.6 685.6,711.9 686.5,692.2 687.4,678.6 688.3,716.6 689.2,703.3 690.1,713.1 691.0,718.0 691.9,720.7 692.8,698.1 693.7,702.3 694.6,698.8 695.5,695.9 696.4,719.6 697.3,722.4 698.2,733.4 699.1,737.6 700.0,712.8 700.9,720.2 701.8,729.3 702.7,729.3 703.6,728.4 704.5,730.3 705.4,733.8 706.3,734.8 707.2,731.8 708.1,711.0 709.0,715.6 709.9,727.2 710.8,741.9 711.7,735.7 712.6,735.5 713.5,746.7 714.4,743.6 715.3,744.9 716.2,744.3 717.1,745.9 717.7,738.6 718.2,738.6 718.6,754.2 719.2,754.2 719.8,740.8 720.4,734.0 720.9,734.0 721.6,742.6 722.5,746.7 723.4,754.3 724.3,754.7 724.9,736.0 725.4,736.0 725.8,754.6 726.4,754.6 726.7,739.1 727.2,739.1 727.6,751.3 728.2,751.3 728.8,745.4 729.4,726.0 729.9,726.0 730.6,740.8 731.5,737.1 732.1,732.0 732.6,732.0 733.3,747.3 734.2,748.4 735.1,748.1 736.0,745.8 736.9,746.0 737.5,737.2 738.0,737.2 738.7,747.7 739.6,754.2 740.5,753.1 741.4,751.8 742.3,747.3 743.2,747.2 744.1,751.4 745.0,751.3 745.9,754.2 746.8,751.1 747.7,753.5 748.6,754.1 749.5,753.3 750.4,754.1 751.3,752.5 752.2,751.3 753.1,752.9 754.0,753.5 754.9,754.2 755.8,754.4 756.7,753.7 757.6,754.1 758.5,754.2 759.4,754.3 760.0,740.6 760.5,740.6 761.2,753.4 762.1,754.7 763.0,754.7 763.9,754.4 764.8,753.9 765.7,754.1 766.6,751.3 767.5,753.8 768.4,754.2 769.3,752.1 770.2,752.3 771.1,752.5 772.0,753.8 772.9,734.7 773.8,719.4 774.7,724.4 775.3,746.9 775.9,746.9 776.2,706.5 776.7,706.5 777.1,743.5 777.7,743.5 778.3,723.3 778.9,711.4 779.4,711.4 780.1,730.9 780.5,695.4 781.4,695.4 781.9,709.8 782.5,751.2 783.1,751.2 783.7,704.0 784.6,704.0 785.5,707.6 786.4,724.9 787.3,698.5 788.2,703.5 789.1,709.7 790.0,702.0 790.6,753.3 791.2,753.3 791.8,724.3 792.7,715.0 793.6,705.6 794.5,710.6 794.9,690.2 795.8,690.2 796.0,738.4 796.6,738.4 797.2,710.3 797.6,656.6 798.5,656.6 799.0,725.8 799.9,734.0 800.8,734.5 801.7,733.6 802.6,731.3 803.5,732.2 804.1,750.8 804.7,750.8 805.3,734.0 805.7,665.6 806.6,665.6 807.1,704.9 808.0,702.8 808.9,735.5 809.8,727.4 810.4,705.6 810.9,705.6 811.6,732.1 812.2,720.7 812.7,720.7 813.4,729.9 813.8,665.6 814.7,665.6 815.2,693.2 816.1,711.4 817.0,744.2 817.6,740.8 818.1,740.8 818.8,749.0 819.7,751.8 820.6,751.5 821.5,752.2 822.4,752.0 823.3,751.1 824.2,751.2 825.1,750.1 826.0,752.1 826.9,750.5 827.8,750.9 828.7,752.2 829.6,753.5 830.5,752.9 831.4,752.6 832.0,735.6 832.5,735.6 833.2,753.9 834.1,751.4 835.0,752.7 835.9,751.8 836.8,753.0 837.7,751.8 838.6,752.4 839.5,752.5 840.1,743.6 840.6,743.6 841.0,752.7 841.6,752.7 841.9,746.4 842.4,746.4 843.1,752.7 844.0,751.9 844.9,754.7 845.8,753.7 846.7,753.8 847.6,754.1 848.5,754.2 849.4,754.6 850.3,754.2 851.2,753.9 852.1,754.0 853.0,753.2 853.9,754.8 854.8,754.2 855.7,752.4 856.6,752.6 857.5,750.7 858.4,753.0 859.3,753.2 860.2,754.1 861.1,754.3 862.0,752.6 862.9,752.9 863.8,734.1 864.7,728.9 865.6,738.3 866.0,684.6 866.9,684.6 867.4,736.5 868.3,732.7 869.2,719.4 869.6,685.4 870.5,685.4 871.0,740.2 871.9,736.9 872.8,731.3 873.2,687.6 874.1,687.6 874.6,729.9 875.5,733.7 876.4,724.5 877.3,726.8 878.2,715.9 878.6,643.6 879.5,643.6 879.7,738.6 880.3,738.6 880.9,709.6 881.8,712.4 882.4,752.1 883.0,752.1 883.3,720.4 883.8,720.4 884.5,740.5 885.4,753.5 886.3,753.4 887.2,726.3 888.1,720.2 889.0,721.4 889.6,709.4 890.1,709.4 890.8,721.2 891.7,724.0 892.6,707.3 893.5,706.2 894.4,733.8 895.3,724.7 895.9,709.6 896.4,709.6 896.8,740.0 897.4,740.0 898.0,689.9 898.9,676.6 899.8,668.9 900.7,721.0 901.6,719.1 902.5,707.5 903.4,697.6 904.3,721.9 904.9,754.1 905.5,754.1 905.8,713.1 906.3,713.1 907.0,747.4 907.9,748.8 908.8,753.8 909.7,753.8 910.6,751.9 911.5,754.0 912.4,752.1 913.3,755.2 914.2,752.6 915.1,754.4 916.0,754.8 916.9,754.3 917.5,733.6 918.0,733.6 918.7,753.9 919.6,752.9 920.5,755.1 921.4,753.4 922.3,754.0 923.2,753.1 923.8,733.6 924.3,733.6 925.0,753.2 925.9,753.8 926.8,753.6 927.7,753.4 928.6,753.8 929.5,751.7 930.1,747.5 930.6,747.5 931.3,753.6 932.2,751.6 933.1,753.7 934.0,753.7 934.9,751.9 935.5,745.1 936.0,745.1 936.7,751.7 937.3,748.9 937.8,748.9 938.5,751.6 939.4,753.5 940.3,752.3 941.2,752.8 942.1,753.0 943.0,753.5 943.6,747.5 944.1,747.5 944.8,751.7 945.7,750.6 946.6,751.5 947.5,751.9 948.4,751.6 949.0,746.5 949.5,746.5 950.2,753.3 951.1,753.8 952.0,752.2 952.9,753.5 953.8,754.1 954.7,753.3 955.6,746.7 956.5,745.9 957.1,699.9 957.6,699.9 958.3,731.4 959.2,745.7 960.1,734.0 961.0,712.4 961.4,694.5 962.3,694.5 962.8,712.1 963.7,718.0 964.3,751.8 964.9,751.8 965.5,731.7 966.4,732.5 966.8,680.6 967.7,680.6 968.2,744.6 969.1,737.3 969.7,728.5 970.2,728.5 970.9,741.0 971.5,724.9 972.0,724.9 972.7,740.3 973.6,741.0 974.5,730.3 975.1,696.5 975.6,696.5 976.3,715.4 977.2,720.5 978.1,718.4 979.0,728.6 979.9,750.2 980.8,751.0 981.7,751.0 982.6,714.8 983.5,722.1 984.1,708.9 984.6,708.9 985.3,724.4 985.9,714.0 986.4,714.0 987.1,732.7 987.7,703.7 988.2,703.7 988.9,726.8 989.8,715.8 990.4,698.9 990.9,698.9 991.3,751.5 991.9,751.5 992.5,723.9 993.1,712.4 993.6,712.4 994.0,754.4 994.6,754.4 994.9,722.5 995.4,722.5 996.1,743.8 996.7,739.2 997.2,739.2 997.9,754.9 998.8,751.2 999.7,755.3 1000.6,754.2 1001.5,753.2 1002.4,753.0 1003.3,752.3 1004.2,753.1 1005.1,750.5 1006.0,752.3 1006.6,709.7 1007.1,709.7 1007.5,752.6 1008.1,752.6 1008.7,737.4 1009.1,645.6 1010.0,645.6 1010.2,751.2 1010.8,751.2 1011.4,733.6 1012.0,725.4 1012.5,725.4 1013.2,737.4 1014.1,742.5 1014.7,737.5 1015.2,737.5 1015.9,743.9 1016.8,754.7 1017.7,748.5 1018.6,749.2 1019.5,753.1 1020.4,752.8 1021.3,753.2 1022.2,752.7 1023.1,753.4 1024.0,752.2 1024.9,752.8 1025.5,749.3 1026.0,749.3 1026.7,753.2 1027.6,753.0 1028.5,752.9 1029.4,753.2 1030.0,745.6 1030.5,745.6 1031.2,753.9 1032.1,753.0 1033.0,753.1 1033.9,754.0 1034.8,752.9 1035.7,752.3 1036.6,753.4 1037.5,751.7 1038.4,752.9 1039.3,751.8 1040.2,752.4 1041.1,752.5 1042.0,754.2 1042.9,750.5 1043.8,752.6 1044.7,754.3 1045.6,753.3 1046.5,754.0 1047.4,753.1 1048.3,752.6 1049.2,753.5 1050.1,752.6 1050.7,744.3 1051.2,744.3 1051.6,753.2 1052.2,753.2 1052.8,744.1 1053.7,727.7 1054.3,708.7 1054.8,708.7 1055.5,745.7 1056.1,738.2 1056.6,738.2 1057.3,744.5 1057.9,728.1 1058.4,728.1 1059.1,739.6 1060.0,733.0 1060.6,697.8 1061.1,697.8 1061.8,711.7 1062.4,699.1 1062.9,699.1 1063.6,742.1 1064.5,728.7 1065.4,725.8 1066.0,717.1 1066.5,717.1 1067.2,726.8 1067.8,705.0 1068.3,705.0 1068.7,749.1 1069.3,749.1 1069.9,738.4 1070.8,732.2 1071.7,717.4 1072.3,703.8 1072.8,703.8 1073.5,747.1 1074.1,737.9 1074.6,737.9 1075.3,743.2 1075.9,717.2 1076.4,717.2 1077.1,729.3 1078.0,737.7 1078.9,733.8 1079.5,720.3 1080.0,720.3 1080.7,731.9 1081.6,727.4 1082.2,705.5 1082.7,705.5 1083.1,752.4 1083.7,752.4 1084.3,725.5 1085.2,724.8 1086.1,715.1 1087.0,718.2 1087.9,727.7 1088.8,720.3 1089.7,713.3 1090.6,721.8 1091.5,708.8 1092.4,711.2 1093.3,737.9 1094.2,753.5 1095.1,753.0 1096.0,753.4 1096.9,752.8 1097.8,752.2 1098.7,753.1 1099.6,753.2 1100.5,752.0 1101.4,753.0 1102.3,753.7 1103.2,753.6 1104.1,755.0 1105.0,755.2 1105.9,753.6 1106.8,753.5 1107.7,753.0 1108.6,753.6 1109.5,752.5 1110.1,747.5 1110.6,747.5 1111.3,753.5 1112.2,750.8 1113.1,751.5 1114.0,752.9 1114.9,752.7 1115.8,752.2 1116.7,752.5 1117.6,752.9 1118.5,752.2 1119.4,753.2 1120.0,740.6 1120.5,740.6 1121.2,754.2 1122.1,753.3 1123.0,753.6 1123.9,752.5 1124.8,752.1 1125.7,752.4 1126.3,741.6 1126.8,741.6 1127.5,751.0 1128.4,754.9 1129.3,752.5 1130.2,752.0 1130.8,747.9 1131.3,747.9 1132.0,752.3 1132.9,753.6 1133.8,753.5 1134.4,745.5 1134.9,745.5 1135.6,752.9 1136.5,752.7 1137.1,749.1 1137.6,749.1 1138.3,752.1 1139.2,753.1 1139.8,747.9 1140.3,747.9 1141.0,752.9 1141.9,752.9 1142.8,751.4 1143.7,745.1 1144.6,721.2 1145.5,696.3 1146.4,706.5 1147.3,692.4 1147.7,672.6 1148.6,672.6 1149.1,749.0 1150.0,749.3 1150.9,700.5 1151.8,691.9 1152.2,673.9 1153.1,673.9 1153.6,702.8 1154.5,720.0 1155.4,711.9 1156.0,696.0 1156.5,696.0 1157.2,713.2 1157.6,690.1 1158.5,690.1 1159.0,704.3 1159.9,712.4 1160.8,694.3 1161.7,687.1 1162.6,731.8 1163.2,751.1 1163.8,751.1 1164.1,697.2 1164.6,697.2 1165.3,735.6 1166.2,728.9 1167.1,733.1 1167.7,707.7 1168.2,707.7 1168.9,736.4 1169.8,733.7 1170.7,739.5 1171.3,751.8 1171.9,751.8 1172.2,741.6 1172.7,741.6 1173.4,746.1 1174.3,751.9 1175.2,752.6 1176.1,750.0 1177.0,748.1 1177.6,743.6 1178.1,743.6 1178.5,753.4 1179.1,753.4 1179.7,746.3 1180.6,745.8 1181.5,737.6 1182.4,738.0 1183.3,742.1 1184.2,739.4 1185.1,736.3 1186.0,749.6 1186.9,750.7 1187.8,752.9 1188.7,752.2 1189.6,753.3 1190.2,744.3 1190.7,744.3 1191.4,752.7 1192.3,748.1 1192.9,740.9 1193.4,740.9 1194.1,747.1 1195.0,746.8 1195.9,749.3 1196.8,748.3 1197.4,743.8 1197.9,743.8 1198.6,750.1 1199.2,741.2 1199.7,741.2 1200.4,750.4 1201.3,751.8 1202.2,752.7 1203.1,751.8 1204.0,751.3 1204.9,751.3 1205.8,753.2 1206.7,753.1 1207.3,747.2 1207.8,747.2 1208.5,752.4 1209.4,751.2 1210.3,753.1 1211.2,753.7 1212.1,753.0 1213.0,752.1 1213.9,752.0 1214.8,752.5 1215.7,753.5 1216.6,753.4 1217.5,754.1 1218.4,754.5 1219.3,755.3 1220.2,750.1 1221.1,755.0 1222.0,754.5 1222.9,753.9 1223.8,754.7 1224.7,753.7 1225.6,753.5 1226.5,753.3 1227.2,748.0 1227.7,748.0 1228.3,753.8 1229.2,755.4 1230.1,753.8 1231.0,753.6 1231.9,752.4 1232.8,752.8 1233.7,753.3 1234.6,704.1 1235.5,700.7 1236.4,730.0 1237.1,714.9 1237.6,714.9 1238.2,726.9 1239.1,704.9 1240.0,702.6 1240.9,655.6 1241.8,674.8 1242.7,706.6 1243.6,719.6 1244.1,680.6 1245.0,680.6 1245.4,716.0 1246.3,722.1 1247.2,720.0 1247.7,689.7 1248.6,689.7 1249.0,747.0 1249.9,747.8 1250.4,668.6 1251.3,668.6 1251.7,710.8 1252.6,701.3 1253.5,699.4 1254.1,746.6 1254.7,746.6 1255.3,723.0 1256.2,712.0 1257.1,709.8 1258.0,702.3 1258.9,726.1 1259.8,721.9 1260.7,733.8 1261.4,717.1 1261.9,717.1 1262.5,729.5 1263.4,726.2 1264.3,718.6 1265.2,723.7 1266.1,748.5 1267.0,748.9 1267.9,728.2 1268.8,731.1 1269.5,721.0 1270.0,721.0 1270.6,732.9 1271.3,725.8 1271.8,725.8 1272.4,740.4 1273.3,742.0 1274.0,733.9 1274.5,733.9 1275.1,748.8 1276.0,744.7 1276.9,745.2 1277.8,749.1 1278.7,754.1 1279.4,734.1 1279.9,734.1 1280.5,745.8 1281.4,745.9 1282.3,744.4 1283.2,749.8 1283.9,737.7 1284.4,737.7 1285.0,744.7 1285.9,743.9 1286.6,728.5 1287.1,728.5 1287.7,747.8 1288.6,754.3 1289.5,751.7 1290.4,751.8 1291.3,753.5 1292.2,751.2 1292.9,748.7 1293.4,748.7 1294.0,754.8 1294.9,754.0 1295.8,749.5 1296.7,748.1 1297.6,748.9 1298.5,753.5 1299.4,751.2 1300.3,754.3 1301.2,755.2 1302.1,754.1 1303.0,753.5 1303.9,753.8 1304.6,749.3 1305.1,749.3 1305.7,753.9 1306.6,752.6 1307.5,751.9 1308.4,752.8 1309.3,752.6 1310.2,753.1 1311.1,753.9 1311.8,748.5 1312.3,748.5 1312.9,752.1 1313.8,750.0 1314.7,752.6 1315.6,751.2 1316.5,752.4 1317.4,753.3 1318.3,751.0 1319.2,752.0 1320.1,752.1 1321.0,753.0 1321.9,753.4 1322.8,753.6 1323.7,750.3 1324.6,749.3 1325.3,717.9 1325.8,717.9 1326.1,748.6 1326.7,748.6 1327.1,718.9 1327.6,718.9 1328.2,735.2 1329.1,737.5 1329.8,730.3 1330.3,730.3 1330.9,738.1 1331.6,717.8 1332.1,717.8 1332.7,727.3 1333.6,705.6 1334.5,705.2 1335.4,738.4 1336.3,746.1 1337.2,738.9 1337.9,727.7 1338.4,727.7 1339.0,735.7 1339.9,739.3 1340.8,715.4 1341.3,680.6 1342.2,680.6 1342.6,743.6 1343.3,732.5 1343.8,732.5 1344.1,752.6 1344.7,752.6 1345.3,740.0 1346.2,734.4 1346.9,727.7 1347.4,727.7 1348.0,734.5 1348.9,714.4 1349.8,716.6 1350.7,742.3 1351.6,737.0 1352.5,727.9 1353.4,702.6 1354.3,691.9 1355.2,698.7 1356.1,731.6 1357.0,717.6 1357.9,713.9 1358.8,713.0 1359.7,727.4 1360.6,713.6 1361.5,716.7 1362.4,714.2 1362.9,688.8 1363.8,688.8 1363.9,741.0 1364.5,741.0 1364.9,715.4 1365.4,715.4 1366.0,729.5 1366.9,720.6 1367.8,719.0 1368.7,743.8 1369.6,748.2 1370.5,754.0 1371.4,751.4 1372.3,752.3 1373.2,751.3 1374.1,750.9 1375.0,751.5 1375.9,753.0 1376.8,752.2 1377.5,728.6 1378.0,728.6 1378.6,752.0 1379.5,751.2 1380.4,751.9 1381.1,748.9 1381.6,748.9 1382.2,752.3 1383.1,752.4 1384.0,754.9 1384.9,752.3 1385.6,725.6 1386.1,725.6 1386.7,751.9 1387.6,751.8 1388.5,752.7 1389.4,753.1 1390.3,753.9 1391.2,753.3 1392.1,753.6 1393.0,753.0 1393.9,753.0 1394.8,753.9 1395.7,753.9 1396.6,753.9 1397.5,754.3 1398.4,754.3 1399.3,754.8 1400.2,754.8 1400.9,747.5 1401.4,747.5 1402.0,753.5 1402.9,754.2 1403.8,753.5 1404.7,751.2 1405.6,752.1 1406.5,753.0 1407.4,751.8 1408.3,750.5 1409.2,751.7 1410.1,752.7 1411.0,752.4 1411.9,753.1 1412.8,751.4 1413.7,752.2 1414.6,752.7 1415.5,745.7 1416.4,721.1 1416.9,690.8 1417.8,690.8 1418.2,723.8 1418.9,707.8 1419.4,707.8 1420.0,717.6 1420.9,728.3 1421.4,689.7 1422.3,689.7 1422.7,718.2 1423.6,717.0 1424.2,751.8 1424.8,751.8 1425.4,730.7 1426.3,720.5 1427.2,720.3 1428.1,712.6 1428.6,663.6 1429.5,663.6 1429.9,687.5 1430.8,686.7 1431.7,690.0 1432.6,690.5 1433.5,718.7 1434.4,714.1 1435.3,702.2 1436.2,710.1 1436.7,685.3 1437.6,685.3 1438.0,705.1 1438.9,715.0 1439.5,748.0 1440.1,748.0 1440.7,701.5 1441.6,711.0 1442.5,709.4 1443.4,719.4 1444.3,714.2 1445.2,708.1 1446.1,723.5 1447.0,718.1 1447.9,706.7 1448.8,708.2 1449.7,699.4 1450.6,723.7 1451.3,695.6 1451.8,695.6 1452.4,720.5 1453.3,708.5 1454.2,712.5 1455.1,731.1 1456.0,726.5 1456.9,732.3 1457.8,731.4 1458.7,725.6 1459.6,739.4 1460.5,734.4 1461.4,735.6 1462.1,727.7 1462.6,727.7 1463.2,736.5 1464.1,739.7 1465.0,733.0 1465.7,720.3 1466.2,720.3 1466.5,749.5 1467.1,749.5 1467.5,708.3 1468.0,708.3 1468.3,750.7 1468.9,750.7 1469.3,730.2 1469.8,730.2 1470.4,742.8 1471.1,731.9 1471.6,731.9 1472.2,743.8 1473.1,742.9 1473.8,707.1 1474.3,707.1 1474.6,743.5 1475.2,743.5 1475.6,727.0 1476.1,727.0 1476.4,744.2 1477.0,744.2 1477.4,729.4 1477.9,729.4 1478.5,741.2 1479.4,740.3 1480.3,732.8 1481.2,720.9 1482.1,726.1 1483.0,740.2 1483.9,737.5 1484.8,734.2 1485.7,736.0 1486.6,735.4 1487.5,747.8 1488.4,744.2 1489.1,737.1 1489.6,737.1 1490.2,741.8 1491.1,735.7 1492.0,739.4 1492.7,728.6 1493.2,728.6 1493.8,741.8 1494.5,715.3 1495.0,715.3 1495.6,733.3 1496.5,742.4 1497.4,742.0 1498.3,737.2 1499.2,733.8 1500.1,737.4 1501.0,734.5 1501.9,731.8 1502.8,725.5 1503.7,724.8 1504.6,733.8 1505.2,749.6 1505.8,749.6 1506.2,732.0 1506.7,732.0 1507.3,739.1 1507.9,749.0 1508.5,749.0 1509.1,739.1 1510.0,738.0 1510.9,738.8 1511.6,731.1 1512.1,731.1 1512.7,738.3 1513.6,735.4 1514.5,734.5 1515.4,723.0 1516.1,711.0 1516.6,711.0 1517.2,740.9 1518.1,743.1 1518.8,736.9 1519.3,736.9 1519.9,748.2 1520.8,746.9 1521.5,734.0 1522.0,734.0 1522.6,744.7 1523.5,741.1 1524.4,736.0 1525.1,714.9 1525.6,714.9 1526.2,735.4 1526.9,730.0 1527.4,730.0 1528.0,739.6 1528.6,751.0 1529.2,751.0 1529.4,690.6 1530.3,690.6 1530.7,740.1 1531.6,744.1 1532.5,753.1 1533.4,748.4 1534.1,736.2 1534.6,736.2 1534.9,753.7 1535.5,753.7 1536.1,737.0 1537.0,735.8 1537.9,721.3 1538.8,725.4 1539.7,730.6 1540.4,723.9 1540.9,723.9 1541.5,737.9 1542.4,719.2 1543.3,725.7 1544.2,738.3 1545.1,745.6 1546.0,732.0 1546.9,733.1 1547.6,725.2 1548.1,725.2 1548.4,748.5 1549.0,748.5 1549.4,730.9 1549.9,730.9 1550.2,751.6 1550.8,751.6 1551.4,743.1 1552.1,731.1 1552.6,731.1 1553.2,736.1 1554.1,730.6 1555.0,734.1 1555.9,729.1 1556.6,707.5 1557.1,707.5 1557.7,742.0 1558.6,734.2 1559.3,727.8 1559.8,727.8 1560.1,745.3 1560.7,745.3 1560.9,682.6 1561.8,682.6 1562.2,737.7 1563.1,722.1 1564.0,725.9 1564.9,723.1 1565.8,715.5 1566.7,716.5 1567.6,718.9 1568.5,733.1 1569.4,731.9 1570.3,724.6 1571.2,728.7 1572.1,741.8 1572.8,732.1 1573.3,732.1 1573.9,739.8 1574.6,728.9 1575.1,728.9 1575.7,750.3 1576.6,746.5 1577.5,727.2 1578.4,729.0 1579.0,753.9 1579.6,753.9 1580.2,739.9 1580.9,734.8 1581.4,734.8 1581.7,751.6 1582.3,751.6 1582.7,722.1 1583.2,722.1 1583.8,732.0 1584.7,719.1 1585.6,717.6 1586.5,747.5 1587.4,738.4 1588.3,734.5 1589.2,736.3 1589.9,717.3 1590.4,717.3 1590.7,750.8 1591.3,750.8 1591.9,742.6 1592.8,742.1 1593.7,742.7 1594.4,735.6 1594.9,735.6 1595.5,745.0 1596.2,726.5 1596.7,726.5 1597.0,750.5 1597.6,750.5 1598.0,733.9 1598.5,733.9 1598.8,751.9 1599.4,751.9 1599.8,746.7 1600.3,746.7 1600.9,753.2 1601.8,755.3 1602.0,755.6 Z" fill="#231F20" stroke="#231F20" stroke-width="0.8" stroke-linejoin="round"/>
<line x1="236.0" y1="755.9" x2="1602.0" y2="755.9" stroke="#231F20" stroke-width="1.7"/>
<path d="M236.5,863.6 236.5,863.0 237.4,863.0 238.3,862.9 239.2,863.2 240.1,863.2 241.0,862.7 241.9,862.8 242.8,863.0 243.7,862.7 244.6,862.9 245.5,863.1 246.4,863.0 247.3,857.6 248.2,863.2 249.1,862.9 250.0,862.3 250.9,862.2 251.8,862.7 252.7,862.3 253.6,862.6 254.5,863.0 255.4,862.8 256.3,862.4 257.2,862.9 258.1,862.5 259.0,862.5 259.9,862.8 260.8,862.4 261.7,862.8 262.6,863.0 263.5,862.7 264.4,863.1 265.0,856.6 265.5,856.6 266.2,862.9 267.1,863.0 268.0,862.8 268.9,861.0 269.8,862.5 270.7,862.8 271.6,862.8 272.5,862.6 273.4,862.6 274.3,863.0 275.2,862.9 276.1,862.9 277.0,861.2 277.9,862.6 278.8,862.8 279.7,863.0 280.6,863.1 281.5,863.0 282.4,862.8 283.3,862.8 284.2,863.1 285.1,863.0 286.0,862.8 286.9,862.3 287.8,862.4 288.7,863.4 289.6,862.6 290.5,862.6 291.4,862.7 292.3,862.8 293.2,862.4 294.1,862.2 295.0,862.7 295.9,862.8 296.8,862.6 297.7,862.9 298.6,862.8 299.5,862.4 300.4,863.0 301.3,863.0 302.2,862.9 303.1,862.9 304.0,862.7 304.9,862.6 305.8,862.8 306.7,862.9 307.6,862.7 308.5,862.6 309.4,862.6 310.3,863.0 310.9,856.6 311.4,856.6 312.1,863.1 313.0,863.0 313.9,863.0 314.8,862.7 315.7,863.0 316.6,862.9 317.5,863.0 318.4,863.0 319.3,862.9 320.2,862.7 321.1,862.3 322.0,863.0 322.9,863.0 323.8,862.9 324.7,863.2 325.6,862.6 326.5,862.7 327.4,863.0 328.3,862.9 329.2,862.9 330.1,862.8 331.0,863.2 331.9,862.9 332.8,862.1 333.7,862.7 334.6,862.2 335.5,862.1 336.4,862.7 337.3,863.4 338.2,863.0 339.1,862.4 340.0,863.1 340.9,862.9 341.8,863.0 342.7,862.2 343.6,862.4 344.5,862.6 345.4,862.9 346.3,862.9 347.2,863.2 348.1,863.1 349.0,863.0 349.9,862.6 350.8,862.7 351.7,862.6 352.6,862.7 353.5,862.8 354.4,862.8 355.3,862.0 356.2,862.6 357.1,862.7 358.0,862.8 358.9,862.9 359.8,863.1 360.7,863.2 361.6,863.3 362.5,863.3 363.4,863.5 364.3,863.2 365.2,863.1 366.1,863.0 367.0,863.3 367.9,863.4 368.8,863.5 369.7,863.5 370.6,863.4 371.5,862.5 372.4,862.9 373.3,862.5 374.2,861.9 375.1,863.0 376.0,862.4 376.9,862.6 377.8,863.1 378.7,863.1 379.6,863.2 380.5,863.2 381.4,863.0 382.3,862.9 383.2,862.1 384.1,863.5 385.0,862.8 385.9,862.6 386.8,862.5 387.7,862.9 388.6,862.4 389.5,862.4 390.4,863.0 391.3,862.6 392.2,863.4 393.1,862.9 394.0,863.1 394.9,862.9 395.8,863.1 396.7,863.2 397.6,863.0 398.5,863.1 399.4,862.7 400.3,863.2 401.2,862.9 402.1,863.1 403.0,863.1 403.9,863.0 404.8,863.0 405.7,863.0 406.6,863.5 407.5,863.1 408.4,863.2 409.3,863.5 410.2,863.2 411.1,863.2 412.0,863.1 412.9,862.5 413.8,862.5 414.7,862.5 415.6,862.1 416.5,862.8 417.4,862.8 418.3,862.4 419.2,862.6 420.1,862.9 421.0,862.8 421.9,862.9 422.8,862.6 423.7,863.2 424.6,863.2 425.5,863.2 426.4,863.3 427.3,863.3 428.2,863.5 429.1,863.2 430.0,862.7 430.9,862.7 431.8,863.0 432.7,863.3 433.6,863.4 434.5,861.4 435.4,863.1 436.3,863.2 437.2,863.2 438.1,863.3 439.0,863.2 439.9,863.3 440.8,863.0 441.7,863.4 442.6,863.2 443.5,863.2 444.4,863.3 445.3,863.3 446.2,863.4 447.1,863.4 448.0,863.0 448.9,862.9 449.8,863.1 450.7,862.9 451.6,862.5 452.5,862.8 453.4,862.3 454.3,862.6 455.2,862.7 456.1,862.8 457.0,862.4 457.9,863.1 458.8,863.1 459.7,862.9 460.6,863.2 461.5,863.4 462.4,862.8 463.3,863.1 464.2,863.0 465.1,862.9 466.0,862.6 466.9,863.0 467.8,863.5 468.7,862.5 469.6,862.3 470.5,862.9 471.4,863.0 472.3,863.0 472.9,856.6 473.4,856.6 474.1,863.1 475.0,863.1 475.9,862.8 476.8,863.2 477.7,863.0 478.6,863.1 479.5,862.9 480.4,862.9 481.3,863.3 482.2,863.2 483.1,863.1 484.0,863.0 484.9,863.3 485.8,863.1 486.7,863.3 487.6,863.2 488.5,863.3 489.4,863.1 490.3,862.9 491.2,862.5 492.1,862.9 493.0,863.2 493.9,862.8 494.8,862.5 495.7,862.9 496.6,863.2 497.5,862.5 498.4,862.8 499.3,863.0 500.2,862.6 501.1,862.3 502.0,863.3 502.9,862.8 503.8,862.7 504.7,862.9 505.6,862.9 506.5,863.3 507.4,862.9 508.3,862.8 509.2,862.5 510.1,862.8 511.0,862.4 511.9,863.0 512.8,863.1 513.7,862.8 514.6,862.5 515.5,862.9 516.4,862.6 517.3,862.7 518.2,862.6 519.1,862.3 520.0,862.5 520.9,862.7 521.8,862.8 522.7,862.9 523.6,862.8 524.5,863.0 525.4,862.8 526.3,862.7 527.2,862.3 528.1,862.6 529.0,862.6 529.9,862.7 530.8,863.0 531.4,856.6 531.9,856.6 532.6,862.3 533.5,862.3 534.4,862.6 535.3,862.5 536.2,862.7 537.1,863.1 538.0,862.7 538.9,862.7 539.8,862.8 540.7,863.0 541.6,863.3 542.5,862.8 543.4,863.0 544.3,862.9 545.2,862.5 546.1,862.9 547.0,862.9 547.9,862.4 548.8,863.0 549.7,862.9 550.6,862.9 551.5,862.9 552.4,862.9 553.3,863.4 554.2,860.4 554.8,845.6 555.3,845.6 556.0,860.9 556.9,862.9 557.8,860.3 558.7,862.9 559.6,861.6 560.5,860.5 561.4,862.9 562.3,859.6 563.2,861.5 564.1,860.4 565.0,861.7 565.9,861.9 566.8,863.3 567.7,861.5 568.6,863.3 569.5,863.4 570.4,862.8 571.3,863.0 572.2,860.5 573.1,861.6 574.0,862.7 574.9,862.4 575.8,862.5 576.4,853.6 576.9,853.6 577.6,860.8 578.5,860.9 579.4,861.4 580.3,863.1 581.2,861.4 581.8,855.0 582.3,855.0 583.0,860.3 583.9,863.0 584.8,860.0 585.7,861.0 586.6,858.4 587.2,857.0 587.7,857.0 588.4,862.3 589.3,855.8 590.2,847.2 590.8,839.6 591.3,839.6 591.7,855.3 592.3,855.3 592.4,795.6 593.3,795.6 593.8,847.1 594.7,850.0 595.3,811.6 595.8,811.6 596.5,852.4 597.4,853.7 598.3,853.1 599.2,859.1 600.1,860.7 601.0,859.5 601.9,858.9 602.5,856.7 603.0,856.7 603.7,860.3 604.6,860.3 605.2,846.3 605.7,846.3 606.4,858.2 607.0,852.2 607.5,852.2 608.2,862.7 608.8,857.5 609.3,857.5 610.0,862.4 610.6,832.6 611.1,832.6 611.8,862.8 612.7,860.2 613.6,861.6 614.5,861.2 615.1,843.6 615.6,843.6 616.3,861.6 617.2,862.3 618.1,861.4 619.0,858.8 619.9,862.9 620.8,859.0 621.7,863.4 622.6,861.8 623.5,860.5 624.4,858.1 625.0,853.8 625.5,853.8 626.2,860.1 627.1,860.8 628.0,862.8 628.9,860.9 629.8,861.6 630.7,859.8 631.6,862.0 632.5,863.2 633.4,860.7 634.3,862.8 635.2,860.8 636.1,861.0 637.0,862.0 637.9,860.8 638.8,863.1 639.7,862.6 640.6,860.0 641.5,863.4 642.4,859.9 643.3,862.7 644.2,861.2 645.1,860.3 646.0,862.2 646.9,863.4 647.8,862.6 648.7,860.6 649.6,860.5 650.5,862.6 651.4,860.2 652.3,860.8 653.2,863.2 654.1,859.9 655.0,862.5 655.9,862.2 656.8,863.0 657.7,861.3 658.3,854.5 658.8,854.5 659.5,858.0 660.4,859.3 661.3,858.6 662.2,860.3 663.1,862.9 664.0,860.0 664.9,862.9 665.8,859.2 666.7,859.6 667.6,858.9 668.5,860.8 669.4,861.0 670.3,863.2 671.2,861.8 672.1,862.8 673.0,862.1 673.9,861.6 674.8,861.3 675.7,863.0 676.6,863.4 677.2,839.3 677.7,839.3 678.1,856.2 678.7,856.2 679.3,837.3 680.2,838.7 681.1,849.4 682.0,841.4 682.6,806.6 683.1,806.6 683.8,842.6 684.7,841.1 685.3,861.9 685.9,861.9 686.2,838.2 686.7,838.2 687.1,861.3 687.7,861.3 688.0,837.6 688.5,837.6 689.2,859.4 689.8,856.5 690.3,856.5 691.0,859.3 691.6,857.5 692.1,857.5 692.8,861.9 693.4,853.8 693.9,853.8 694.3,860.3 694.9,860.3 695.5,854.7 696.1,848.6 696.6,848.6 697.3,861.2 698.2,862.8 699.1,861.2 700.0,861.9 700.9,861.0 701.8,862.1 702.7,863.2 703.6,861.3 704.5,862.8 705.4,862.2 706.3,862.7 707.2,859.9 708.1,861.8 709.0,861.8 709.9,860.5 710.8,863.4 711.4,835.6 711.9,835.6 712.6,863.3 713.5,862.2 714.1,851.6 714.6,851.6 715.3,863.3 716.2,862.2 717.1,860.0 718.0,858.5 718.6,851.6 719.1,851.6 719.8,860.3 720.7,860.6 721.6,860.5 722.5,860.2 723.4,860.5 724.3,859.4 725.2,860.6 726.1,861.4 727.0,861.2 727.6,855.6 728.1,855.6 728.8,859.9 729.7,860.4 730.6,860.1 731.5,860.7 732.4,859.8 733.3,858.1 734.2,858.6 735.1,860.0 736.0,860.6 736.9,861.1 737.8,861.7 738.7,862.9 739.6,863.3 740.5,862.9 741.4,859.6 742.3,861.1 743.2,862.8 744.1,863.1 744.7,855.3 745.2,855.3 745.9,861.5 746.8,863.4 747.7,862.0 748.6,862.7 749.5,861.9 750.4,863.0 751.3,860.6 752.2,861.3 753.1,860.8 754.0,861.4 754.9,863.3 755.8,861.4 756.7,863.0 757.6,858.8 758.5,860.0 759.4,861.0 760.3,860.8 761.2,858.0 762.1,862.9 763.0,863.1 763.9,862.0 764.8,862.6 765.7,863.2 766.6,862.2 767.5,861.1 768.4,861.6 769.3,861.4 770.2,854.3 771.1,839.0 771.7,817.0 772.2,817.0 772.9,837.6 773.8,841.4 774.4,856.0 775.0,856.0 775.1,774.6 776.0,774.6 776.5,839.6 777.4,843.4 777.8,798.6 778.7,798.6 779.2,836.5 780.1,850.7 781.0,855.5 781.9,858.5 782.5,841.2 783.0,841.2 783.7,848.9 784.3,835.6 784.8,835.6 785.5,845.6 786.4,850.2 787.3,858.2 788.2,861.7 789.1,859.8 790.0,843.2 790.6,835.6 791.1,835.6 791.8,860.6 792.7,863.3 793.6,860.0 794.5,862.5 795.1,854.3 795.6,854.3 796.3,862.4 797.2,859.8 798.1,861.2 799.0,860.8 799.9,863.0 800.8,861.5 801.7,862.2 802.6,860.1 803.5,861.4 804.1,839.6 804.6,839.6 805.3,863.1 806.2,861.2 807.1,862.0 808.0,862.5 808.9,862.9 809.8,859.8 810.7,858.4 811.6,860.7 812.5,862.6 813.4,861.9 814.0,813.6 814.5,813.6 815.2,860.5 816.1,861.7 817.0,863.4 817.9,860.3 818.8,862.4 819.7,863.0 820.6,854.6 821.5,855.4 822.4,855.1 823.3,850.6 823.9,846.9 824.4,846.9 825.1,850.3 825.5,770.6 826.4,770.6 826.9,859.7 827.8,859.3 828.7,863.3 829.6,858.8 830.5,863.2 831.4,862.6 832.3,860.3 833.2,858.5 833.8,855.1 834.3,855.1 835.0,861.2 835.9,861.5 836.8,859.6 837.7,859.2 838.6,862.8 839.5,862.6 840.4,862.0 841.3,861.1 842.2,861.4 843.1,862.7 844.0,863.1 844.6,855.7 845.1,855.7 845.8,863.0 846.7,862.9 847.6,863.3 848.5,861.2 849.4,860.0 850.3,863.1 851.2,858.3 852.1,861.1 853.0,860.4 853.9,860.1 854.8,861.4 855.7,862.5 856.6,859.4 857.5,861.1 858.4,861.6 859.3,861.1 860.2,860.3 861.1,860.5 862.0,859.0 862.9,861.0 863.8,858.5 864.4,806.6 864.9,806.6 865.6,850.6 866.5,836.7 867.4,803.7 868.3,807.6 869.2,826.3 870.1,829.9 870.7,808.6 871.2,808.6 871.9,844.3 872.8,852.5 873.7,843.2 874.3,813.6 874.8,813.6 875.5,837.9 876.4,854.1 877.3,843.7 877.9,821.6 878.4,821.6 879.1,848.5 879.7,839.2 880.2,839.2 880.9,855.2 881.8,856.4 882.4,853.4 882.9,853.4 883.3,862.5 883.9,862.5 884.5,853.5 885.4,852.1 886.0,862.5 886.6,862.5 886.9,838.6 887.4,838.6 888.1,859.0 889.0,862.2 889.9,861.6 890.8,863.5 891.7,862.1 892.6,861.0 893.5,860.3 894.4,861.2 895.3,859.3 896.2,862.0 896.8,855.6 897.3,855.6 898.0,860.8 898.9,859.8 899.8,862.9 900.7,858.7 901.6,859.2 902.5,860.4 903.4,862.3 904.3,862.4 905.2,860.0 906.1,863.3 907.0,859.1 907.9,858.7 908.8,863.2 909.4,843.6 909.9,843.6 910.6,863.4 911.5,860.8 912.4,860.8 913.3,863.3 914.2,861.6 915.1,861.2 916.0,862.5 916.6,834.6 917.1,834.6 917.8,863.3 918.7,862.1 919.6,859.7 920.5,860.0 921.4,861.2 922.3,860.5 923.2,859.1 924.1,862.8 925.0,860.9 925.9,861.4 926.8,861.5 927.7,863.2 928.3,855.6 928.8,855.6 929.5,861.7 930.4,861.3 931.3,863.2 932.2,863.1 933.1,862.1 934.0,862.4 934.9,862.3 935.8,862.2 936.4,857.5 936.9,857.5 937.6,861.8 938.5,860.6 939.4,861.4 940.0,857.0 940.5,857.0 941.2,862.4 942.1,858.9 943.0,862.6 943.9,860.8 944.8,860.4 945.7,862.8 946.6,860.9 947.5,863.0 948.4,862.4 949.3,861.3 950.2,863.4 951.1,859.5 952.0,861.3 952.9,861.1 953.8,863.5 954.7,861.3 955.6,853.3 956.2,849.9 956.7,849.9 957.4,853.0 957.8,801.6 958.7,801.6 959.2,851.7 960.1,847.0 960.7,813.6 961.2,813.6 961.9,852.2 962.8,847.6 963.7,844.3 964.6,854.7 965.5,845.5 966.1,831.6 966.6,831.6 967.0,858.6 967.6,858.6 967.9,841.8 968.4,841.8 969.1,858.8 970.0,859.5 970.9,846.3 971.8,845.1 972.7,843.6 973.6,861.7 974.5,862.5 975.4,863.4 976.3,863.1 977.2,860.6 978.1,859.8 979.0,863.1 979.9,862.5 980.8,859.2 981.4,856.6 981.9,856.6 982.6,859.9 983.5,861.0 984.4,863.1 985.3,860.9 986.2,862.2 987.1,860.7 988.0,860.0 988.9,859.7 989.8,860.7 990.7,861.6 991.6,862.5 992.5,863.1 993.4,863.3 994.3,862.4 994.9,856.6 995.4,856.6 996.1,858.8 997.0,859.9 997.9,861.8 998.8,861.8 999.7,859.6 1000.6,861.7 1001.2,855.1 1001.7,855.1 1002.4,859.3 1003.3,860.2 1004.2,862.5 1005.1,861.7 1006.0,861.5 1006.9,859.0 1007.8,860.3 1008.7,861.3 1009.6,860.2 1010.5,861.4 1011.4,863.1 1012.3,862.0 1013.2,861.7 1014.1,862.9 1015.0,861.9 1015.9,860.9 1016.8,861.5 1017.7,862.9 1018.6,862.0 1019.5,861.2 1020.4,860.1 1021.3,858.1 1022.2,863.4 1023.1,860.0 1024.0,861.0 1024.9,863.0 1025.8,861.2 1026.7,861.2 1027.6,860.2 1028.5,858.2 1029.4,860.1 1030.3,859.7 1031.2,861.0 1032.1,860.7 1033.0,861.7 1033.9,861.5 1034.8,861.6 1035.7,862.9 1036.6,860.9 1037.5,860.2 1038.4,862.1 1039.3,861.7 1040.2,862.0 1041.1,863.0 1042.0,862.4 1042.9,846.5 1043.8,844.7 1044.7,841.9 1045.6,837.3 1046.2,859.3 1046.8,859.3 1047.1,841.3 1047.6,841.3 1048.3,851.4 1049.2,834.5 1049.8,807.6 1050.3,807.6 1051.0,847.5 1051.9,843.5 1052.8,852.6 1053.7,844.2 1054.6,840.5 1055.5,835.5 1056.1,852.5 1056.7,852.5 1057.0,818.6 1057.5,818.6 1058.2,855.1 1058.8,860.9 1059.4,860.9 1059.7,852.2 1060.2,852.2 1060.6,862.5 1061.2,862.5 1061.5,852.5 1062.0,852.5 1062.7,856.8 1063.6,862.7 1064.5,857.9 1065.4,859.7 1066.3,859.6 1067.2,857.7 1068.1,857.8 1068.7,854.7 1069.2,854.7 1069.9,859.6 1070.8,859.7 1071.7,860.4 1072.6,862.2 1073.5,862.3 1074.4,862.6 1075.3,862.6 1076.2,863.4 1077.1,862.2 1077.7,856.1 1078.2,856.1 1078.9,858.8 1079.8,859.9 1080.7,860.6 1081.6,860.3 1082.5,861.4 1083.4,859.7 1084.3,863.0 1085.2,863.5 1086.1,863.2 1086.7,857.0 1087.2,857.0 1087.9,860.3 1088.8,861.0 1089.4,854.2 1089.9,854.2 1090.6,858.7 1091.5,859.9 1092.4,860.9 1093.3,861.8 1094.2,853.6 1094.8,845.1 1095.3,845.1 1095.7,856.1 1096.3,856.1 1096.6,843.5 1097.1,843.5 1097.8,851.5 1098.4,839.6 1098.9,839.6 1099.6,860.3 1100.5,861.2 1101.4,860.3 1102.3,861.1 1103.2,861.4 1104.1,857.9 1105.0,860.7 1105.9,863.3 1106.5,857.0 1107.0,857.0 1107.7,861.4 1108.6,862.9 1109.5,861.3 1110.4,863.3 1111.3,859.8 1112.2,859.7 1113.1,860.4 1114.0,859.4 1114.9,860.6 1115.8,863.4 1116.7,857.7 1117.6,860.9 1118.5,863.4 1119.4,861.0 1120.3,861.1 1121.2,863.2 1122.1,862.9 1123.0,860.8 1123.9,861.8 1124.8,862.4 1125.7,862.6 1126.6,862.4 1127.5,863.0 1128.4,861.7 1129.3,862.7 1130.2,860.1 1131.1,863.1 1132.0,862.0 1132.9,862.3 1133.8,860.3 1134.7,863.3 1135.6,862.3 1136.5,862.5 1137.4,861.0 1138.3,837.7 1139.2,842.3 1139.8,832.7 1140.3,832.7 1141.0,841.8 1141.6,813.6 1142.1,813.6 1142.8,857.3 1143.7,858.3 1144.6,847.7 1145.2,831.1 1145.7,831.1 1146.1,854.6 1146.7,854.6 1147.0,825.6 1147.5,825.6 1148.2,843.3 1149.1,840.9 1150.0,840.6 1150.9,836.0 1151.5,860.2 1152.1,860.2 1152.4,848.2 1152.9,848.2 1153.6,853.8 1154.2,849.8 1154.7,849.8 1155.4,855.2 1156.3,851.4 1157.2,852.5 1157.8,861.8 1158.4,861.8 1158.7,853.8 1159.2,853.8 1159.9,857.7 1160.8,860.6 1161.4,845.6 1161.9,845.6 1162.6,862.1 1163.5,863.1 1164.4,862.6 1165.3,862.8 1166.2,862.6 1167.1,863.2 1168.0,861.9 1168.9,863.0 1169.5,848.6 1170.0,848.6 1170.7,862.1 1171.6,862.3 1172.5,862.2 1173.4,863.4 1174.3,862.0 1175.2,860.2 1176.1,863.2 1177.0,862.6 1177.9,859.7 1178.8,863.4 1179.7,861.8 1180.6,862.8 1181.5,860.9 1182.4,853.6 1183.3,855.3 1184.2,845.1 1185.1,845.8 1186.0,851.3 1186.9,852.7 1187.8,852.1 1188.7,863.1 1189.6,862.1 1190.5,859.2 1191.4,862.0 1192.3,860.5 1193.2,862.7 1194.1,858.7 1195.0,863.2 1195.9,861.4 1196.8,859.9 1197.7,860.8 1198.6,857.6 1199.5,862.3 1200.4,861.6 1201.3,862.6 1202.2,862.0 1203.1,863.2 1204.0,863.0 1204.9,858.1 1205.8,859.7 1206.7,860.8 1207.6,862.6 1208.5,860.4 1209.4,860.7 1210.3,860.1 1211.2,862.8 1212.1,863.4 1213.0,859.9 1213.9,862.9 1214.8,863.4 1215.7,861.0 1216.6,862.6 1217.5,860.7 1218.4,862.0 1219.3,862.3 1220.2,861.9 1221.1,860.7 1222.0,862.9 1222.9,858.1 1223.8,860.3 1224.7,862.4 1225.6,862.3 1226.5,863.0 1227.4,857.6 1228.3,860.6 1229.2,845.4 1230.1,841.8 1231.0,853.3 1231.7,846.9 1232.2,846.9 1232.5,861.0 1233.1,861.0 1233.5,836.8 1234.0,836.8 1234.3,857.0 1234.9,857.0 1235.5,848.8 1236.2,826.9 1236.7,826.9 1237.0,850.3 1237.6,850.3 1238.2,826.5 1239.1,827.6 1240.0,828.5 1240.7,817.6 1241.2,817.6 1241.8,829.9 1242.7,846.4 1243.6,855.5 1244.2,862.9 1244.8,862.9 1245.2,842.6 1245.7,842.6 1246.0,857.1 1246.6,857.1 1247.0,845.4 1247.5,845.4 1248.1,855.1 1248.8,841.6 1249.3,841.6 1249.9,846.1 1250.8,855.9 1251.7,856.0 1252.6,858.3 1253.5,862.8 1254.4,858.2 1255.3,858.7 1256.2,862.9 1257.1,862.7 1258.0,858.2 1258.9,859.1 1259.8,859.9 1260.7,860.1 1261.6,859.0 1262.5,859.2 1263.4,857.8 1264.3,863.0 1265.0,857.4 1265.5,857.4 1266.1,863.2 1267.0,859.1 1267.9,863.0 1268.8,862.6 1269.7,863.0 1270.6,860.4 1271.5,859.8 1272.4,861.3 1273.3,862.0 1274.2,863.1 1275.1,862.0 1275.8,835.6 1276.3,835.6 1276.9,862.0 1277.8,859.5 1278.7,863.0 1279.6,860.8 1280.5,858.5 1281.2,851.6 1281.7,851.6 1282.3,861.5 1283.2,862.9 1284.1,860.2 1285.0,861.0 1285.9,861.9 1286.8,860.7 1287.7,862.6 1288.6,862.4 1289.5,863.3 1290.4,860.2 1291.3,859.9 1292.2,859.8 1293.1,862.7 1294.0,860.2 1294.9,859.7 1295.8,860.1 1296.7,860.5 1297.6,863.3 1298.5,862.0 1299.4,863.0 1300.3,861.6 1301.2,863.2 1302.1,860.4 1303.0,862.1 1303.9,860.1 1304.8,861.4 1305.7,862.9 1306.4,855.8 1306.9,855.8 1307.5,862.8 1308.4,861.5 1309.3,861.5 1310.2,862.9 1311.1,860.5 1312.0,863.4 1312.9,859.6 1313.8,860.0 1314.7,862.3 1315.6,863.0 1316.5,863.3 1317.4,862.3 1318.3,863.0 1319.2,863.2 1320.1,862.5 1320.8,853.4 1321.3,853.4 1321.9,855.5 1322.6,829.6 1323.1,829.6 1323.7,858.1 1324.6,859.1 1325.3,850.4 1325.8,850.4 1326.4,853.4 1327.1,837.4 1327.6,837.4 1328.2,849.6 1328.9,833.2 1329.4,833.2 1330.0,850.0 1330.9,843.9 1331.8,842.0 1332.7,833.6 1333.6,832.6 1334.5,845.0 1335.1,862.0 1335.7,862.0 1336.3,845.2 1337.2,848.6 1338.1,859.3 1339.0,858.0 1339.9,859.8 1340.8,861.9 1341.7,863.2 1342.6,859.5 1343.3,845.6 1343.8,845.6 1344.4,863.3 1345.1,857.5 1345.6,857.5 1346.2,860.1 1347.1,861.1 1347.8,856.3 1348.3,856.3 1348.9,860.7 1349.8,861.3 1350.7,862.9 1351.6,861.1 1352.5,862.9 1353.4,863.0 1354.3,863.4 1355.2,862.1 1355.9,856.1 1356.4,856.1 1357.0,863.2 1357.9,861.8 1358.8,863.5 1359.7,862.2 1360.6,862.8 1361.5,862.1 1362.4,862.1 1363.3,863.2 1364.2,860.4 1365.1,859.2 1365.8,854.0 1366.3,854.0 1366.9,858.3 1367.6,852.4 1368.1,852.4 1368.7,863.1 1369.6,862.6 1370.5,862.2 1371.4,860.6 1372.3,860.3 1373.2,861.3 1374.1,860.7 1375.0,860.8 1375.9,863.4 1376.8,862.6 1377.7,863.3 1378.6,862.5 1379.5,860.5 1380.4,862.0 1381.3,860.6 1382.2,863.4 1383.1,861.1 1384.0,863.4 1384.9,862.0 1385.8,860.6 1386.5,852.6 1387.0,852.6 1387.6,860.0 1388.5,862.6 1389.2,856.4 1389.7,856.4 1390.3,863.4 1391.2,859.9 1392.1,860.9 1393.0,859.2 1393.9,862.2 1394.8,862.7 1395.7,860.2 1396.6,861.1 1397.5,860.6 1398.4,862.7 1399.3,862.5 1400.2,858.4 1401.1,857.8 1402.0,862.4 1402.9,863.0 1403.8,861.2 1404.7,861.8 1405.6,862.2 1406.5,860.8 1407.4,860.9 1408.3,861.3 1409.2,854.0 1410.1,840.9 1411.0,842.5 1411.7,834.9 1412.2,834.9 1412.8,852.8 1413.5,847.5 1414.0,847.5 1414.6,855.6 1415.5,860.7 1416.4,850.1 1417.3,848.3 1418.0,803.6 1418.5,803.6 1419.1,833.8 1420.0,839.5 1420.9,837.0 1421.5,855.6 1422.1,855.6 1422.5,831.6 1423.0,831.6 1423.6,861.6 1424.3,856.6 1424.8,856.6 1425.4,862.0 1426.1,856.2 1426.6,856.2 1427.2,859.6 1428.1,852.4 1429.0,851.7 1429.9,852.7 1430.8,855.9 1431.7,854.1 1432.6,858.0 1433.5,860.3 1434.4,856.3 1435.3,854.6 1436.2,862.4 1437.1,859.4 1438.0,860.8 1438.7,846.6 1439.2,846.6 1439.8,862.8 1440.7,860.8 1441.6,863.4 1442.5,863.3 1443.4,862.8 1444.3,862.3 1445.2,861.6 1446.1,863.2 1447.0,859.3 1447.9,861.0 1448.8,862.7 1449.7,861.8 1450.6,861.0 1451.5,863.1 1452.4,861.7 1453.3,863.4 1454.2,863.0 1455.1,861.4 1456.0,859.3 1456.9,860.4 1457.8,860.2 1458.7,862.9 1459.6,860.6 1460.5,850.7 1461.2,838.1 1461.7,838.1 1462.0,861.4 1462.6,861.4 1463.0,833.6 1463.5,833.6 1464.1,852.4 1465.0,856.6 1465.7,852.5 1466.2,852.5 1466.8,859.6 1467.7,861.0 1468.4,852.2 1468.9,852.2 1469.2,859.9 1469.8,859.9 1470.2,848.9 1470.7,848.9 1471.0,861.4 1471.6,861.4 1472.0,837.6 1472.5,837.6 1472.8,859.1 1473.4,859.1 1474.0,841.0 1474.9,842.5 1475.8,843.8 1476.5,823.7 1477.0,823.7 1477.6,835.0 1478.5,859.0 1479.4,853.9 1480.1,842.2 1480.6,842.2 1481.2,851.0 1481.9,847.6 1482.4,847.6 1482.7,861.6 1483.3,861.6 1483.9,840.5 1484.6,834.0 1485.1,834.0 1485.7,842.4 1486.3,857.2 1486.9,857.2 1487.3,838.4 1487.8,838.4 1488.4,848.6 1489.3,852.9 1490.2,848.7 1491.1,842.5 1492.0,841.0 1492.7,815.6 1493.2,815.6 1493.8,843.4 1494.7,848.5 1495.4,829.4 1495.9,829.4 1496.5,840.6 1497.4,832.6 1498.1,812.4 1498.6,812.4 1499.2,842.9 1500.1,847.8 1500.8,829.4 1501.3,829.4 1501.9,861.5 1502.8,856.8 1503.3,798.6 1504.2,798.6 1504.3,862.3 1504.9,862.3 1505.5,845.3 1506.4,842.2 1507.3,844.9 1508.2,842.3 1508.7,802.6 1509.6,802.6 1510.0,829.8 1510.9,834.3 1511.8,827.4 1512.7,839.1 1513.6,824.9 1514.5,819.9 1515.4,830.1 1516.3,828.7 1516.9,857.7 1517.5,857.7 1518.1,845.9 1519.0,845.1 1519.9,853.2 1520.6,842.8 1521.1,842.8 1521.7,847.6 1522.4,837.3 1522.9,837.3 1523.5,845.8 1524.4,843.7 1525.3,847.9 1526.2,845.2 1527.1,849.0 1528.0,853.4 1528.5,786.6 1529.4,786.6 1529.8,852.2 1530.7,844.2 1531.6,843.7 1532.5,845.9 1533.4,847.6 1533.9,755.6 1534.8,755.6 1535.2,851.5 1536.1,855.7 1537.0,830.3 1537.9,830.9 1538.8,846.4 1539.7,843.4 1540.3,858.4 1540.9,858.4 1541.5,850.6 1542.0,771.6 1542.9,771.6 1543.3,841.1 1543.9,861.3 1544.5,861.3 1544.9,814.5 1545.4,814.5 1546.0,849.7 1546.9,847.1 1547.6,835.1 1548.1,835.1 1548.7,855.1 1549.6,855.1 1550.2,860.3 1550.8,860.3 1551.0,776.6 1551.9,776.6 1552.3,854.2 1553.0,846.0 1553.5,846.0 1554.1,854.9 1554.7,862.5 1555.3,862.5 1555.9,855.3 1556.8,841.0 1557.7,839.5 1558.6,837.9 1559.5,838.9 1560.4,851.6 1561.1,848.1 1561.6,848.1 1561.9,858.8 1562.5,858.8 1562.9,813.6 1563.4,813.6 1564.0,835.1 1564.9,837.6 1565.8,841.8 1566.7,841.7 1567.3,857.0 1567.9,857.0 1568.3,847.5 1568.8,847.5 1569.4,851.0 1570.3,851.6 1570.9,860.3 1571.5,860.3 1571.9,848.5 1572.4,848.5 1573.0,859.4 1573.9,857.5 1574.8,843.2 1575.7,845.2 1576.6,852.5 1577.5,855.3 1578.4,847.2 1579.1,815.6 1579.6,815.6 1580.2,841.2 1580.8,854.8 1581.4,854.8 1581.8,841.5 1582.3,841.5 1582.9,849.4 1583.8,847.3 1584.7,849.2 1585.3,861.2 1585.9,861.2 1586.5,854.8 1587.4,854.9 1588.1,816.6 1588.6,816.6 1588.9,859.1 1589.5,859.1 1589.9,847.5 1590.4,847.5 1591.0,854.1 1591.9,858.8 1592.6,830.6 1593.1,830.6 1593.7,844.2 1594.6,846.9 1595.5,848.2 1596.4,853.9 1597.1,851.0 1597.6,851.0 1598.2,854.2 1599.1,853.6 1600.0,853.0 1600.7,845.3 1601.2,845.3 1601.8,859.2 1602.0,863.6 Z" fill="#231F20" stroke="#231F20" stroke-width="0.8" stroke-linejoin="round"/>
<line x1="236.0" y1="863.9" x2="1602.0" y2="863.9" stroke="#231F20" stroke-width="1.7"/>
<path d="M236.5,971.6 236.5,966.9 237.4,960.9 238.1,955.5 238.6,955.5 239.2,958.8 240.1,955.0 241.0,952.8 241.9,949.2 242.8,949.7 243.7,962.1 244.6,961.1 245.5,954.7 246.2,938.1 246.7,938.1 247.3,948.9 247.9,967.0 248.5,967.0 248.9,960.2 249.4,960.2 250.0,965.0 250.9,962.9 251.6,958.4 252.1,958.4 252.7,961.8 253.3,968.9 253.9,968.9 254.3,959.0 254.8,959.0 255.4,964.5 256.1,952.2 256.6,952.2 257.2,960.8 257.9,933.8 258.4,933.8 259.0,950.0 259.9,960.6 260.8,948.5 261.7,944.7 262.6,947.4 263.5,965.4 264.4,965.7 265.3,965.1 265.9,944.4 266.4,944.4 267.1,960.8 268.0,966.4 268.9,956.4 269.5,938.5 270.0,938.5 270.7,954.1 271.1,909.6 272.0,909.6 272.5,935.2 273.1,925.1 273.6,925.1 274.3,948.9 275.2,941.7 276.1,940.8 277.0,946.0 277.9,949.9 278.3,911.2 279.2,911.2 279.7,949.6 280.3,939.9 280.8,939.9 281.5,949.1 282.4,921.0 283.3,923.4 284.2,933.0 285.1,949.2 286.0,943.6 286.9,959.9 287.5,953.9 288.0,953.9 288.4,967.8 289.0,967.8 289.6,944.1 290.5,949.5 291.1,968.6 291.7,968.6 292.3,954.4 293.2,931.2 294.1,932.4 294.5,875.6 295.4,875.6 295.9,928.4 296.5,915.6 297.0,915.6 297.4,958.9 298.0,958.9 298.1,901.7 299.0,901.7 299.5,933.6 299.9,899.2 300.8,899.2 301.3,936.1 302.2,920.3 303.1,912.4 304.0,932.8 304.9,914.3 305.8,919.8 306.2,875.1 307.1,875.1 307.3,955.8 307.9,955.8 308.5,888.7 309.4,900.3 310.3,929.7 311.2,921.3 311.6,853.6 312.5,853.6 313.0,932.1 313.9,953.5 314.5,939.8 315.0,939.8 315.4,963.9 316.0,963.9 316.6,941.9 317.0,889.6 317.9,889.6 318.1,966.6 318.7,966.6 319.3,948.9 320.2,944.9 321.1,954.7 321.5,889.6 322.4,889.6 322.9,932.5 323.8,926.0 324.7,934.7 325.3,922.6 325.8,922.6 326.2,966.0 326.8,966.0 327.1,932.6 327.6,932.6 328.3,946.5 329.2,946.0 330.1,941.9 330.7,962.9 331.3,962.9 331.9,923.6 332.8,925.4 333.7,938.8 334.1,908.6 335.0,908.6 335.5,932.8 336.4,925.8 337.3,950.7 338.2,925.3 338.8,912.8 339.3,912.8 340.0,941.2 340.9,937.2 341.8,942.9 342.7,950.3 343.6,950.9 344.0,908.6 344.9,908.6 345.4,930.1 346.0,967.5 346.6,967.5 346.9,920.4 347.4,920.4 348.1,956.4 349.0,962.1 349.6,944.1 350.1,944.1 350.8,953.0 351.7,958.1 352.6,955.7 353.5,951.1 354.4,947.4 355.3,965.9 356.2,967.5 356.8,950.4 357.3,950.4 358.0,967.2 358.9,964.5 359.5,955.4 360.0,955.4 360.4,964.4 361.0,964.4 361.6,954.8 362.5,955.9 363.4,959.9 364.3,961.3 365.2,959.6 366.1,966.3 366.7,964.0 367.2,964.0 367.9,969.6 368.8,961.9 369.7,961.1 370.3,971.1 370.9,971.1 371.5,960.6 372.4,956.1 373.0,941.4 373.5,941.4 374.2,955.4 375.1,951.6 376.0,963.5 376.9,956.9 377.8,959.5 378.7,960.1 379.3,941.7 379.8,941.7 380.5,952.0 381.4,962.0 382.3,964.9 382.9,953.9 383.4,953.9 384.1,959.6 385.0,961.3 385.6,955.0 386.1,955.0 386.5,970.0 387.1,970.0 387.4,952.4 387.9,952.4 388.6,958.2 389.5,961.1 390.4,957.3 391.3,957.4 392.2,955.4 392.8,920.7 393.3,920.7 394.0,945.4 394.9,933.0 395.8,926.6 396.7,919.4 397.6,932.9 398.5,911.9 399.4,910.5 400.3,901.5 401.2,921.4 401.8,952.6 402.4,952.6 403.0,903.2 403.9,909.3 404.8,927.8 405.7,911.2 406.6,922.2 407.0,903.9 407.9,903.9 408.4,923.5 409.3,919.6 410.2,939.9 411.1,932.1 412.0,942.6 412.9,948.3 413.8,952.2 414.7,953.2 415.6,958.6 416.2,927.4 416.7,927.4 417.4,943.6 418.0,924.1 418.5,924.1 418.9,968.2 419.5,968.2 420.1,953.3 421.0,945.9 421.6,921.9 422.1,921.9 422.8,944.2 423.7,945.6 424.6,943.8 425.5,939.1 426.1,922.4 426.6,922.4 427.3,938.4 427.7,905.0 428.6,905.0 429.1,922.1 430.0,919.1 430.9,919.7 431.3,905.3 432.2,905.3 432.7,925.8 433.3,967.7 433.9,967.7 434.5,940.9 434.9,901.0 435.8,901.0 436.3,918.1 436.7,897.6 437.6,897.6 437.8,969.2 438.4,969.2 438.7,915.6 439.2,915.6 439.9,943.9 440.5,915.8 441.0,915.8 441.7,942.5 442.3,929.6 442.8,929.6 443.5,939.7 444.1,926.6 444.6,926.6 445.3,945.3 446.2,930.6 446.8,913.8 447.3,913.8 448.0,931.9 448.6,968.9 449.2,968.9 449.8,936.5 450.7,904.6 451.6,911.3 452.5,907.4 453.4,900.6 454.3,909.8 454.9,964.0 455.5,964.0 455.6,908.1 456.5,908.1 457.0,923.5 457.9,945.6 458.8,934.7 459.4,925.4 459.9,925.4 460.6,946.6 461.5,955.3 462.4,952.8 463.3,944.2 463.7,884.6 464.6,884.6 465.1,924.1 466.0,936.5 466.9,931.0 467.8,924.9 468.7,947.9 469.3,917.5 469.8,917.5 470.2,948.2 470.8,948.2 471.1,918.7 471.6,918.7 472.3,951.7 472.9,932.2 473.4,932.2 474.1,947.1 475.0,946.4 475.6,924.9 476.1,924.9 476.8,938.4 477.7,955.9 478.6,930.6 479.2,918.8 479.7,918.8 480.4,939.5 481.0,965.2 481.6,965.2 482.2,938.2 482.6,906.3 483.5,906.3 484.0,937.9 484.6,963.6 485.2,963.6 485.8,946.1 486.4,925.4 486.9,925.4 487.6,959.4 488.5,959.4 489.4,962.7 490.3,950.7 490.9,944.6 491.4,944.6 492.1,958.2 493.0,939.2 493.4,908.8 494.3,908.8 494.8,944.6 495.4,914.2 495.9,914.2 496.6,943.6 497.5,948.3 498.1,967.2 498.7,967.2 499.3,956.6 499.9,951.4 500.4,951.4 501.1,956.6 501.7,947.5 502.2,947.5 502.9,953.0 503.5,942.0 504.0,942.0 504.7,950.8 505.3,968.2 505.9,968.2 506.5,958.8 507.1,955.2 507.6,955.2 508.3,962.2 509.2,967.3 510.1,959.8 511.0,953.2 511.9,941.4 512.8,929.1 513.7,932.3 514.6,939.3 515.2,931.0 515.7,931.0 516.4,950.4 517.3,957.0 517.9,937.4 518.4,937.4 519.1,948.2 520.0,941.7 520.9,947.4 521.5,930.9 522.0,930.9 522.7,943.0 523.6,946.0 524.2,924.9 524.7,924.9 525.1,965.5 525.7,965.5 526.3,926.2 527.2,931.4 528.1,934.6 529.0,928.5 529.9,942.7 530.5,929.1 531.0,929.1 531.7,942.7 532.6,945.2 533.2,937.8 533.7,937.8 534.4,944.8 535.3,933.2 536.2,932.3 537.1,945.4 537.7,915.2 538.2,915.2 538.9,941.4 539.8,926.9 540.7,934.7 541.6,932.9 542.5,936.5 543.4,930.0 544.3,944.2 545.2,947.3 546.1,954.7 547.0,940.5 547.9,940.7 548.8,932.2 549.7,934.9 550.6,931.5 551.5,943.2 552.4,954.8 553.0,969.6 553.6,969.6 553.9,916.6 554.4,916.6 555.1,969.7 556.0,968.0 556.9,970.0 557.8,969.2 558.7,968.9 559.6,969.9 560.5,968.7 561.4,967.9 562.3,968.4 563.2,969.3 564.1,970.3 565.0,970.4 565.9,969.0 566.8,969.6 567.7,969.8 568.3,956.6 568.8,956.6 569.5,969.4 570.4,970.7 571.3,969.8 572.2,970.4 573.1,970.7 574.0,970.3 574.9,969.0 575.8,971.3 576.4,949.6 576.9,949.6 577.6,969.8 578.5,969.8 579.4,970.0 580.3,969.8 581.2,967.1 582.1,970.3 582.7,953.6 583.2,953.6 583.9,969.5 584.8,969.5 585.7,969.4 586.6,969.8 587.5,960.3 588.4,948.3 589.3,922.4 590.2,912.5 591.1,930.8 592.0,952.1 592.9,959.0 593.8,946.7 594.7,943.5 595.1,910.3 596.0,910.3 596.5,940.1 597.4,935.2 598.3,943.3 598.9,966.7 599.5,966.7 600.1,920.2 600.5,879.6 601.4,879.6 601.9,908.9 602.8,929.5 603.7,920.6 604.3,966.2 604.9,966.2 605.5,931.7 606.4,929.1 607.3,937.5 607.9,965.5 608.5,965.5 608.8,925.7 609.3,925.7 610.0,938.1 610.4,862.6 611.3,862.6 611.8,906.5 612.4,957.4 613.0,957.4 613.6,918.6 614.5,889.7 615.4,884.9 616.3,914.9 617.2,908.5 617.6,873.6 618.5,873.6 619.0,922.0 619.6,969.0 620.2,969.0 620.3,899.0 621.2,899.0 621.4,965.4 622.0,965.4 622.1,908.3 623.0,908.3 623.5,933.8 624.4,946.8 625.3,930.0 626.2,902.4 627.1,896.1 628.0,907.1 628.9,941.5 629.8,889.6 630.7,895.4 631.6,920.8 632.5,910.5 633.4,931.7 634.3,928.5 635.2,938.7 636.1,936.8 637.0,940.0 637.6,924.9 638.1,924.9 638.8,954.4 639.7,955.6 640.6,970.7 641.5,970.3 642.4,970.4 643.3,970.4 644.2,970.4 645.1,970.0 646.0,969.8 646.9,970.8 647.8,970.9 648.7,970.0 649.6,970.4 650.5,968.9 651.4,969.8 652.3,969.3 653.2,969.9 654.1,970.4 655.0,970.2 655.6,951.6 656.1,951.6 656.8,970.6 657.7,968.0 658.6,969.2 659.5,969.6 660.1,964.3 660.6,964.3 661.3,969.8 662.2,969.8 663.1,969.8 664.0,969.6 664.9,969.0 665.8,970.2 666.7,970.7 667.6,969.8 668.5,969.9 669.4,970.4 670.3,968.7 671.2,968.6 671.8,953.6 672.3,953.6 673.0,968.7 673.9,970.1 674.8,970.8 675.7,969.3 676.6,957.0 677.5,909.2 678.4,898.9 679.3,902.9 680.2,955.6 681.1,963.1 682.0,934.6 682.9,875.6 683.8,886.0 684.7,911.1 685.6,904.4 686.5,965.7 687.4,969.6 688.3,918.3 689.2,920.0 690.1,921.8 691.0,934.8 691.9,924.1 692.8,901.1 693.7,892.2 694.6,891.5 695.5,898.0 696.4,927.9 697.3,934.1 697.9,922.9 698.4,922.9 698.8,964.6 699.4,964.6 700.0,895.8 700.9,899.1 701.8,893.3 702.7,910.7 703.6,926.3 704.5,903.5 705.4,894.7 706.3,907.3 707.2,914.9 708.1,950.8 709.0,934.4 709.9,899.3 710.8,910.7 711.2,859.6 712.1,859.6 712.6,912.2 713.5,942.7 714.4,952.6 715.3,946.5 716.2,948.8 717.1,952.2 718.0,942.0 718.4,859.6 719.3,859.6 719.8,927.5 720.7,916.9 721.6,942.9 722.2,969.8 722.8,969.8 723.1,933.6 723.6,933.6 724.3,959.8 725.2,959.7 725.8,941.7 726.3,941.7 727.0,951.2 727.9,959.8 728.8,970.0 729.7,968.2 730.6,969.4 731.5,970.4 732.4,968.5 733.3,969.0 733.9,963.8 734.4,963.8 735.1,966.2 736.0,967.2 736.9,967.1 737.8,966.7 738.7,967.2 739.6,969.4 740.5,967.3 741.4,967.9 742.3,968.0 743.2,967.6 744.1,969.8 745.0,969.4 745.6,957.6 746.1,957.6 746.8,971.1 747.7,969.1 748.6,969.3 749.5,965.9 750.4,969.6 751.3,968.3 752.2,969.8 753.1,970.1 754.0,970.3 754.9,969.5 755.8,970.5 756.4,955.6 756.9,955.6 757.6,970.7 758.5,970.8 759.4,970.3 760.3,970.1 761.2,970.6 762.1,969.3 763.0,968.5 763.9,969.5 764.5,953.6 765.0,953.6 765.7,968.7 766.6,969.4 767.5,968.9 768.4,967.9 769.3,967.7 770.2,968.9 771.1,954.6 772.0,939.0 772.4,904.8 773.3,904.8 773.8,919.1 774.7,938.9 775.1,903.7 776.0,903.7 776.5,921.7 777.4,901.7 778.3,898.6 779.2,932.6 780.1,928.9 781.0,923.8 781.4,903.4 782.3,903.4 782.8,923.3 783.7,930.0 784.1,859.6 785.0,859.6 785.5,901.0 786.1,965.7 786.7,965.7 787.3,913.9 788.2,885.2 789.1,887.2 790.0,937.3 790.9,939.0 791.8,922.2 792.7,927.6 793.1,873.6 794.0,873.6 794.5,949.0 795.1,932.8 795.6,932.8 796.0,966.4 796.6,966.4 797.2,909.8 798.1,921.1 799.0,923.8 799.4,895.5 800.3,895.5 800.8,923.9 801.7,955.3 802.6,939.2 803.5,936.0 803.9,859.6 804.8,859.6 805.0,969.4 805.6,969.4 806.2,932.5 807.1,926.7 808.0,917.3 808.9,914.2 809.5,966.6 810.1,966.6 810.7,952.4 811.6,953.0 812.5,951.1 813.4,892.5 813.8,859.6 814.7,859.6 815.2,953.0 816.1,958.8 817.0,969.0 817.9,969.6 818.8,969.5 819.7,969.4 820.6,970.4 821.5,970.9 822.4,970.4 823.3,970.9 824.2,970.9 825.1,970.6 826.0,970.6 826.9,971.0 827.8,970.7 828.7,970.9 829.6,970.1 830.5,969.6 831.4,969.9 832.3,970.2 833.2,969.5 834.1,970.3 835.0,970.4 835.9,970.1 836.8,966.2 837.7,969.5 838.6,969.2 839.5,969.7 840.4,969.6 841.0,959.6 841.5,959.6 842.2,968.1 843.1,967.6 844.0,967.5 844.9,969.1 845.8,969.7 846.7,968.9 847.6,968.7 848.2,964.4 848.7,964.4 849.4,967.7 850.0,957.6 850.5,957.6 851.2,969.5 852.1,969.5 853.0,969.7 853.9,968.5 854.8,970.3 855.7,969.8 856.6,969.6 857.5,964.2 858.1,952.2 858.6,952.2 859.3,965.1 860.2,967.2 861.1,959.1 862.0,944.9 862.6,915.4 863.1,915.4 863.8,949.4 864.7,957.9 865.6,959.6 866.2,918.3 866.7,918.3 867.4,951.9 868.3,954.4 869.2,954.1 870.1,944.7 871.0,946.5 871.9,931.2 872.3,891.0 873.2,891.0 873.7,943.1 874.6,958.6 875.5,953.5 876.4,949.9 877.0,939.2 877.5,939.2 877.9,969.4 878.5,969.4 878.6,908.5 879.5,908.5 880.0,932.0 880.9,936.5 881.5,959.0 882.1,959.0 882.7,920.0 883.6,919.8 884.5,949.3 885.4,941.0 885.8,881.6 886.7,881.6 887.2,912.5 888.1,934.1 889.0,937.8 889.6,969.9 890.2,969.9 890.8,933.9 891.4,917.5 891.9,917.5 892.6,940.7 893.5,942.1 893.9,867.6 894.8,867.6 895.3,915.5 896.2,905.8 897.1,912.0 898.0,925.1 898.9,935.8 899.8,915.3 900.2,886.6 901.1,886.6 901.6,928.9 902.5,930.8 902.9,911.2 903.8,911.2 904.3,930.6 904.9,955.6 905.5,955.6 905.8,931.0 906.3,931.0 907.0,945.3 907.9,949.5 908.8,950.4 909.7,965.2 910.6,968.9 911.5,968.6 912.4,970.1 913.3,968.7 914.2,969.1 915.1,969.4 916.0,968.8 916.9,968.0 917.8,968.7 918.7,968.8 919.6,968.0 920.5,969.8 921.4,969.7 922.3,969.0 923.2,968.8 924.1,968.9 925.0,968.3 925.9,969.4 926.8,967.0 927.7,968.1 928.6,970.4 929.5,968.6 930.4,968.8 931.3,968.1 932.2,968.2 933.1,969.0 934.0,969.6 934.9,969.3 935.8,969.7 936.4,957.6 936.9,957.6 937.6,969.2 938.5,967.8 939.4,968.9 940.3,966.3 941.2,970.7 942.1,969.8 943.0,970.3 943.9,970.2 944.8,969.7 945.7,971.4 946.6,970.5 947.5,970.5 948.1,953.6 948.6,953.6 949.3,970.2 950.2,969.9 951.1,969.7 952.0,970.3 952.6,943.1 953.1,943.1 953.8,955.1 954.4,939.3 954.9,939.3 955.6,946.1 956.5,945.0 956.9,893.6 957.8,893.6 958.3,959.6 959.2,960.7 960.1,958.3 960.7,968.9 961.3,968.9 961.6,937.8 962.1,937.8 962.8,953.9 963.2,903.8 964.1,903.8 964.6,955.1 965.2,949.0 965.7,949.0 966.1,966.8 966.7,966.8 967.0,924.5 967.5,924.5 968.2,939.0 969.1,933.5 970.0,939.6 970.9,955.4 971.8,954.9 972.7,954.4 973.6,937.0 974.5,940.3 975.4,958.8 976.3,948.9 977.2,915.6 978.1,905.1 978.7,967.9 979.3,967.9 979.6,925.7 980.1,925.7 980.5,966.5 981.1,966.5 981.7,947.1 982.1,881.6 983.0,881.6 983.5,949.1 984.4,950.3 985.0,943.4 985.5,943.4 986.2,950.7 986.8,943.9 987.3,943.9 988.0,951.1 988.6,940.6 989.1,940.6 989.8,957.5 990.4,939.6 990.9,939.6 991.6,946.9 992.5,927.8 993.4,932.7 994.0,914.1 994.5,914.1 994.9,964.7 995.5,964.7 995.6,885.6 996.5,885.6 997.0,937.2 997.9,948.1 998.8,945.5 999.4,969.6 1000.0,969.6 1000.3,943.4 1000.8,943.4 1001.5,950.5 1002.4,959.2 1003.3,969.0 1004.2,968.8 1005.1,969.2 1006.0,968.4 1006.9,968.6 1007.8,968.9 1008.7,966.9 1009.6,969.2 1010.5,967.0 1011.4,968.1 1012.3,968.1 1013.2,969.1 1014.1,967.7 1015.0,969.6 1015.6,955.6 1016.1,955.6 1016.8,971.2 1017.7,969.3 1018.6,968.3 1019.5,967.5 1020.4,969.4 1021.3,969.3 1022.2,969.5 1023.1,969.1 1023.7,961.6 1024.2,961.6 1024.9,969.0 1025.8,968.9 1026.7,969.1 1027.6,970.8 1028.5,969.4 1029.4,969.8 1030.3,969.7 1031.2,969.9 1032.1,970.2 1033.0,969.5 1033.9,969.7 1034.8,969.6 1035.7,968.3 1036.6,969.4 1037.5,969.6 1038.4,970.3 1039.3,970.0 1039.9,949.6 1040.4,949.6 1041.1,969.7 1042.0,969.0 1042.9,969.9 1043.8,952.6 1044.7,944.1 1045.6,944.4 1046.5,941.0 1047.4,950.8 1048.3,950.1 1048.9,964.2 1049.5,964.2 1049.8,942.4 1050.3,942.4 1051.0,955.9 1051.9,946.0 1052.8,940.1 1053.4,926.7 1053.9,926.7 1054.3,967.9 1054.9,967.9 1055.5,921.6 1055.9,873.6 1056.8,873.6 1057.3,929.0 1058.2,930.3 1058.6,897.1 1059.5,897.1 1060.0,944.7 1060.9,941.3 1061.8,923.5 1062.2,907.7 1063.1,907.7 1063.6,926.2 1064.5,928.2 1065.4,918.9 1066.3,897.6 1067.2,905.7 1068.1,913.4 1068.7,962.0 1069.3,962.0 1069.6,938.0 1070.1,938.0 1070.8,944.9 1071.2,887.5 1072.1,887.5 1072.3,965.5 1072.9,965.5 1073.5,923.4 1073.9,886.6 1074.8,886.6 1075.3,926.2 1076.2,930.2 1077.1,906.2 1078.0,913.6 1078.9,945.8 1079.8,921.1 1080.7,919.2 1081.6,907.2 1082.2,950.4 1082.8,950.4 1083.1,918.8 1083.6,918.8 1084.0,960.5 1084.6,960.5 1084.9,935.3 1085.4,935.3 1086.1,946.4 1087.0,949.5 1087.9,932.8 1088.5,916.0 1089.0,916.0 1089.7,951.9 1090.6,960.4 1091.5,967.4 1092.4,969.9 1093.3,969.9 1094.2,968.7 1095.1,969.4 1096.0,967.3 1096.9,969.6 1097.8,968.2 1098.7,968.4 1099.6,968.6 1100.5,969.9 1101.4,969.0 1102.3,970.3 1103.2,969.9 1104.1,965.7 1105.0,970.3 1105.9,969.8 1106.8,970.3 1107.4,956.6 1107.9,956.6 1108.6,969.7 1109.5,970.3 1110.4,969.8 1111.3,970.2 1111.9,957.6 1112.4,957.6 1113.1,969.8 1114.0,968.4 1114.9,969.1 1115.8,968.0 1116.7,968.2 1117.6,969.6 1118.5,970.4 1119.4,969.0 1120.3,968.7 1121.2,968.4 1121.8,953.6 1122.3,953.6 1123.0,968.8 1123.9,971.0 1124.8,969.4 1125.7,969.6 1126.6,969.3 1127.5,969.4 1128.4,969.7 1129.3,965.2 1130.2,957.4 1131.1,940.1 1132.0,946.0 1132.9,949.2 1133.5,936.2 1134.0,936.2 1134.7,967.1 1135.6,964.9 1136.5,961.2 1137.4,944.1 1138.3,930.1 1138.7,909.2 1139.6,909.2 1140.1,932.0 1141.0,937.6 1141.9,932.0 1142.3,907.3 1143.2,907.3 1143.7,934.5 1144.6,877.6 1145.5,891.0 1146.1,969.1 1146.7,969.1 1146.8,909.5 1147.7,909.5 1147.9,948.2 1148.5,948.2 1148.6,887.6 1149.5,887.6 1150.0,939.5 1150.6,927.7 1151.1,927.7 1151.8,949.4 1152.4,967.4 1153.0,967.4 1153.6,927.1 1154.0,911.1 1154.9,911.1 1155.4,936.9 1156.3,930.4 1157.2,930.8 1158.1,920.4 1159.0,920.0 1159.9,947.8 1160.3,898.6 1161.2,898.6 1161.4,962.7 1162.0,962.7 1162.6,944.3 1163.5,946.4 1164.4,956.0 1165.3,954.0 1166.2,961.6 1167.1,955.7 1167.7,936.0 1168.2,936.0 1168.9,953.3 1169.8,946.6 1170.7,934.4 1171.6,940.5 1172.5,946.8 1173.4,964.1 1174.3,955.6 1174.9,931.3 1175.4,931.3 1176.1,952.5 1177.0,946.5 1177.9,947.6 1178.8,951.6 1179.7,957.1 1180.6,969.3 1181.5,968.8 1182.4,971.2 1183.3,969.0 1184.2,971.0 1185.1,969.4 1186.0,969.5 1186.9,966.8 1187.8,969.4 1188.7,968.8 1189.6,969.4 1190.5,968.3 1191.4,968.9 1192.3,968.8 1193.2,967.5 1194.1,969.0 1194.7,961.6 1195.2,961.6 1195.9,966.0 1196.8,966.3 1197.7,967.5 1198.6,969.3 1199.5,969.0 1200.4,968.8 1201.3,969.0 1202.2,967.4 1203.1,968.4 1204.0,969.4 1204.9,967.9 1205.5,957.6 1206.0,957.6 1206.7,970.0 1207.6,968.5 1208.5,969.4 1209.4,969.7 1210.3,968.2 1210.9,964.6 1211.4,964.6 1212.1,970.7 1213.0,969.6 1213.9,969.1 1214.8,971.0 1215.7,970.3 1216.6,970.4 1217.5,969.7 1218.4,970.4 1219.3,969.7 1220.2,969.8 1221.1,969.6 1222.0,969.8 1222.9,970.1 1223.8,969.6 1224.7,968.9 1225.6,968.3 1226.5,969.1 1227.4,969.5 1228.3,970.1 1229.2,968.3 1230.1,969.7 1231.0,969.6 1231.7,961.4 1232.2,961.4 1232.8,970.3 1233.7,970.6 1234.6,961.7 1235.5,962.8 1236.4,963.0 1237.1,960.0 1237.6,960.0 1237.9,970.3 1238.5,970.3 1238.7,909.6 1239.6,909.6 1240.0,947.7 1240.6,966.7 1241.2,966.7 1241.8,953.9 1242.5,930.7 1243.0,930.7 1243.6,970.8 1244.5,968.4 1245.4,970.1 1246.1,933.6 1246.6,933.6 1247.2,941.4 1248.1,960.4 1249.0,961.2 1249.9,961.8 1250.6,933.6 1251.1,933.6 1251.7,963.1 1252.6,955.3 1253.3,947.0 1253.8,947.0 1254.4,969.8 1255.3,963.9 1256.2,960.4 1256.9,953.5 1257.4,953.5 1258.0,958.9 1258.7,921.6 1259.2,921.6 1259.8,967.3 1260.7,963.6 1261.6,962.0 1262.5,970.1 1263.4,970.7 1264.3,969.7 1265.0,963.0 1265.5,963.0 1265.8,969.0 1266.4,969.0 1266.8,956.3 1267.3,956.3 1267.9,962.7 1268.8,967.5 1269.7,969.5 1270.6,964.8 1271.3,953.9 1271.8,953.9 1272.1,967.6 1272.7,967.6 1273.1,956.2 1273.6,956.2 1274.2,969.5 1275.1,969.1 1276.0,968.9 1276.9,969.4 1277.8,969.6 1278.7,969.9 1279.6,970.5 1280.5,971.3 1281.4,970.8 1282.3,970.0 1283.2,970.9 1284.1,970.0 1285.0,970.5 1285.7,941.6 1286.2,941.6 1286.8,970.5 1287.7,970.7 1288.6,970.0 1289.5,970.4 1290.4,969.6 1291.3,969.7 1292.2,969.6 1293.1,969.0 1293.8,959.6 1294.3,959.6 1294.9,970.3 1295.8,970.3 1296.7,968.9 1297.6,968.1 1298.5,969.5 1299.4,969.0 1300.3,970.2 1301.2,970.3 1302.1,969.2 1302.8,953.6 1303.3,953.6 1303.9,968.4 1304.8,968.5 1305.7,968.2 1306.6,969.8 1307.5,969.5 1308.4,969.7 1309.3,970.0 1310.2,970.3 1311.1,969.9 1312.0,969.5 1312.9,970.5 1313.8,969.3 1314.7,969.9 1315.6,962.0 1316.3,943.8 1316.8,943.8 1317.1,968.8 1317.7,968.8 1318.3,956.4 1319.2,954.0 1320.1,950.0 1321.0,965.2 1321.9,966.8 1322.8,968.1 1323.7,968.6 1324.6,966.7 1325.5,969.4 1326.4,968.9 1327.3,968.0 1328.0,919.6 1328.5,919.6 1329.1,960.2 1329.7,969.1 1330.3,969.1 1330.7,919.6 1331.2,919.6 1331.8,970.5 1332.7,967.4 1333.6,967.7 1334.5,969.6 1335.2,959.9 1335.7,959.9 1336.3,965.8 1337.0,952.5 1337.5,952.5 1337.8,967.0 1338.4,967.0 1338.8,960.5 1339.3,960.5 1339.6,968.1 1340.2,968.1 1340.6,948.0 1341.1,948.0 1341.4,969.8 1342.0,969.8 1342.4,962.4 1342.9,962.4 1343.2,968.4 1343.8,968.4 1344.4,949.4 1345.3,952.6 1346.0,940.5 1346.5,940.5 1346.8,969.4 1347.4,969.4 1348.0,945.8 1348.5,908.6 1349.4,908.6 1349.8,962.7 1350.7,960.8 1351.6,964.6 1352.3,960.2 1352.8,960.2 1353.4,970.3 1354.3,970.5 1355.2,968.9 1356.1,961.0 1356.8,932.4 1357.3,932.4 1357.9,966.5 1358.8,963.9 1359.5,923.6 1360.0,923.6 1360.6,966.9 1361.3,965.4 1361.8,965.4 1362.4,968.9 1363.3,969.3 1364.2,969.6 1365.1,970.2 1366.0,970.2 1366.9,968.5 1367.8,969.0 1368.7,968.5 1369.6,969.4 1370.5,971.0 1371.4,969.7 1372.3,969.4 1373.2,969.3 1374.1,970.8 1375.0,969.8 1375.7,951.6 1376.2,951.6 1376.8,968.9 1377.7,967.6 1378.6,968.2 1379.5,971.0 1380.4,968.1 1381.3,970.9 1382.2,968.4 1383.1,968.3 1384.0,968.5 1384.9,969.2 1385.6,957.6 1386.1,957.6 1386.7,968.6 1387.6,969.1 1388.5,969.3 1389.4,968.8 1390.3,969.7 1391.2,969.9 1392.1,969.2 1393.0,969.4 1393.9,971.4 1394.8,970.3 1395.5,954.6 1396.0,954.6 1396.6,969.2 1397.5,969.5 1398.4,970.2 1399.3,970.0 1400.2,968.5 1400.9,963.3 1401.4,963.3 1402.0,968.4 1402.9,969.0 1403.8,966.7 1404.7,968.9 1405.6,968.8 1406.5,969.0 1407.2,958.6 1407.7,958.6 1408.3,969.2 1409.2,969.2 1410.1,970.8 1411.0,968.9 1411.9,965.1 1412.8,963.6 1413.7,970.4 1414.6,956.6 1415.5,953.0 1416.4,949.8 1417.3,954.9 1417.8,904.6 1418.7,904.6 1419.1,966.0 1420.0,970.0 1420.9,970.4 1421.8,970.7 1422.7,960.7 1423.6,961.4 1424.2,968.7 1424.8,968.7 1425.4,951.0 1426.3,949.9 1427.2,954.4 1427.9,940.1 1428.4,940.1 1429.0,952.9 1429.9,966.8 1430.8,970.1 1431.3,900.6 1432.2,900.6 1432.6,954.7 1433.5,961.5 1434.1,969.2 1434.7,969.2 1435.3,958.1 1436.2,953.3 1437.1,949.8 1438.0,951.1 1438.9,948.6 1439.8,957.6 1440.7,958.4 1441.4,955.1 1441.9,955.1 1442.5,968.2 1443.4,968.7 1444.3,969.7 1445.2,947.5 1445.9,938.9 1446.4,938.9 1446.7,969.7 1447.3,969.7 1447.7,939.6 1448.2,939.6 1448.5,969.6 1449.1,969.6 1449.7,963.5 1450.6,952.2 1451.3,921.6 1451.8,921.6 1452.4,941.6 1453.3,967.6 1454.2,965.8 1454.9,949.1 1455.4,949.1 1456.0,961.7 1456.9,953.1 1457.6,941.9 1458.1,941.9 1458.4,966.5 1459.0,966.5 1459.6,949.9 1460.5,953.1 1461.4,959.8 1462.3,964.6 1463.0,949.9 1463.5,949.9 1464.1,961.4 1465.0,959.2 1465.9,963.1 1466.6,938.5 1467.1,938.5 1467.4,967.6 1468.0,967.6 1468.4,941.0 1468.9,941.0 1469.2,961.5 1469.8,961.5 1470.2,947.1 1470.7,947.1 1471.0,968.0 1471.6,968.0 1472.0,926.5 1472.5,926.5 1472.8,969.7 1473.4,969.7 1474.0,950.5 1474.9,952.0 1475.8,950.2 1476.5,938.4 1477.0,938.4 1477.3,968.0 1477.9,968.0 1478.5,940.9 1479.4,930.5 1480.3,934.3 1481.2,940.9 1482.1,927.7 1483.0,932.2 1483.9,933.1 1484.8,940.7 1485.5,923.6 1486.0,923.6 1486.6,963.1 1487.5,969.0 1488.2,964.4 1488.7,964.4 1489.3,969.4 1490.0,937.1 1490.5,937.1 1491.1,953.9 1492.0,969.7 1492.9,964.2 1493.6,927.6 1494.1,927.6 1494.4,968.7 1495.0,968.7 1495.4,955.9 1495.9,955.9 1496.2,968.1 1496.8,968.1 1497.2,941.2 1497.7,941.2 1498.3,970.5 1499.2,969.0 1500.1,970.5 1501.0,954.9 1501.9,935.0 1502.8,940.7 1503.7,963.9 1504.6,960.8 1505.5,959.6 1506.4,962.4 1507.3,969.5 1508.2,968.6 1509.1,960.1 1509.8,953.7 1510.3,953.7 1510.6,965.5 1511.2,965.5 1511.6,954.5 1512.1,954.5 1512.4,968.7 1513.0,968.7 1513.4,953.2 1513.9,953.2 1514.5,958.2 1515.4,952.2 1516.3,955.3 1517.0,947.9 1517.5,947.9 1518.1,956.4 1518.7,969.5 1519.3,969.5 1519.9,952.2 1520.8,946.6 1521.3,901.6 1522.2,901.6 1522.6,954.0 1523.5,958.1 1524.4,961.1 1525.3,949.6 1526.2,953.4 1526.8,965.4 1527.4,965.4 1527.8,948.6 1528.3,948.6 1528.9,968.1 1529.8,967.4 1530.5,960.1 1531.0,960.1 1531.3,966.9 1531.9,966.9 1532.3,957.0 1532.8,957.0 1533.1,967.9 1533.7,967.9 1534.3,942.6 1535.2,946.1 1535.8,968.7 1536.4,968.7 1536.8,938.5 1537.3,938.5 1537.9,955.5 1538.8,958.3 1539.4,965.8 1540.0,965.8 1540.4,950.4 1540.9,950.4 1541.5,963.1 1542.1,970.2 1542.7,970.2 1543.1,958.3 1543.6,958.3 1544.2,964.4 1545.1,970.1 1546.0,969.7 1546.9,959.1 1547.6,951.9 1548.1,951.9 1548.7,962.5 1549.4,946.6 1549.9,946.6 1550.2,966.4 1550.8,966.4 1551.2,936.1 1551.7,936.1 1552.0,967.8 1552.6,967.8 1553.2,959.3 1553.9,954.7 1554.4,954.7 1554.7,964.3 1555.3,964.3 1555.7,943.9 1556.2,943.9 1556.5,968.6 1557.1,968.6 1557.7,942.9 1558.4,933.7 1558.9,933.7 1559.5,961.4 1560.4,963.2 1561.3,956.7 1562.2,943.6 1563.1,937.2 1564.0,949.9 1564.6,961.9 1565.2,961.9 1565.8,943.7 1566.7,935.8 1567.6,941.8 1568.2,967.6 1568.8,967.6 1569.2,946.7 1569.7,946.7 1570.3,959.3 1571.0,952.5 1571.5,952.5 1571.8,966.3 1572.4,966.3 1573.0,956.4 1573.7,951.7 1574.2,951.7 1574.8,958.8 1575.7,959.5 1576.6,952.6 1577.5,951.6 1578.4,956.3 1579.3,963.0 1580.2,954.1 1581.1,950.6 1581.7,970.0 1582.3,970.0 1582.9,950.9 1583.6,944.9 1584.1,944.9 1584.4,968.7 1585.0,968.7 1585.4,940.3 1585.9,940.3 1586.5,969.4 1587.4,967.9 1588.1,958.8 1588.6,958.8 1589.2,961.7 1590.1,969.0 1591.0,966.6 1591.9,964.8 1592.8,966.1 1593.7,965.6 1594.4,937.0 1594.9,937.0 1595.2,963.2 1595.8,963.2 1596.4,934.6 1597.3,939.1 1598.0,930.3 1598.5,930.3 1598.8,969.2 1599.4,969.2 1600.0,952.3 1600.9,950.4 1601.8,969.5 1602.0,971.6 Z" fill="#231F20" stroke="#231F20" stroke-width="0.8" stroke-linejoin="round"/>
<line x1="236.0" y1="971.9" x2="1602.0" y2="971.9" stroke="#231F20" stroke-width="1.7"/>
<path d="M236.5,1079.4 236.5,1078.4 237.4,1073.5 238.3,1075.3 239.2,1073.5 240.1,1075.8 240.8,1054.1 241.3,1054.1 241.9,1074.5 242.8,1073.8 243.7,1074.2 244.6,1075.8 245.5,1077.0 246.4,1075.4 247.1,1058.7 247.6,1058.7 248.2,1074.4 249.1,1075.5 250.0,1074.2 250.9,1077.5 251.8,1074.0 252.7,1076.9 253.4,1051.0 253.9,1051.0 254.5,1076.6 255.4,1076.0 256.3,1073.6 257.2,1074.6 258.1,1076.6 258.8,1052.0 259.3,1052.0 259.9,1073.5 260.8,1076.2 261.4,1048.1 261.9,1048.1 262.6,1075.2 263.5,1076.9 264.4,1076.4 265.3,1074.5 266.2,1065.5 266.8,1045.5 267.3,1045.5 268.0,1077.9 268.9,1074.4 269.8,1073.7 270.4,1057.9 270.9,1057.9 271.6,1075.5 272.5,1074.1 273.4,1077.4 274.3,1074.9 275.2,1074.2 276.1,1075.7 277.0,1077.0 277.6,1057.9 278.1,1057.9 278.8,1075.5 279.7,1076.5 280.6,1076.5 281.5,1074.4 282.4,1075.4 283.3,1076.0 283.9,1060.5 284.4,1060.5 285.1,1076.4 286.0,1077.4 286.9,1073.9 287.5,1066.8 288.0,1066.8 288.4,1074.9 289.0,1074.9 289.3,1055.2 289.8,1055.2 290.5,1077.1 291.4,1074.4 292.3,1077.6 293.2,1077.2 294.1,1076.9 294.7,1042.4 295.2,1042.4 295.9,1074.9 296.5,1069.8 297.0,1069.8 297.7,1074.0 298.3,1069.4 298.8,1069.4 299.5,1074.1 300.1,1048.5 300.6,1048.5 301.3,1074.0 302.2,1076.7 303.1,1076.6 303.7,1047.5 304.2,1047.5 304.9,1077.0 305.8,1076.9 306.7,1074.9 307.6,1077.7 308.2,1055.2 308.7,1055.2 309.4,1076.9 310.3,1073.4 311.2,1077.3 312.1,1075.3 313.0,1074.5 313.9,1075.1 314.5,1050.9 315.0,1050.9 315.7,1074.1 316.6,1076.5 317.5,1077.2 318.4,1075.1 319.3,1076.9 320.2,1075.4 321.1,1071.7 321.7,1042.7 322.2,1042.7 322.9,1074.0 323.8,1074.3 324.7,1073.6 325.3,1047.0 325.8,1047.0 326.5,1076.8 327.4,1075.9 328.3,1077.1 328.9,1053.5 329.4,1053.5 330.1,1076.9 331.0,1074.9 331.9,1073.8 332.8,1074.9 333.7,1074.6 334.6,1061.0 335.2,1053.1 335.7,1053.1 336.4,1066.8 337.0,1061.4 337.5,1061.4 338.2,1073.8 339.1,1077.4 339.7,1051.9 340.2,1051.9 340.9,1074.2 341.8,1074.0 342.7,1074.1 343.6,1076.1 344.2,1046.5 344.7,1046.5 345.4,1076.6 346.3,1073.9 347.2,1077.7 348.1,1076.3 349.0,1074.6 349.9,1076.2 350.5,1059.4 351.0,1059.4 351.7,1074.2 352.6,1077.2 353.5,1074.9 354.1,1068.6 354.6,1068.6 355.3,1073.9 356.2,1074.7 356.8,1046.1 357.3,1046.1 358.0,1075.9 358.9,1075.9 359.8,1072.6 360.7,1073.9 361.3,1051.4 361.8,1051.4 362.5,1073.7 363.4,1076.9 364.3,1076.0 365.2,1074.3 366.1,1074.6 366.7,1054.1 367.2,1054.1 367.9,1077.1 368.8,1076.9 369.4,1055.7 369.9,1055.7 370.6,1074.5 371.5,1076.1 372.4,1076.7 373.3,1074.8 374.2,1074.3 375.1,1076.8 375.7,1047.9 376.2,1047.9 376.9,1074.4 377.8,1075.3 378.7,1077.8 379.6,1073.6 380.5,1075.9 381.1,1059.5 381.6,1059.5 382.3,1076.3 383.2,1075.1 384.1,1075.6 384.7,1051.9 385.2,1051.9 385.9,1077.5 386.8,1075.9 387.7,1076.9 388.6,1075.5 389.5,1077.8 390.4,1077.7 391.3,1077.0 391.9,1057.2 392.4,1057.2 393.1,1073.9 394.0,1073.9 394.9,1073.8 395.8,1074.3 396.4,1059.8 396.9,1059.8 397.6,1077.4 398.5,1075.5 399.4,1073.7 400.3,1077.7 400.9,1044.7 401.4,1044.7 402.1,1074.3 403.0,1076.7 403.9,1077.3 404.5,1052.7 405.0,1052.7 405.7,1073.6 406.6,1077.2 407.5,1074.3 408.4,1074.2 409.3,1075.3 410.2,1076.9 411.1,1076.2 411.7,1047.6 412.2,1047.6 412.9,1077.3 413.8,1073.5 414.4,1044.7 414.9,1044.7 415.6,1077.5 416.5,1076.5 417.4,1073.5 418.0,1043.1 418.5,1043.1 419.2,1073.5 420.1,1074.2 420.7,1063.6 421.2,1063.6 421.9,1077.1 422.8,1075.4 423.7,1076.5 424.6,1075.5 425.2,1060.5 425.7,1060.5 426.4,1074.0 427.3,1076.4 427.9,1058.0 428.4,1058.0 429.1,1075.5 430.0,1075.9 430.9,1075.7 431.5,1044.4 432.0,1044.4 432.7,1073.5 433.6,1076.4 434.5,1074.0 435.4,1075.2 436.3,1077.7 437.2,1075.2 437.8,1050.5 438.3,1050.5 439.0,1074.6 439.9,1075.7 440.5,1039.4 441.0,1039.4 441.7,1076.0 442.6,1074.0 443.5,1075.6 444.1,1051.8 444.6,1051.8 445.3,1074.2 446.2,1074.0 447.1,1075.9 448.0,1076.6 448.6,1072.2 449.1,1072.2 449.8,1073.9 450.4,1047.0 450.9,1047.0 451.6,1075.0 452.5,1074.6 453.1,1039.4 453.6,1039.4 454.3,1077.8 455.2,1076.7 455.8,1057.9 456.3,1057.9 457.0,1077.5 457.9,1074.9 458.8,1077.3 459.7,1074.7 460.3,1044.2 460.8,1044.2 461.5,1075.4 462.4,1077.9 463.3,1074.3 464.2,1075.4 464.8,1050.1 465.3,1050.1 466.0,1077.7 466.9,1076.6 467.8,1077.8 468.4,1049.5 468.9,1049.5 469.6,1077.1 470.5,1074.3 471.4,1074.8 472.3,1075.0 472.9,1047.7 473.4,1047.7 474.1,1075.8 475.0,1074.2 475.9,1076.9 476.5,1051.6 477.0,1051.6 477.7,1077.9 478.6,1076.7 479.5,1077.9 480.4,1076.8 481.3,1075.1 482.2,1076.3 482.8,1048.8 483.3,1048.8 484.0,1076.0 484.9,1074.1 485.8,1077.6 486.4,1057.9 486.9,1057.9 487.6,1069.4 488.5,1076.1 489.4,1076.5 490.3,1075.1 490.9,1060.0 491.4,1060.0 492.1,1075.0 493.0,1077.6 493.9,1076.3 494.8,1075.1 495.4,1045.2 495.9,1045.2 496.6,1076.6 497.5,1074.6 498.4,1077.4 499.3,1077.7 500.2,1077.8 501.1,1073.6 502.0,1075.2 502.6,1045.4 503.1,1045.4 503.8,1077.5 504.7,1076.7 505.6,1077.1 506.2,1057.2 506.7,1057.2 507.4,1065.4 508.0,1059.8 508.5,1059.8 509.2,1077.5 510.1,1075.0 511.0,1076.2 511.9,1077.2 512.8,1074.8 513.7,1074.4 514.6,1076.6 515.2,1042.1 515.7,1042.1 516.4,1077.2 517.3,1076.5 518.2,1077.8 519.1,1076.3 520.0,1074.1 520.9,1077.2 521.5,1055.8 522.0,1055.8 522.7,1077.1 523.6,1074.7 524.5,1075.4 525.4,1077.3 526.3,1075.2 526.9,1056.6 527.4,1056.6 527.8,1076.2 528.4,1076.2 528.7,1037.4 529.2,1037.4 529.6,1075.0 530.2,1075.0 530.5,1048.6 531.0,1048.6 531.7,1077.1 532.6,1073.5 533.5,1074.3 534.4,1074.4 535.3,1075.0 536.2,1057.2 536.8,1043.1 537.3,1043.1 538.0,1074.1 538.9,1074.5 539.8,1074.9 540.7,1074.7 541.6,1076.4 542.2,1046.5 542.7,1046.5 543.4,1075.0 544.3,1074.8 545.2,1075.8 545.8,1045.9 546.3,1045.9 547.0,1076.2 547.9,1072.9 548.8,1073.7 549.7,1074.7 550.6,1075.8 551.2,1070.0 551.7,1070.0 552.4,1076.5 553.3,1076.3 554.2,1076.9 555.1,1073.9 556.0,1076.5 556.9,1076.9 557.8,1077.6 558.7,1076.4 559.3,1047.4 559.8,1047.4 560.5,1076.8 561.4,1077.9 562.3,1077.7 563.2,1078.2 563.6,993.4 564.5,993.4 565.0,1078.2 565.9,1077.9 566.8,1078.4 567.4,1071.9 567.9,1071.9 568.6,1074.5 569.5,1074.6 570.4,1074.2 571.3,1075.8 572.2,1074.7 572.8,1068.9 573.3,1068.9 574.0,1078.0 574.9,1074.5 575.8,1078.6 576.7,1073.5 577.6,1073.4 578.5,1074.3 579.4,1070.0 580.3,1067.9 580.9,1078.4 581.5,1078.4 581.8,1068.0 582.3,1068.0 583.0,1071.8 583.9,1070.4 584.5,1064.4 585.0,1064.4 585.4,1077.8 586.0,1077.8 586.3,1068.5 586.8,1068.5 587.2,1078.0 587.8,1078.0 588.4,1068.8 589.0,1062.0 589.5,1062.0 589.9,1077.2 590.5,1077.2 590.6,1011.1 591.5,1011.1 592.0,1043.4 592.6,1020.8 593.1,1020.8 593.5,1063.5 594.1,1063.5 594.2,971.4 595.1,971.4 595.6,1016.7 596.2,1066.5 596.8,1066.5 597.4,1027.9 597.8,1010.2 598.7,1010.2 599.2,1024.9 600.1,1037.1 601.0,1040.4 601.9,1053.7 602.3,971.4 603.2,971.4 603.4,1071.7 604.0,1071.7 604.6,1040.2 605.5,1039.6 605.9,1014.2 606.8,1014.2 607.3,1037.2 607.7,997.4 608.6,997.4 609.1,1032.4 609.5,1019.2 610.4,1019.2 610.9,1046.8 611.8,1039.9 612.4,1022.0 612.9,1022.0 613.6,1056.0 614.5,1069.3 615.4,1072.4 616.0,1061.5 616.5,1061.5 616.9,1078.4 617.5,1078.4 618.1,1056.1 619.0,1058.5 619.4,979.4 620.3,979.4 620.8,1054.2 621.7,1054.3 622.6,1060.1 623.2,1077.9 623.8,1077.9 624.4,1042.1 625.3,1040.3 626.2,1069.7 627.1,1072.5 628.0,1051.2 628.9,1025.4 629.3,983.4 630.2,983.4 630.7,1064.6 631.6,1068.6 632.5,1078.2 633.4,1078.5 634.3,1075.8 635.2,1076.1 636.1,1076.6 637.0,1076.1 637.9,1075.5 638.8,1075.0 639.7,1075.6 640.6,1077.5 641.5,1076.6 642.4,1076.8 643.3,1076.2 644.2,1076.7 645.1,1076.2 646.0,1076.8 646.9,1076.8 647.8,1075.2 648.7,1076.2 649.6,1077.4 650.5,1078.1 651.4,1077.8 652.3,1076.3 653.2,1076.6 654.1,1075.5 654.7,1057.4 655.2,1057.4 655.9,1077.1 656.8,1075.5 657.7,1076.7 658.6,1076.1 659.5,1077.1 660.4,1075.0 661.3,1075.6 662.2,1076.2 663.1,1076.0 664.0,1076.0 664.6,1059.4 665.1,1059.4 665.8,1078.0 666.7,1077.4 667.6,1077.3 668.5,1077.2 669.4,1077.0 670.3,1076.7 671.2,1076.9 672.1,1077.5 673.0,1077.4 673.9,1076.9 674.8,1076.5 675.7,1076.8 676.6,1077.1 677.5,1076.9 678.4,1077.2 679.3,1077.8 680.2,1077.9 681.1,1077.6 682.0,1059.4 682.9,1056.9 683.5,1034.9 684.0,1034.9 684.7,1053.0 685.3,1030.6 685.8,1030.6 686.5,1052.2 687.1,1045.0 687.6,1045.0 688.0,1064.7 688.6,1064.7 688.7,979.4 689.6,979.4 689.8,1058.5 690.4,1058.5 690.5,1006.9 691.4,1006.9 691.9,1067.9 692.8,1070.7 693.7,1057.5 694.3,1039.1 694.8,1039.1 695.2,1071.9 695.8,1071.9 696.4,1036.5 697.3,996.4 698.2,995.9 699.1,1014.8 700.0,1021.8 700.9,1014.6 701.8,1028.0 702.2,1006.4 703.1,1006.4 703.6,1032.7 704.5,1045.7 705.4,1041.7 706.3,1042.0 707.2,1011.4 708.1,1017.7 709.0,1046.4 709.6,1076.7 710.2,1076.7 710.5,1056.3 711.0,1056.3 711.7,1066.6 712.3,1074.9 712.9,1074.9 713.5,1056.8 714.1,1027.4 714.6,1027.4 715.0,1070.6 715.6,1070.6 716.2,1058.3 717.1,1056.1 718.0,1057.0 718.6,1037.4 719.1,1037.4 719.8,1073.9 720.7,1070.8 721.6,1072.3 722.5,1078.4 723.4,1078.6 724.3,1076.4 725.2,1077.5 726.1,1076.3 727.0,1076.2 727.9,1077.9 728.8,1078.4 729.7,1078.2 730.6,1077.5 731.5,1077.2 732.4,1076.6 733.3,1076.9 734.2,1076.6 735.1,1076.6 736.0,1075.9 736.9,1077.8 737.8,1076.2 738.7,1075.0 739.6,1075.8 740.2,1067.8 740.7,1067.8 741.1,1078.2 741.7,1078.2 742.0,1067.3 742.5,1067.3 742.9,1078.7 743.5,1078.7 743.8,1066.5 744.3,1066.5 745.0,1070.8 745.9,1068.8 746.5,1078.5 747.1,1078.5 747.4,1065.6 747.9,1065.6 748.6,1077.7 749.5,1078.2 750.4,1073.6 751.3,1073.9 752.2,1078.2 753.1,1074.6 754.0,1074.5 754.9,1071.8 755.8,1070.7 756.7,1073.9 757.3,1071.5 757.8,1071.5 758.5,1078.7 759.1,1071.5 759.6,1071.5 760.3,1074.6 761.2,1079.0 762.1,1074.7 762.7,1072.8 763.2,1072.8 763.9,1078.8 764.8,1073.4 765.7,1078.4 766.6,1077.0 767.5,1076.2 768.4,1077.4 769.0,1073.0 769.5,1073.0 770.2,1076.3 771.1,1075.3 772.0,1077.4 772.9,1077.5 773.5,1071.0 774.0,1071.0 774.7,1077.0 775.6,1075.5 776.5,1065.8 777.4,1056.7 778.3,1046.5 779.2,1014.7 780.1,1024.2 781.0,1024.7 781.9,1021.2 782.8,1014.5 783.7,1045.0 784.6,1046.8 785.5,1049.3 785.9,971.4 786.8,971.4 787.3,1050.0 788.2,1036.7 789.1,1031.1 790.0,1030.6 790.9,1023.3 791.8,1016.6 792.7,1038.4 793.3,1023.8 793.8,1023.8 794.5,1072.5 795.4,1072.2 796.3,1052.2 797.2,1049.4 798.1,1068.2 798.7,1075.8 799.3,1075.8 799.6,1052.6 800.1,1052.6 800.8,1066.1 801.7,1072.9 802.3,1061.1 802.8,1061.1 803.5,1072.6 804.4,1075.9 805.0,1064.6 805.5,1064.6 805.9,1076.1 806.5,1076.1 807.1,1041.9 807.5,985.4 808.4,985.4 808.9,1056.4 809.5,1048.6 810.0,1048.6 810.7,1064.7 811.6,1059.6 812.5,1053.6 813.4,1054.7 814.3,1058.1 815.2,1078.5 816.1,1078.5 817.0,1063.8 817.6,1047.5 818.1,1047.5 818.5,1077.6 819.1,1077.6 819.4,1066.8 819.9,1066.8 820.6,1074.3 821.5,1077.0 822.4,1077.8 823.3,1077.6 824.2,1076.5 825.1,1077.2 826.0,1076.9 826.9,1077.6 827.8,1076.4 828.7,1076.8 829.6,1074.7 830.5,1075.2 831.1,1072.8 831.6,1072.8 832.3,1076.8 832.9,1073.2 833.4,1073.2 834.1,1077.9 835.0,1077.1 835.6,1049.4 836.1,1049.4 836.5,1078.6 837.1,1078.6 837.4,1061.3 837.9,1061.3 838.6,1072.6 839.5,1073.2 840.4,1078.3 841.0,1072.5 841.5,1072.5 842.2,1074.2 843.1,1072.7 844.0,1072.2 844.9,1074.4 845.8,1071.6 846.7,1071.1 847.6,1071.3 848.5,1069.9 849.4,1074.5 850.0,1060.9 850.5,1060.9 851.2,1073.0 852.1,1077.0 852.7,1072.3 853.2,1072.3 853.9,1077.6 854.5,1071.2 855.0,1071.2 855.4,1077.1 856.0,1077.1 856.3,1070.0 856.8,1070.0 857.5,1077.0 858.4,1077.7 859.0,1071.3 859.5,1071.3 860.2,1073.5 861.1,1071.9 862.0,1070.2 862.6,1077.1 863.2,1077.1 863.5,1065.4 864.0,1065.4 864.7,1078.1 865.6,1078.7 866.5,1073.9 867.4,1079.2 868.3,1078.5 869.2,1077.6 870.1,1074.4 871.0,1058.6 871.9,1052.6 872.8,1007.3 873.7,1003.0 874.6,988.2 875.5,991.7 876.4,995.5 877.3,997.1 878.2,1013.1 878.8,1069.5 879.4,1069.5 879.5,1012.2 880.4,1012.2 880.9,1058.6 881.8,1048.2 882.7,1035.0 883.1,971.4 884.0,971.4 884.2,1074.7 884.8,1074.7 885.4,1030.3 885.8,971.4 886.7,971.4 887.2,1034.4 888.1,1030.9 889.0,1023.6 889.9,1033.4 890.8,1058.0 891.7,1066.2 892.6,1068.1 893.5,1026.6 894.4,1031.7 895.3,1048.5 896.2,1048.2 896.8,1068.3 897.4,1068.3 898.0,1050.8 898.9,1045.6 899.5,1076.4 900.1,1076.4 900.7,1033.6 901.6,1035.2 902.5,1033.2 903.4,1034.1 904.3,1027.2 905.2,1054.1 905.6,1013.4 906.5,1013.4 907.0,1039.1 907.6,1075.9 908.2,1075.9 908.5,1037.6 909.0,1037.6 909.7,1060.1 910.3,1044.6 910.8,1044.6 911.5,1052.6 912.4,1052.3 913.3,1067.9 914.2,1078.4 915.1,1078.9 916.0,1077.6 916.9,1074.6 917.8,1078.4 918.7,1078.7 919.6,1077.8 920.5,1072.1 921.4,1071.7 922.3,1072.8 923.2,1071.8 924.1,1074.2 925.0,1075.1 925.9,1078.5 926.5,1069.8 927.0,1069.8 927.7,1077.8 928.6,1074.5 929.5,1073.6 930.1,1067.4 930.6,1067.4 931.0,1076.5 931.6,1076.5 932.2,1070.8 933.1,1071.8 933.7,1034.4 934.2,1034.4 934.9,1070.6 935.5,1068.0 936.0,1068.0 936.4,1077.8 937.0,1077.8 937.3,1071.3 937.8,1071.3 938.2,1076.0 938.8,1076.0 939.4,1061.8 940.0,1057.1 940.5,1057.1 941.2,1076.5 942.1,1076.3 943.0,1077.1 943.6,1051.4 944.1,1051.4 944.8,1067.2 945.7,1075.7 946.6,1075.1 947.5,1077.3 948.4,1077.4 949.0,1069.3 949.5,1069.3 950.2,1079.0 951.1,1076.5 952.0,1078.0 952.9,1077.8 953.5,1054.4 954.0,1054.4 954.7,1070.9 955.6,1076.1 956.5,1077.7 957.4,1076.7 958.3,1076.6 959.2,1076.3 960.1,1070.1 961.0,1043.1 961.9,1043.4 962.3,1016.4 963.2,1016.4 963.7,1038.4 964.6,1003.4 965.5,1002.8 966.1,1071.7 966.7,1071.7 966.8,1003.3 967.7,1003.3 967.9,1075.8 968.5,1075.8 968.6,1017.9 969.5,1017.9 969.7,1076.1 970.3,1076.1 970.6,1036.6 971.1,1036.6 971.8,1047.6 972.4,1022.7 972.9,1022.7 973.6,1040.4 974.5,1019.5 975.4,1003.3 976.3,1004.4 977.2,1015.7 978.1,1015.1 979.0,1030.0 979.9,1040.0 980.8,1026.1 981.2,983.4 982.1,983.4 982.3,1071.2 982.9,1071.2 983.5,1021.3 984.4,1027.7 985.3,1046.3 986.2,1050.9 987.1,1028.1 988.0,1021.5 988.9,1045.1 989.8,1059.3 990.7,1054.2 991.3,1025.1 991.8,1025.1 992.5,1052.9 993.1,1025.0 993.6,1025.0 994.3,1041.6 995.2,1028.2 995.6,1003.4 996.5,1003.4 997.0,1046.7 997.6,1038.1 998.1,1038.1 998.8,1060.4 999.7,1064.7 1000.6,1078.1 1001.5,1076.2 1002.1,1073.1 1002.6,1073.1 1003.3,1077.5 1004.2,1078.6 1005.1,1077.8 1006.0,1078.2 1006.9,1075.1 1007.8,1077.9 1008.7,1077.9 1009.6,1077.3 1010.5,1077.0 1011.4,1076.8 1012.3,1075.6 1013.2,1072.6 1014.1,1071.1 1015.0,1070.5 1015.6,1064.6 1016.1,1064.6 1016.8,1078.2 1017.7,1072.3 1018.6,1072.4 1019.2,1069.0 1019.7,1069.0 1020.4,1072.2 1021.0,1068.3 1021.5,1068.3 1022.2,1070.5 1022.8,1067.0 1023.3,1067.0 1024.0,1071.0 1024.9,1066.5 1025.8,1068.7 1026.7,1066.4 1027.6,1076.2 1028.5,1073.1 1029.1,1062.7 1029.6,1062.7 1030.3,1073.7 1031.2,1072.6 1032.1,1072.0 1033.0,1071.0 1033.6,1077.3 1034.2,1077.3 1034.8,1070.5 1035.7,1068.5 1036.3,1063.7 1036.8,1063.7 1037.5,1072.8 1038.4,1077.9 1039.0,1070.9 1039.5,1070.9 1040.2,1078.4 1040.8,1072.8 1041.3,1072.8 1042.0,1078.0 1042.9,1078.3 1043.8,1078.3 1044.7,1077.0 1045.6,1078.3 1046.5,1077.2 1047.4,1077.9 1048.3,1075.8 1048.9,1067.7 1049.4,1067.7 1049.8,1076.0 1050.4,1076.0 1051.0,1049.7 1051.9,1054.2 1052.8,1028.7 1053.7,1022.7 1054.1,971.4 1055.0,971.4 1055.2,1065.8 1055.8,1065.8 1056.4,1034.6 1056.8,971.4 1057.7,971.4 1058.2,1037.3 1058.8,1025.1 1059.3,1025.1 1060.0,1044.8 1060.9,1036.5 1061.8,1033.5 1062.7,1027.0 1063.6,1049.2 1064.5,1039.0 1065.4,1045.6 1066.0,1031.0 1066.5,1031.0 1067.2,1051.2 1068.1,1048.5 1069.0,1054.2 1069.6,1040.7 1070.1,1040.7 1070.8,1054.5 1071.7,1040.6 1072.6,1033.7 1073.5,1042.9 1074.4,1041.2 1075.3,1060.2 1076.2,1056.9 1077.1,1049.3 1078.0,1040.2 1078.9,1048.0 1079.8,1058.2 1080.4,1075.2 1081.0,1075.2 1081.1,1014.4 1082.0,1014.4 1082.5,1045.4 1083.4,1070.0 1084.0,1077.3 1084.6,1077.3 1084.9,1043.2 1085.4,1043.2 1086.1,1061.4 1086.7,1073.2 1087.3,1073.2 1087.9,1046.0 1088.8,1048.1 1089.7,1069.9 1090.3,1062.4 1090.8,1062.4 1091.5,1066.6 1092.1,1037.4 1092.6,1037.4 1093.3,1077.8 1093.9,1072.6 1094.4,1072.6 1095.1,1074.7 1096.0,1077.7 1096.9,1078.2 1097.8,1077.5 1098.7,1076.8 1099.6,1077.2 1100.5,1077.7 1101.4,1078.2 1102.3,1076.7 1103.2,1077.7 1104.1,1077.1 1105.0,1074.6 1105.6,1062.6 1106.1,1062.6 1106.8,1075.6 1107.7,1078.3 1108.3,1070.1 1108.8,1070.1 1109.5,1077.0 1110.4,1075.3 1111.3,1078.5 1112.2,1060.4 1112.8,1037.4 1113.3,1037.4 1114.0,1071.7 1114.6,1066.9 1115.1,1066.9 1115.5,1078.4 1116.1,1078.4 1116.7,1068.1 1117.3,1064.7 1117.8,1064.7 1118.5,1076.7 1119.4,1075.9 1120.0,1066.9 1120.5,1066.9 1120.9,1076.7 1121.5,1076.7 1121.8,1065.3 1122.3,1065.3 1123.0,1073.2 1123.9,1074.8 1124.8,1078.4 1125.7,1069.9 1126.6,1070.0 1127.2,1058.5 1127.7,1058.5 1128.4,1071.8 1129.3,1068.5 1130.2,1069.9 1131.1,1077.0 1132.0,1077.1 1132.9,1078.6 1133.5,1070.6 1134.0,1070.6 1134.7,1077.6 1135.6,1078.1 1136.2,1072.1 1136.7,1072.1 1137.4,1074.9 1138.3,1076.9 1139.2,1078.8 1140.1,1077.9 1141.0,1076.7 1141.9,1065.5 1142.5,1059.3 1143.0,1059.3 1143.7,1067.5 1144.6,1035.3 1145.5,1013.9 1146.4,1019.3 1147.3,1004.4 1148.2,1013.7 1149.1,1044.0 1150.0,1024.0 1150.9,1029.1 1151.8,1021.0 1152.7,1048.2 1153.6,1042.2 1154.0,1009.4 1154.9,1009.4 1155.4,1033.2 1156.0,1072.7 1156.6,1072.7 1157.2,1051.4 1158.1,1039.4 1159.0,1013.4 1159.9,1026.3 1160.8,1047.3 1161.7,1046.3 1162.6,1038.4 1163.5,1049.2 1164.4,1051.8 1165.0,1077.0 1165.6,1077.0 1166.2,1069.1 1166.8,1042.0 1167.3,1042.0 1167.7,1070.8 1168.3,1070.8 1168.9,1043.7 1169.8,1049.1 1170.7,1073.2 1171.6,1071.0 1172.2,1043.4 1172.7,1043.4 1173.4,1058.7 1174.0,1048.3 1174.5,1048.3 1175.2,1056.4 1176.1,1068.8 1177.0,1070.2 1177.6,1042.9 1178.1,1042.9 1178.8,1058.7 1179.7,1061.1 1180.3,1041.0 1180.8,1041.0 1181.2,1071.8 1181.8,1071.8 1182.1,1048.8 1182.6,1048.8 1183.3,1060.7 1184.2,1061.5 1185.1,1072.6 1186.0,1077.2 1186.9,1077.0 1187.8,1077.8 1188.7,1077.1 1189.6,1076.1 1190.5,1076.2 1191.4,1076.7 1192.3,1077.8 1193.2,1076.8 1194.1,1071.1 1194.7,1061.4 1195.2,1061.4 1195.9,1071.4 1196.8,1070.3 1197.7,1069.7 1198.6,1075.2 1199.5,1077.9 1200.4,1076.4 1201.3,1076.1 1202.2,1079.1 1203.1,1077.3 1204.0,1071.6 1204.6,1062.1 1205.1,1062.1 1205.8,1073.4 1206.7,1071.7 1207.6,1073.2 1208.5,1071.1 1209.4,1069.6 1210.3,1073.7 1211.2,1071.9 1212.1,1071.7 1213.0,1072.7 1213.9,1078.8 1214.8,1074.8 1215.5,1046.4 1216.0,1046.4 1216.6,1076.1 1217.5,1076.6 1218.2,1068.1 1218.7,1068.1 1219.3,1076.2 1220.2,1078.6 1221.1,1071.5 1221.8,1068.7 1222.3,1068.7 1222.9,1073.3 1223.8,1073.8 1224.7,1074.9 1225.6,1076.3 1226.5,1076.7 1227.4,1076.4 1228.3,1077.7 1229.2,1078.2 1230.1,1078.0 1231.0,1077.8 1231.9,1078.7 1232.8,1072.0 1233.7,1043.0 1234.6,1044.5 1235.3,1024.6 1235.8,1024.6 1236.4,1056.2 1237.3,1057.7 1238.0,1029.3 1238.5,1029.3 1238.8,1073.2 1239.4,1073.2 1239.8,1044.9 1240.3,1044.9 1240.9,1054.8 1241.6,1026.6 1242.1,1026.6 1242.4,1063.4 1243.0,1063.4 1243.4,1036.5 1243.9,1036.5 1244.2,1062.2 1244.8,1062.2 1245.0,1000.4 1245.9,1000.4 1246.3,1019.7 1247.2,1048.9 1248.1,1032.7 1249.0,1028.1 1249.9,1019.7 1250.8,1047.9 1251.3,1004.4 1252.2,1004.4 1252.6,1048.1 1253.5,1027.8 1254.4,1025.4 1254.9,1010.0 1255.8,1010.0 1255.9,1072.6 1256.5,1072.6 1256.7,1018.9 1257.6,1018.9 1258.0,1032.4 1258.9,1026.6 1259.8,1042.4 1260.7,1042.5 1261.6,1032.2 1262.5,1037.8 1263.4,1035.2 1264.3,1039.4 1265.2,1040.8 1265.8,1070.7 1266.4,1070.7 1267.0,1036.4 1267.9,1034.8 1268.8,1042.8 1269.7,1042.6 1270.3,1072.6 1270.9,1072.6 1271.5,1058.0 1272.2,1045.3 1272.7,1045.3 1273.3,1052.7 1274.2,1056.9 1275.1,1072.4 1276.0,1078.2 1276.9,1075.9 1277.8,1075.4 1278.7,1076.1 1279.6,1075.7 1280.5,1076.0 1281.2,1072.7 1281.7,1072.7 1282.3,1076.9 1283.2,1077.1 1283.9,1071.8 1284.4,1071.8 1285.0,1077.4 1285.9,1078.7 1286.8,1076.0 1287.7,1078.5 1288.6,1075.6 1289.5,1077.1 1290.4,1074.3 1291.3,1070.4 1292.0,1067.5 1292.5,1067.5 1293.1,1073.1 1294.0,1078.2 1294.7,1072.7 1295.2,1072.7 1295.8,1074.2 1296.7,1078.4 1297.6,1077.2 1298.5,1074.8 1299.4,1073.7 1300.3,1079.0 1301.2,1074.2 1301.9,1072.8 1302.4,1072.8 1303.0,1078.4 1303.9,1075.1 1304.8,1074.2 1305.7,1072.3 1306.4,1070.0 1306.9,1070.0 1307.5,1078.1 1308.2,1071.8 1308.7,1071.8 1309.3,1078.9 1310.2,1077.5 1311.1,1077.7 1312.0,1078.2 1312.9,1076.6 1313.8,1077.7 1314.7,1076.5 1315.6,1077.5 1316.5,1076.4 1317.4,1077.3 1318.3,1068.1 1319.2,1069.0 1320.1,1069.8 1321.0,1032.6 1321.9,1018.2 1322.8,1024.9 1323.3,1008.9 1324.2,1008.9 1324.6,1025.2 1325.5,1041.4 1326.4,1024.0 1327.3,1027.2 1328.2,1033.6 1328.8,1071.8 1329.4,1071.8 1330.0,1034.9 1330.9,1024.6 1331.8,1042.2 1332.3,992.4 1333.2,992.4 1333.6,1054.7 1334.5,1057.2 1335.4,1061.1 1336.3,1059.5 1337.2,1044.1 1338.1,1044.7 1339.0,1029.0 1339.9,1035.1 1340.8,1036.9 1341.4,1075.2 1342.0,1075.2 1342.4,1057.8 1342.9,1057.8 1343.2,1077.7 1343.8,1077.7 1344.2,1043.7 1344.7,1043.7 1345.3,1051.2 1346.2,1053.8 1346.9,1030.8 1347.4,1030.8 1348.0,1040.6 1348.9,1037.5 1349.8,1015.9 1350.7,1014.9 1351.6,1032.5 1352.5,1036.8 1353.4,1013.9 1353.9,997.4 1354.8,997.4 1355.2,1049.5 1356.1,1050.5 1357.0,1061.7 1357.9,1058.2 1358.8,1065.8 1359.7,1069.7 1360.6,1077.7 1361.5,1078.1 1362.4,1078.7 1363.3,1072.7 1364.0,1032.4 1364.5,1032.4 1365.1,1078.0 1366.0,1076.7 1366.9,1077.0 1367.6,1050.0 1368.1,1050.0 1368.4,1076.6 1369.0,1076.6 1369.4,1070.6 1369.9,1070.6 1370.5,1072.7 1371.4,1079.0 1372.3,1076.8 1373.2,1077.2 1373.9,1072.1 1374.4,1072.1 1375.0,1078.4 1375.7,1070.6 1376.2,1070.6 1376.8,1077.8 1377.7,1075.2 1378.4,1044.4 1378.9,1044.4 1379.2,1077.6 1379.8,1077.6 1380.4,1068.7 1381.3,1070.1 1382.2,1078.7 1383.1,1074.4 1384.0,1070.0 1384.9,1071.2 1385.6,1033.4 1386.1,1033.4 1386.4,1076.1 1387.0,1076.1 1387.6,1070.4 1388.5,1068.8 1389.4,1069.7 1390.1,1063.9 1390.6,1063.9 1391.2,1067.4 1392.1,1072.2 1393.0,1078.9 1393.9,1078.8 1394.6,1047.4 1395.1,1047.4 1395.7,1068.3 1396.6,1077.9 1397.5,1078.8 1398.4,1076.6 1399.1,1070.9 1399.6,1070.9 1400.2,1072.8 1401.1,1076.6 1401.8,1069.6 1402.3,1069.6 1402.9,1073.6 1403.6,1057.4 1404.1,1057.4 1404.7,1073.8 1405.6,1075.3 1406.5,1070.1 1407.2,1063.7 1407.7,1063.7 1408.3,1077.4 1409.2,1077.2 1410.1,1068.5 1411.0,1065.4 1411.9,1043.6 1412.8,1044.4 1413.7,1038.4 1414.4,1024.0 1414.9,1024.0 1415.5,1051.0 1416.4,1035.6 1417.3,1038.5 1418.0,1021.5 1418.5,1021.5 1419.1,1042.3 1420.0,1052.1 1420.9,1035.2 1421.8,1015.3 1422.7,1024.6 1423.6,1007.8 1424.5,1018.5 1425.4,1004.3 1426.3,1038.3 1426.9,1071.6 1427.5,1071.6 1427.7,1009.1 1428.6,1009.1 1429.0,1032.7 1429.6,1065.8 1430.2,1065.8 1430.4,1004.4 1431.3,1004.4 1431.7,1048.2 1432.4,1020.2 1432.9,1020.2 1433.5,1035.4 1434.4,1037.1 1435.1,1022.1 1435.6,1022.1 1436.2,1040.7 1436.7,1004.4 1437.6,1004.4 1438.0,1042.2 1438.9,1051.3 1439.8,1055.8 1440.7,1056.3 1441.6,1063.5 1442.3,1054.9 1442.8,1054.9 1443.1,1070.2 1443.7,1070.2 1444.1,1024.0 1444.6,1024.0 1445.2,1068.2 1446.1,1057.2 1446.8,1039.8 1447.3,1039.8 1447.6,1077.6 1448.2,1077.6 1448.8,1063.0 1449.7,1065.0 1450.6,1069.7 1451.5,1078.2 1452.4,1072.4 1453.3,1052.2 1454.2,1055.1 1454.7,1009.4 1455.6,1009.4 1456.0,1042.4 1456.9,1058.2 1457.8,1053.7 1458.7,1058.3 1459.6,1041.9 1460.5,1045.8 1461.4,1040.1 1462.3,1055.4 1463.2,1042.5 1464.1,1046.1 1464.8,1035.4 1465.3,1035.4 1465.6,1071.6 1466.2,1071.6 1466.8,1042.7 1467.7,1047.9 1468.6,1048.0 1469.5,1059.7 1470.2,1048.8 1470.7,1048.8 1471.3,1070.7 1472.0,1060.5 1472.5,1060.5 1472.8,1076.2 1473.4,1076.2 1474.0,1058.6 1474.9,1048.1 1475.8,1046.4 1476.7,1042.0 1477.6,1045.4 1478.5,1047.6 1479.1,1075.9 1479.7,1075.9 1480.3,1051.9 1481.2,1042.1 1482.1,1046.7 1483.0,1056.4 1483.7,1041.7 1484.2,1041.7 1484.8,1056.7 1485.7,1062.8 1486.3,1073.5 1486.9,1073.5 1487.3,1059.3 1487.8,1059.3 1488.4,1066.3 1489.1,1057.8 1489.6,1057.8 1489.9,1071.6 1490.5,1071.6 1490.9,1054.6 1491.4,1054.6 1492.0,1063.3 1492.9,1052.5 1493.6,1041.4 1494.1,1041.4 1494.7,1058.9 1495.6,1054.7 1496.5,1064.0 1497.4,1061.9 1497.9,1016.4 1498.8,1016.4 1498.9,1074.0 1499.5,1074.0 1500.1,1061.3 1501.0,1058.9 1501.7,1050.3 1502.2,1050.3 1502.8,1074.0 1503.7,1078.1 1504.6,1071.8 1505.3,1061.0 1505.8,1061.0 1506.1,1078.5 1506.7,1078.5 1507.1,1053.1 1507.6,1053.1 1507.9,1076.7 1508.5,1076.7 1509.1,1058.9 1509.8,1049.0 1510.3,1049.0 1510.9,1056.9 1511.5,1076.3 1512.1,1076.3 1512.5,1037.0 1513.0,1037.0 1513.3,1076.1 1513.9,1076.1 1514.3,1045.9 1514.8,1045.9 1515.4,1067.6 1516.0,1075.5 1516.6,1075.5 1517.2,1053.0 1517.9,1046.1 1518.4,1046.1 1519.0,1074.4 1519.7,1071.6 1520.2,1071.6 1520.8,1074.5 1521.7,1056.9 1522.6,1060.8 1523.2,1078.0 1523.8,1078.0 1524.4,1059.9 1524.9,1018.4 1525.8,1018.4 1526.2,1068.8 1527.1,1064.7 1528.0,1066.2 1528.9,1062.9 1529.6,1047.7 1530.1,1047.7 1530.4,1069.8 1531.0,1069.8 1531.6,1052.6 1532.3,1037.6 1532.8,1037.6 1533.4,1051.2 1534.3,1051.5 1535.0,1039.4 1535.5,1039.4 1536.1,1064.1 1537.0,1057.1 1537.9,1060.5 1538.5,1074.3 1539.1,1074.3 1539.5,1053.5 1540.0,1053.5 1540.3,1072.3 1540.9,1072.3 1541.3,1051.0 1541.8,1051.0 1542.4,1065.5 1543.3,1052.4 1544.2,1056.6 1545.1,1063.9 1545.7,1074.9 1546.3,1074.9 1546.7,1065.9 1547.2,1065.9 1547.8,1076.0 1548.7,1077.5 1549.4,1065.9 1549.9,1065.9 1550.2,1076.7 1550.8,1076.7 1551.2,1039.4 1551.7,1039.4 1552.3,1068.9 1552.9,1076.5 1553.5,1076.5 1553.9,1060.0 1554.4,1060.0 1555.0,1070.7 1555.9,1069.4 1556.8,1068.4 1557.7,1070.2 1558.6,1074.7 1559.3,1069.7 1559.8,1069.7 1560.4,1073.0 1561.3,1076.2 1562.0,1059.8 1562.5,1059.8 1563.1,1065.2 1564.0,1069.4 1564.7,1039.4 1565.2,1039.4 1565.8,1065.1 1566.7,1066.3 1567.6,1077.6 1568.5,1074.6 1569.2,1044.9 1569.7,1044.9 1570.3,1060.7 1571.2,1063.6 1572.1,1067.1 1572.7,1077.3 1573.3,1077.3 1573.7,1069.8 1574.2,1069.8 1574.5,1077.1 1575.1,1077.1 1575.5,1049.4 1576.0,1049.4 1576.6,1062.4 1577.2,1075.6 1577.8,1075.6 1578.4,1064.5 1579.3,1062.3 1579.9,1075.9 1580.5,1075.9 1580.9,1068.4 1581.4,1068.4 1582.0,1071.7 1582.9,1078.6 1583.8,1078.8 1584.5,1053.2 1585.0,1053.2 1585.6,1075.5 1586.5,1075.1 1587.4,1068.9 1588.1,1049.4 1588.6,1049.4 1589.2,1061.0 1589.9,1049.6 1590.4,1049.6 1591.0,1069.9 1591.9,1067.7 1592.8,1075.2 1593.7,1070.8 1594.6,1071.3 1595.3,1051.2 1595.8,1051.2 1596.1,1069.6 1596.7,1069.6 1597.1,1052.4 1597.6,1052.4 1598.2,1078.3 1599.1,1072.4 1599.8,1067.7 1600.3,1067.7 1600.9,1076.6 1601.8,1076.1 1602.0,1079.4 Z" fill="#231F20" stroke="#231F20" stroke-width="0.8" stroke-linejoin="round"/>
<line x1="236.0" y1="1079.7" x2="1602.0" y2="1079.7" stroke="#231F20" stroke-width="1.7"/>
<path d="M236.5,1188.5 236.5,1187.8 237.4,1186.7 238.3,1187.1 239.2,1185.3 240.1,1186.9 241.0,1186.5 241.9,1185.6 242.8,1183.5 243.7,1186.9 244.4,1165.3 244.9,1165.3 245.5,1186.8 246.4,1183.5 247.3,1186.4 248.2,1185.8 249.1,1187.1 250.0,1183.5 250.7,1166.2 251.2,1166.2 251.8,1184.0 252.7,1185.0 253.6,1184.3 254.5,1183.7 255.4,1183.8 256.3,1186.9 257.2,1186.3 258.1,1184.5 259.0,1184.0 259.9,1186.2 260.8,1186.9 261.4,1159.8 261.9,1159.8 262.6,1183.5 263.5,1184.5 264.4,1185.6 265.3,1183.9 266.2,1183.5 267.1,1184.3 268.0,1185.7 268.9,1185.0 269.8,1184.6 270.7,1187.0 271.3,1162.7 271.8,1162.7 272.5,1184.7 273.4,1183.4 274.3,1183.5 275.2,1185.4 276.1,1173.3 276.7,1159.9 277.2,1159.9 277.9,1187.0 278.8,1183.5 279.7,1184.6 280.6,1185.7 281.5,1185.1 282.4,1186.4 283.0,1162.8 283.5,1162.8 284.2,1184.8 285.1,1185.8 286.0,1184.1 286.9,1186.6 287.8,1185.4 288.7,1185.3 289.6,1187.1 290.5,1184.7 291.4,1184.4 292.3,1183.5 292.9,1166.2 293.4,1166.2 294.1,1185.4 294.7,1182.2 295.2,1182.2 295.9,1184.8 296.8,1185.4 297.7,1186.0 298.6,1186.1 299.5,1187.1 300.4,1186.4 301.3,1185.2 302.2,1182.7 303.1,1185.0 304.0,1184.8 304.6,1163.7 305.1,1163.7 305.8,1186.0 306.7,1186.8 307.6,1185.2 308.5,1185.6 309.4,1186.7 310.3,1183.3 311.2,1184.2 311.8,1169.9 312.3,1169.9 313.0,1183.7 313.9,1184.1 314.8,1184.0 315.7,1186.7 316.3,1157.6 316.8,1157.6 317.5,1186.9 318.4,1186.1 319.3,1183.3 320.2,1185.2 321.1,1186.4 322.0,1184.0 322.9,1183.2 323.8,1185.3 324.7,1187.1 325.3,1161.7 325.8,1161.7 326.5,1173.4 327.4,1186.6 328.3,1183.3 329.2,1184.9 330.1,1187.0 331.0,1186.7 331.9,1184.9 332.8,1184.6 333.7,1185.5 334.6,1184.5 335.5,1186.5 336.4,1183.3 337.0,1157.0 337.5,1157.0 338.2,1187.1 339.1,1185.9 340.0,1183.7 340.9,1185.6 341.8,1186.6 342.7,1183.0 343.6,1186.2 344.5,1177.0 345.4,1173.4 346.0,1158.0 346.5,1158.0 347.2,1185.7 348.1,1183.4 349.0,1186.1 349.9,1186.2 350.5,1169.5 351.0,1169.5 351.7,1185.8 352.6,1186.1 353.2,1177.4 353.7,1177.4 354.4,1183.0 355.3,1187.0 356.2,1185.2 357.1,1186.6 358.0,1185.9 358.6,1170.0 359.1,1170.0 359.8,1185.3 360.7,1183.7 361.6,1184.9 362.5,1186.2 363.4,1185.4 364.3,1186.2 365.2,1183.1 366.1,1185.1 366.7,1178.4 367.2,1178.4 367.6,1184.6 368.2,1184.6 368.5,1167.0 369.0,1167.0 369.7,1186.5 370.6,1186.0 371.5,1184.2 372.4,1184.3 373.3,1187.0 374.2,1184.6 374.8,1166.8 375.3,1166.8 376.0,1183.0 376.9,1186.7 377.8,1183.2 378.7,1185.5 379.6,1184.6 380.2,1173.0 380.7,1173.0 381.1,1186.7 381.7,1186.7 382.0,1171.9 382.5,1171.9 383.2,1186.9 384.1,1185.7 384.7,1167.5 385.2,1167.5 385.9,1183.5 386.8,1183.9 387.7,1183.3 388.6,1185.8 389.5,1184.7 390.4,1184.6 391.3,1184.0 392.2,1183.1 393.1,1184.4 393.7,1165.2 394.2,1165.2 394.9,1186.6 395.8,1186.9 396.7,1185.0 397.6,1185.4 398.5,1183.3 399.4,1184.5 400.3,1183.8 401.2,1186.0 402.1,1183.5 403.0,1183.7 403.9,1186.8 404.5,1170.3 405.0,1170.3 405.7,1186.5 406.6,1185.3 407.5,1182.8 408.4,1183.7 409.3,1183.9 409.9,1163.1 410.4,1163.1 411.1,1186.9 412.0,1183.7 412.9,1183.0 413.8,1185.0 414.7,1186.0 415.3,1158.6 415.8,1158.6 416.5,1182.8 417.4,1185.6 418.0,1178.2 418.5,1178.2 419.2,1185.9 420.1,1184.1 421.0,1185.5 421.9,1183.2 422.8,1182.6 423.7,1185.9 424.3,1157.9 424.8,1157.9 425.5,1182.8 426.4,1185.6 427.3,1185.6 428.2,1183.2 429.1,1183.9 430.0,1182.6 430.9,1183.5 431.5,1171.1 432.0,1171.1 432.7,1186.7 433.6,1185.6 434.5,1183.7 435.4,1183.4 436.0,1162.5 436.5,1162.5 437.2,1183.9 438.1,1184.9 439.0,1183.6 439.9,1186.3 440.8,1185.8 441.7,1185.6 442.3,1161.2 442.8,1161.2 443.5,1186.9 444.4,1184.2 445.3,1183.5 446.2,1183.0 447.1,1184.0 447.7,1173.7 448.2,1173.7 448.9,1185.1 449.8,1185.7 450.7,1185.1 451.6,1186.3 452.5,1182.6 453.1,1158.5 453.6,1158.5 454.3,1182.6 455.2,1186.3 456.1,1182.8 457.0,1182.4 457.9,1186.0 458.8,1186.2 459.7,1186.4 460.6,1183.2 461.5,1169.9 462.1,1160.3 462.6,1160.3 463.3,1185.5 464.2,1186.5 465.1,1186.3 466.0,1183.3 466.9,1184.7 467.8,1183.4 468.7,1185.0 469.3,1168.0 469.8,1168.0 470.5,1182.3 471.4,1183.7 472.3,1182.6 473.2,1183.2 473.8,1164.9 474.3,1164.9 475.0,1185.0 475.9,1186.0 476.5,1181.8 477.0,1181.8 477.7,1185.4 478.6,1186.7 479.2,1162.6 479.7,1162.6 480.4,1186.5 481.0,1182.2 481.5,1182.2 482.2,1185.6 483.1,1183.0 484.0,1181.7 484.9,1184.4 485.5,1182.3 486.0,1182.3 486.7,1184.3 487.3,1168.6 487.8,1168.6 488.5,1183.1 489.4,1184.0 490.3,1185.2 490.9,1182.2 491.4,1182.2 492.1,1186.1 493.0,1182.8 493.9,1182.4 494.8,1186.1 495.7,1186.1 496.6,1181.9 497.5,1181.6 498.1,1168.4 498.6,1168.4 499.3,1182.5 500.2,1183.6 501.1,1186.5 502.0,1186.2 502.9,1181.4 503.8,1181.3 504.7,1181.5 505.6,1184.8 506.5,1183.0 507.1,1160.2 507.6,1160.2 508.3,1185.0 509.2,1183.4 510.1,1185.2 511.0,1186.3 511.6,1181.8 512.1,1181.8 512.8,1183.7 513.7,1182.6 514.3,1133.5 514.8,1133.5 515.5,1185.7 516.4,1184.0 517.3,1183.1 518.2,1181.9 518.8,1162.2 519.3,1162.2 520.0,1181.6 520.9,1184.6 521.8,1182.7 522.7,1182.7 523.6,1186.3 524.2,1181.9 524.7,1181.9 525.4,1183.2 526.3,1185.2 526.9,1182.2 527.4,1182.2 528.1,1185.3 529.0,1182.4 529.9,1182.3 530.8,1182.3 531.7,1179.7 532.3,1164.7 532.8,1164.7 533.5,1185.7 534.1,1182.1 534.6,1182.1 535.3,1186.4 536.2,1183.8 536.8,1181.9 537.3,1181.9 538.0,1183.8 538.9,1185.7 539.8,1185.3 540.4,1163.7 540.9,1163.7 541.6,1182.5 542.2,1177.5 542.7,1177.5 543.4,1186.0 544.3,1185.2 545.2,1184.4 546.1,1185.9 547.0,1181.1 547.9,1181.4 548.8,1182.6 549.7,1182.2 550.3,1158.6 550.8,1158.6 551.5,1181.7 552.4,1181.8 553.3,1180.7 554.2,1182.4 555.1,1184.0 555.7,1166.5 556.2,1166.5 556.9,1187.3 557.8,1187.9 558.7,1187.4 559.6,1188.2 560.5,1186.3 561.4,1187.0 562.3,1187.1 563.2,1186.9 564.1,1187.0 565.0,1187.7 565.9,1187.6 566.8,1187.6 567.7,1187.5 568.6,1187.4 569.5,1187.3 570.4,1187.2 571.3,1186.4 572.2,1187.0 573.1,1186.9 574.0,1185.9 574.9,1188.4 575.8,1186.1 576.7,1186.6 577.6,1186.7 578.5,1186.8 579.4,1186.2 580.3,1187.4 581.2,1187.4 582.1,1187.2 583.0,1187.3 583.9,1186.9 584.8,1186.8 585.7,1186.3 586.6,1187.0 587.5,1187.1 588.4,1186.9 589.3,1186.8 590.2,1183.2 591.1,1169.2 591.7,1161.6 592.2,1161.6 592.9,1168.8 593.8,1172.7 594.4,1164.6 594.9,1164.6 595.6,1171.9 596.5,1159.3 597.4,1142.9 598.3,1138.5 599.2,1136.0 600.1,1139.7 601.0,1153.5 601.9,1144.4 602.8,1139.4 603.4,1181.3 604.0,1181.3 604.3,1140.8 604.8,1140.8 605.5,1172.2 606.4,1175.6 607.3,1172.8 607.7,1122.5 608.6,1122.5 608.8,1170.2 609.4,1170.2 609.5,1122.5 610.4,1122.5 610.6,1179.5 611.2,1179.5 611.8,1165.9 612.7,1162.0 613.6,1161.6 614.5,1160.3 615.4,1173.6 616.3,1173.4 617.2,1173.8 618.1,1178.0 619.0,1176.3 619.4,1127.5 620.3,1127.5 620.8,1162.2 621.7,1162.6 622.6,1176.3 623.5,1182.3 624.4,1181.2 625.3,1175.7 626.2,1174.8 626.8,1150.5 627.3,1150.5 628.0,1163.6 628.9,1178.1 629.8,1178.6 630.7,1184.5 631.6,1184.8 632.5,1173.1 633.4,1176.0 634.3,1178.3 634.9,1184.0 635.5,1184.0 635.8,1175.4 636.3,1175.4 637.0,1180.6 637.9,1186.6 638.8,1186.9 639.7,1186.9 640.6,1185.5 641.5,1186.4 642.4,1185.9 643.3,1185.7 644.2,1185.9 645.1,1185.8 646.0,1187.2 646.9,1188.1 647.8,1185.7 648.7,1185.4 649.6,1185.4 650.5,1185.4 651.4,1186.7 652.3,1186.6 653.2,1186.9 654.1,1187.2 655.0,1187.2 655.6,1170.5 656.1,1170.5 656.8,1186.7 657.7,1186.8 658.6,1187.2 659.5,1187.2 660.4,1185.8 661.3,1186.7 662.2,1187.3 663.1,1186.9 664.0,1186.3 664.9,1187.4 665.8,1187.0 666.7,1185.7 667.6,1185.4 668.5,1186.2 669.4,1185.0 670.3,1186.8 671.2,1186.9 672.1,1187.0 673.0,1186.0 673.9,1185.5 674.8,1185.4 675.7,1185.3 676.6,1186.2 677.5,1172.6 678.4,1171.5 679.3,1162.6 679.9,1152.0 680.4,1152.0 681.1,1179.8 682.0,1173.2 682.9,1172.4 683.8,1178.1 684.7,1181.4 685.6,1178.7 686.5,1165.7 687.4,1165.1 688.3,1144.9 689.2,1145.8 690.1,1135.3 691.0,1159.4 691.9,1164.3 692.3,1106.5 693.2,1106.5 693.7,1163.9 694.6,1135.6 695.5,1143.1 696.4,1150.7 697.3,1146.5 698.2,1141.9 699.1,1159.7 699.5,1110.5 700.4,1110.5 700.9,1144.8 701.8,1160.3 702.7,1154.5 703.6,1154.7 704.5,1148.9 705.4,1143.8 705.8,1113.5 706.7,1113.5 707.2,1146.2 708.1,1135.7 709.0,1143.6 709.9,1140.9 710.8,1156.3 711.7,1156.5 712.6,1159.6 713.0,1095.5 713.9,1095.5 714.4,1159.7 715.0,1187.1 715.6,1187.1 715.9,1160.0 716.4,1160.0 717.1,1166.4 718.0,1171.7 718.6,1181.6 719.2,1181.6 719.8,1166.5 720.4,1153.6 720.9,1153.6 721.6,1181.6 722.5,1175.3 723.1,1148.5 723.6,1148.5 724.3,1184.3 725.2,1187.3 726.1,1186.4 727.0,1186.4 727.9,1186.8 728.8,1187.5 729.7,1186.8 730.6,1186.9 731.5,1186.7 732.4,1187.0 733.3,1186.5 734.2,1187.0 735.1,1186.7 736.0,1183.2 736.9,1186.0 737.8,1186.6 738.7,1186.3 739.6,1185.8 740.5,1186.5 741.4,1187.0 742.3,1185.8 743.2,1185.7 744.1,1186.3 745.0,1187.8 745.9,1187.2 746.8,1187.4 747.7,1187.4 748.6,1187.3 749.5,1187.3 750.4,1187.5 751.3,1187.4 752.2,1186.9 753.1,1187.4 754.0,1186.9 754.9,1187.3 755.8,1187.0 756.7,1187.2 757.6,1187.2 758.5,1187.0 759.4,1187.3 760.0,1175.5 760.5,1175.5 761.2,1186.3 762.1,1186.6 763.0,1185.5 763.9,1184.9 764.8,1188.2 765.7,1187.2 766.6,1187.0 767.5,1187.6 768.4,1186.6 769.0,1182.2 769.5,1182.2 770.2,1185.7 771.1,1183.8 772.0,1186.5 772.6,1173.7 773.1,1173.7 773.8,1181.1 774.7,1179.1 775.6,1178.9 776.2,1186.4 776.8,1186.4 777.1,1154.5 777.6,1154.5 778.3,1164.6 779.2,1164.0 780.1,1139.6 781.0,1143.9 781.9,1133.0 782.8,1150.0 783.7,1151.5 784.3,1132.2 784.8,1132.2 785.5,1154.7 785.9,1115.5 786.8,1115.5 787.3,1159.6 788.2,1158.4 789.1,1181.4 790.0,1176.0 790.6,1145.2 791.1,1145.2 791.5,1178.4 792.1,1178.4 792.4,1158.1 792.9,1158.1 793.3,1181.5 793.9,1181.5 794.5,1151.9 795.1,1141.7 795.6,1141.7 796.3,1153.5 797.2,1145.9 798.1,1140.5 799.0,1138.8 799.9,1130.8 800.8,1137.5 801.4,1178.9 802.0,1178.9 802.6,1147.3 803.5,1151.4 804.1,1183.9 804.7,1183.9 805.3,1149.2 805.9,1133.5 806.4,1133.5 807.1,1152.8 808.0,1162.7 808.9,1146.9 809.8,1154.8 810.7,1150.0 811.6,1159.9 812.5,1172.4 813.1,1161.0 813.6,1161.0 814.3,1168.7 815.2,1176.4 816.1,1175.8 816.7,1172.0 817.2,1172.0 817.9,1181.1 818.8,1182.9 819.7,1186.5 820.6,1186.5 821.5,1187.2 822.4,1186.7 823.3,1187.3 824.2,1187.6 825.1,1187.2 826.0,1187.5 826.9,1186.6 827.8,1187.4 828.7,1182.6 829.6,1187.1 830.5,1187.1 831.4,1187.5 832.3,1187.8 833.2,1187.0 834.1,1185.8 835.0,1186.5 835.9,1186.9 836.8,1186.8 837.7,1186.1 838.3,1172.5 838.8,1172.5 839.5,1187.3 840.4,1187.4 841.3,1187.1 842.2,1187.2 843.1,1187.4 844.0,1187.6 844.9,1187.7 845.8,1187.5 846.7,1185.6 847.3,1173.5 847.8,1173.5 848.5,1187.2 849.4,1186.8 850.3,1186.5 851.2,1186.3 852.1,1187.0 853.0,1187.1 853.9,1186.9 854.8,1187.6 855.4,1180.5 855.9,1180.5 856.6,1187.2 857.5,1187.0 858.4,1187.5 859.3,1184.7 860.2,1186.7 861.1,1187.6 862.0,1187.1 862.9,1186.9 863.8,1187.0 864.7,1172.7 865.6,1159.8 866.5,1155.0 867.4,1151.8 868.3,1162.2 868.9,1180.9 869.5,1180.9 870.1,1136.9 871.0,1130.9 871.6,1183.1 872.2,1183.1 872.8,1157.6 873.7,1161.7 874.6,1173.4 875.2,1166.0 875.7,1166.0 876.1,1182.3 876.7,1182.3 877.3,1166.0 877.7,1125.5 878.6,1125.5 878.8,1179.0 879.4,1179.0 880.0,1162.4 880.6,1145.1 881.1,1145.1 881.8,1179.1 882.4,1169.0 882.9,1169.0 883.6,1174.8 884.2,1128.5 884.7,1128.5 885.1,1187.0 885.7,1187.0 886.3,1168.3 887.2,1155.7 888.1,1160.6 888.5,1106.5 889.4,1106.5 889.9,1135.1 890.8,1108.5 891.7,1119.1 892.6,1138.0 893.5,1164.4 894.1,1149.3 894.6,1149.3 895.0,1186.2 895.6,1186.2 895.9,1131.5 896.4,1131.5 897.1,1170.6 898.0,1174.5 898.6,1160.2 899.1,1160.2 899.8,1172.2 900.4,1158.4 900.9,1158.4 901.3,1176.9 901.9,1176.9 902.5,1160.1 903.4,1165.3 904.0,1179.9 904.6,1179.9 904.9,1162.7 905.4,1162.7 905.8,1187.5 906.4,1187.5 907.0,1170.7 907.6,1161.1 908.1,1161.1 908.8,1168.7 909.7,1163.8 910.6,1177.1 911.5,1186.9 912.4,1187.4 913.3,1186.4 914.2,1186.3 915.1,1186.0 916.0,1185.8 916.9,1186.6 917.8,1186.0 918.7,1185.3 919.6,1185.2 920.5,1186.4 921.4,1185.9 922.3,1186.3 923.2,1186.7 924.1,1183.6 925.0,1185.0 925.9,1186.0 926.8,1185.7 927.7,1186.1 928.6,1187.2 929.5,1186.2 930.4,1187.1 931.3,1186.0 931.9,1178.5 932.4,1178.5 933.1,1186.2 934.0,1186.9 934.9,1187.6 935.8,1187.7 936.7,1186.2 937.6,1187.2 938.5,1186.3 939.4,1187.6 940.3,1185.9 941.2,1187.4 942.1,1185.8 943.0,1186.8 943.9,1186.9 944.8,1187.1 945.7,1186.4 946.6,1187.2 947.5,1186.0 948.4,1185.9 949.3,1186.8 950.2,1184.5 951.1,1186.0 952.0,1187.2 952.9,1186.9 953.8,1187.0 954.7,1187.1 955.6,1186.5 956.5,1187.0 957.1,1179.1 957.6,1179.1 958.3,1183.9 959.2,1155.8 960.1,1157.0 961.0,1169.0 961.6,1139.9 962.1,1139.9 962.8,1164.7 963.4,1146.7 963.9,1146.7 964.6,1168.6 965.2,1155.2 965.7,1155.2 966.4,1172.4 967.0,1138.3 967.5,1138.3 968.2,1159.3 968.8,1141.0 969.3,1141.0 970.0,1160.0 970.6,1131.5 971.1,1131.5 971.8,1168.0 972.7,1161.8 973.6,1165.1 974.5,1176.7 975.4,1151.6 975.8,1080.5 976.7,1080.5 977.2,1162.7 978.1,1157.5 979.0,1159.9 979.6,1133.5 980.1,1133.5 980.5,1186.1 981.1,1186.1 981.7,1153.4 982.6,1150.9 983.5,1177.3 984.4,1177.1 984.8,1114.5 985.7,1114.5 986.2,1132.6 987.1,1166.1 987.7,1155.7 988.2,1155.7 988.9,1179.4 989.8,1187.3 990.7,1187.2 991.6,1169.1 992.5,1147.3 993.4,1148.9 994.3,1135.8 995.2,1131.5 996.1,1135.9 997.0,1158.7 997.9,1151.4 998.8,1171.4 999.4,1153.6 999.9,1153.6 1000.6,1161.0 1001.5,1158.7 1002.4,1159.0 1003.0,1131.5 1003.5,1131.5 1004.2,1184.7 1005.1,1186.4 1006.0,1186.8 1006.9,1186.5 1007.8,1182.8 1008.7,1186.3 1009.6,1185.2 1010.5,1186.5 1011.4,1186.3 1012.3,1185.5 1013.2,1186.0 1014.1,1186.6 1015.0,1185.0 1015.9,1186.4 1016.8,1186.4 1017.7,1186.2 1018.6,1186.6 1019.5,1187.0 1020.4,1186.4 1021.3,1186.9 1021.9,1178.5 1022.4,1178.5 1023.1,1186.6 1024.0,1186.8 1024.9,1186.7 1025.8,1185.5 1026.7,1186.4 1027.6,1187.4 1028.5,1186.9 1029.4,1184.3 1030.3,1187.4 1031.2,1187.0 1032.1,1186.8 1033.0,1187.2 1033.9,1186.5 1034.8,1187.1 1035.7,1187.4 1036.6,1187.9 1037.5,1187.7 1038.4,1187.0 1039.3,1187.9 1040.2,1187.3 1041.1,1187.7 1042.0,1187.1 1042.9,1186.7 1043.8,1187.0 1044.7,1186.9 1045.6,1186.7 1046.5,1187.6 1047.4,1186.6 1048.3,1184.3 1049.2,1163.4 1050.1,1165.0 1050.7,1145.7 1051.2,1145.7 1051.9,1165.3 1052.8,1172.2 1053.7,1174.3 1054.3,1187.3 1054.9,1187.3 1055.2,1172.4 1055.7,1172.4 1056.1,1182.6 1056.7,1182.6 1057.0,1152.5 1057.5,1152.5 1058.2,1162.8 1059.1,1157.7 1060.0,1158.0 1060.6,1180.7 1061.2,1180.7 1061.8,1143.5 1062.7,1142.6 1063.6,1131.0 1064.5,1128.5 1065.4,1151.8 1066.3,1116.5 1067.2,1129.7 1068.1,1149.9 1069.0,1152.5 1069.9,1163.6 1070.8,1163.9 1071.7,1168.8 1072.6,1169.0 1073.5,1165.1 1074.4,1178.7 1075.3,1168.4 1075.9,1128.5 1076.4,1128.5 1076.8,1184.1 1077.4,1184.1 1078.0,1173.5 1078.6,1166.0 1079.1,1166.0 1079.8,1173.3 1080.4,1128.5 1080.9,1128.5 1081.6,1175.5 1082.2,1167.9 1082.7,1167.9 1083.1,1182.5 1083.7,1182.5 1084.3,1172.8 1085.2,1175.0 1085.6,1118.5 1086.5,1118.5 1086.7,1166.7 1087.3,1166.7 1087.9,1138.3 1088.8,1146.3 1089.7,1148.2 1090.6,1157.9 1091.5,1169.1 1092.4,1188.2 1093.3,1186.3 1094.2,1186.9 1095.1,1185.5 1096.0,1186.2 1096.9,1186.0 1097.8,1188.3 1098.7,1186.7 1099.6,1186.2 1100.5,1186.9 1101.4,1186.3 1102.3,1185.8 1103.2,1186.9 1104.1,1186.5 1105.0,1187.1 1105.9,1186.3 1106.8,1186.7 1107.7,1186.3 1108.6,1186.0 1109.5,1185.5 1110.4,1184.5 1111.3,1185.7 1111.9,1144.5 1112.4,1144.5 1113.1,1186.6 1114.0,1186.3 1114.9,1186.1 1115.8,1185.1 1116.7,1188.0 1117.6,1187.0 1118.5,1183.1 1119.4,1187.1 1120.3,1185.7 1121.2,1186.2 1122.1,1184.9 1123.0,1187.3 1123.9,1185.3 1124.8,1184.5 1125.7,1184.4 1126.6,1187.8 1127.5,1184.9 1128.1,1178.9 1128.6,1178.9 1129.0,1187.1 1129.6,1187.1 1129.9,1175.2 1130.4,1175.2 1131.1,1188.0 1132.0,1187.9 1132.9,1187.6 1133.5,1181.9 1134.0,1181.9 1134.7,1187.6 1135.6,1187.3 1136.5,1187.7 1137.4,1183.9 1138.0,1164.4 1138.5,1164.4 1139.2,1171.0 1140.1,1151.6 1141.0,1153.3 1141.9,1161.5 1142.8,1164.5 1143.7,1167.1 1144.6,1157.8 1145.5,1158.7 1146.4,1159.5 1147.3,1167.3 1148.2,1170.7 1149.1,1150.0 1150.0,1146.4 1150.6,1178.8 1151.2,1178.8 1151.5,1155.1 1152.0,1155.1 1152.7,1171.1 1153.3,1163.3 1153.8,1163.3 1154.5,1174.3 1155.4,1171.2 1156.3,1175.1 1157.2,1183.0 1158.1,1187.1 1159.0,1163.8 1159.9,1167.9 1160.5,1128.5 1161.0,1128.5 1161.7,1146.8 1162.6,1157.9 1163.2,1146.8 1163.7,1146.8 1164.4,1164.7 1165.3,1166.7 1166.2,1164.6 1167.1,1166.3 1167.7,1184.2 1168.3,1184.2 1168.6,1143.5 1169.1,1143.5 1169.5,1185.6 1170.1,1185.6 1170.7,1168.9 1171.3,1159.2 1171.8,1159.2 1172.5,1168.3 1173.1,1133.5 1173.6,1133.5 1174.3,1171.9 1175.2,1169.1 1176.1,1168.8 1176.7,1158.5 1177.2,1158.5 1177.9,1177.6 1178.8,1185.4 1179.7,1187.2 1180.6,1187.1 1181.5,1187.6 1182.4,1187.4 1183.3,1186.7 1184.2,1187.9 1185.1,1187.4 1186.0,1187.1 1186.9,1186.1 1187.8,1186.9 1188.7,1187.1 1189.6,1187.7 1190.5,1187.7 1191.4,1187.6 1192.3,1188.1 1193.2,1188.0 1194.1,1187.9 1195.0,1183.2 1195.9,1187.5 1196.8,1187.7 1197.7,1186.9 1198.6,1186.3 1199.5,1186.2 1200.4,1186.8 1201.3,1186.8 1201.9,1173.5 1202.4,1173.5 1203.1,1187.3 1204.0,1186.3 1204.9,1185.9 1205.8,1185.0 1206.7,1186.7 1207.6,1186.7 1208.5,1187.1 1209.4,1186.8 1210.3,1186.5 1211.2,1187.1 1212.1,1186.5 1213.0,1184.8 1213.9,1187.2 1214.8,1185.9 1215.7,1186.8 1216.6,1186.3 1217.5,1187.1 1218.2,1172.5 1218.7,1172.5 1219.3,1187.2 1220.2,1187.4 1221.1,1187.3 1222.0,1186.2 1222.9,1185.8 1223.8,1186.1 1224.7,1185.6 1225.4,1178.9 1225.9,1178.9 1226.5,1181.9 1227.4,1183.8 1228.3,1179.0 1229.2,1176.8 1230.1,1174.2 1231.0,1174.9 1231.9,1181.8 1232.8,1185.8 1233.7,1161.4 1234.6,1165.8 1235.2,1185.7 1235.8,1185.7 1236.2,1137.8 1236.7,1137.8 1237.3,1163.8 1237.9,1182.8 1238.5,1182.8 1239.1,1170.5 1240.0,1167.8 1240.9,1168.3 1241.5,1186.0 1242.1,1186.0 1242.7,1175.9 1243.6,1174.0 1244.1,1123.5 1245.0,1123.5 1245.4,1163.8 1246.0,1183.3 1246.6,1183.3 1247.0,1172.1 1247.5,1172.1 1248.1,1187.2 1249.0,1186.0 1249.9,1162.1 1250.4,1120.5 1251.3,1120.5 1251.7,1163.4 1252.6,1177.7 1253.3,1167.0 1253.8,1167.0 1254.4,1172.9 1255.3,1169.5 1256.2,1173.6 1257.1,1176.6 1258.0,1171.2 1258.7,1128.5 1259.2,1128.5 1259.5,1186.0 1260.1,1186.0 1260.5,1150.8 1261.0,1150.8 1261.6,1168.3 1262.5,1172.7 1263.1,1182.8 1263.7,1182.8 1263.9,1125.5 1264.8,1125.5 1265.2,1164.9 1266.1,1174.6 1267.0,1172.4 1267.6,1186.0 1268.2,1186.0 1268.6,1172.6 1269.1,1172.6 1269.4,1183.4 1270.0,1183.4 1270.4,1170.5 1270.9,1170.5 1271.5,1187.8 1272.4,1187.6 1273.3,1187.8 1274.2,1187.3 1275.1,1187.4 1276.0,1188.2 1276.9,1186.9 1277.8,1186.6 1278.7,1186.6 1279.6,1187.6 1280.5,1187.9 1281.4,1186.5 1282.3,1185.5 1283.2,1187.5 1284.1,1187.2 1285.0,1187.8 1285.9,1187.9 1286.8,1186.7 1287.7,1186.4 1288.4,1171.5 1288.9,1171.5 1289.5,1185.1 1290.4,1186.9 1291.3,1185.5 1292.2,1187.4 1293.1,1187.0 1294.0,1184.2 1294.9,1185.5 1295.8,1186.9 1296.7,1185.3 1297.6,1186.1 1298.5,1186.2 1299.4,1183.5 1300.3,1185.8 1301.0,1174.5 1301.5,1174.5 1302.1,1187.2 1303.0,1186.0 1303.9,1186.5 1304.8,1184.8 1305.7,1185.1 1306.6,1185.7 1307.5,1186.2 1308.4,1186.9 1309.3,1186.1 1310.2,1182.6 1311.1,1186.6 1312.0,1187.4 1312.9,1181.6 1313.8,1181.6 1314.7,1184.3 1315.6,1178.2 1316.5,1175.7 1317.4,1184.2 1318.3,1184.8 1319.2,1176.9 1319.9,1164.2 1320.4,1164.2 1320.7,1186.3 1321.3,1186.3 1321.7,1173.2 1322.2,1173.2 1322.8,1181.8 1323.7,1184.0 1324.6,1180.0 1325.5,1178.9 1326.4,1176.8 1327.1,1146.5 1327.6,1146.5 1328.2,1176.0 1328.9,1163.1 1329.4,1163.1 1330.0,1184.2 1330.9,1180.4 1331.8,1168.6 1332.7,1170.4 1333.4,1136.5 1333.9,1136.5 1334.5,1156.0 1335.1,1185.4 1335.7,1185.4 1336.1,1146.4 1336.6,1146.4 1337.2,1175.8 1337.8,1187.6 1338.4,1187.6 1338.8,1131.5 1339.3,1131.5 1339.9,1175.2 1340.8,1170.4 1341.7,1164.5 1342.4,1155.3 1342.9,1155.3 1343.5,1162.9 1344.1,1182.9 1344.7,1182.9 1345.3,1165.3 1346.0,1151.7 1346.5,1151.7 1347.1,1160.7 1347.6,1103.5 1348.5,1103.5 1348.6,1186.5 1349.2,1186.5 1349.6,1170.9 1350.1,1170.9 1350.7,1177.0 1351.6,1179.1 1352.3,1152.0 1352.8,1152.0 1353.4,1169.7 1354.0,1182.0 1354.6,1182.0 1355.2,1162.0 1355.9,1150.5 1356.4,1150.5 1357.0,1182.9 1357.9,1186.8 1358.6,1178.2 1359.1,1178.2 1359.7,1182.9 1360.6,1179.6 1361.5,1177.0 1362.2,1172.5 1362.7,1172.5 1363.0,1187.6 1363.6,1187.6 1364.0,1177.1 1364.5,1177.1 1365.1,1180.5 1366.0,1181.0 1366.9,1182.9 1367.8,1186.1 1368.7,1184.1 1369.6,1183.3 1370.5,1184.5 1371.4,1186.7 1372.3,1187.2 1373.2,1182.6 1374.1,1184.8 1375.0,1182.8 1375.9,1186.4 1376.8,1186.4 1377.7,1187.9 1378.6,1186.8 1379.5,1182.3 1380.4,1180.9 1381.1,1165.5 1381.6,1165.5 1382.2,1188.1 1383.1,1184.6 1384.0,1188.0 1384.9,1182.6 1385.8,1183.7 1386.7,1187.4 1387.6,1185.1 1388.5,1186.2 1389.4,1186.9 1390.1,1165.5 1390.6,1165.5 1391.2,1183.0 1392.1,1187.3 1393.0,1185.8 1393.7,1178.9 1394.2,1178.9 1394.8,1188.3 1395.7,1185.5 1396.6,1186.9 1397.5,1186.7 1398.4,1187.3 1399.3,1186.3 1400.0,1173.5 1400.5,1173.5 1401.1,1187.8 1402.0,1185.9 1402.9,1186.6 1403.8,1187.0 1404.7,1186.4 1405.6,1185.4 1406.5,1187.6 1407.2,1182.1 1407.7,1182.1 1408.3,1187.8 1409.2,1183.5 1410.1,1186.5 1411.0,1184.3 1411.9,1187.0 1412.8,1173.3 1413.5,1158.1 1414.0,1158.1 1414.6,1169.2 1415.3,1163.3 1415.8,1163.3 1416.4,1183.2 1417.3,1185.1 1418.2,1180.5 1418.9,1138.5 1419.4,1138.5 1420.0,1174.7 1420.7,1171.2 1421.2,1171.2 1421.8,1185.4 1422.7,1185.5 1423.4,1161.4 1423.9,1161.4 1424.2,1181.3 1424.8,1181.3 1425.4,1172.4 1426.3,1171.0 1426.9,1184.0 1427.5,1184.0 1428.1,1176.3 1429.0,1157.8 1429.7,1145.5 1430.2,1145.5 1430.5,1184.6 1431.1,1184.6 1431.5,1167.6 1432.0,1167.6 1432.6,1175.2 1433.3,1159.5 1433.8,1159.5 1434.1,1178.7 1434.7,1178.7 1435.1,1164.0 1435.6,1164.0 1435.9,1183.5 1436.5,1183.5 1436.9,1160.1 1437.4,1160.1 1438.0,1182.6 1438.9,1182.9 1439.8,1186.4 1440.7,1185.6 1441.6,1180.5 1442.5,1179.9 1443.1,1187.7 1443.7,1187.7 1444.3,1178.0 1445.2,1176.3 1446.1,1179.8 1447.0,1180.3 1447.9,1179.0 1448.6,1176.4 1449.1,1176.4 1449.7,1181.2 1450.6,1176.0 1451.5,1174.5 1452.4,1181.6 1453.3,1180.7 1454.2,1178.9 1455.1,1187.7 1456.0,1186.2 1456.9,1183.8 1457.6,1174.1 1458.1,1174.1 1458.7,1183.9 1459.6,1186.6 1460.5,1184.7 1461.2,1171.8 1461.7,1171.8 1462.3,1185.8 1463.2,1185.9 1464.1,1186.5 1465.0,1177.9 1465.9,1178.2 1466.6,1173.5 1467.1,1173.5 1467.7,1181.5 1468.6,1187.0 1469.3,1180.2 1469.8,1180.2 1470.4,1187.7 1471.3,1186.5 1472.2,1175.3 1473.1,1175.8 1473.7,1185.7 1474.3,1185.7 1474.7,1179.0 1475.2,1179.0 1475.5,1187.2 1476.1,1187.2 1476.5,1179.4 1477.0,1179.4 1477.6,1185.1 1478.5,1187.1 1479.4,1182.2 1480.3,1181.3 1481.0,1173.7 1481.5,1173.7 1482.1,1182.0 1483.0,1187.2 1483.7,1175.7 1484.2,1175.7 1484.8,1180.0 1485.7,1182.7 1486.6,1183.0 1487.5,1187.2 1488.4,1186.4 1489.3,1185.8 1490.2,1177.7 1490.9,1174.5 1491.4,1174.5 1491.7,1184.1 1492.3,1184.1 1492.7,1173.9 1493.2,1173.9 1493.8,1183.1 1494.5,1181.5 1495.0,1181.5 1495.6,1187.8 1496.5,1187.1 1497.2,1175.1 1497.7,1175.1 1498.0,1185.4 1498.6,1185.4 1499.0,1177.7 1499.5,1177.7 1499.8,1185.1 1500.4,1185.1 1501.0,1179.9 1501.9,1177.9 1502.8,1185.7 1503.7,1187.7 1504.6,1185.5 1505.5,1184.8 1506.4,1180.7 1507.1,1177.9 1507.6,1177.9 1508.2,1183.6 1508.9,1181.2 1509.4,1181.2 1510.0,1183.1 1510.7,1178.2 1511.2,1178.2 1511.8,1187.0 1512.7,1184.8 1513.4,1175.6 1513.9,1175.6 1514.2,1186.5 1514.8,1186.5 1515.2,1178.2 1515.7,1178.2 1516.0,1186.8 1516.6,1186.8 1517.0,1176.1 1517.5,1176.1 1518.1,1179.2 1519.0,1174.8 1519.9,1172.8 1520.8,1179.1 1521.7,1173.3 1522.6,1174.0 1523.5,1174.2 1524.4,1176.8 1525.1,1167.9 1525.6,1167.9 1526.2,1173.5 1527.1,1179.3 1527.8,1170.6 1528.3,1170.6 1528.9,1178.3 1529.8,1181.1 1530.7,1176.6 1531.6,1176.6 1532.5,1180.5 1533.2,1171.3 1533.7,1171.3 1534.3,1178.6 1535.2,1176.2 1535.8,1185.4 1536.4,1185.4 1537.0,1172.1 1537.7,1160.4 1538.2,1160.4 1538.5,1183.1 1539.1,1183.1 1539.7,1176.2 1540.6,1171.0 1541.5,1173.9 1542.4,1183.5 1543.3,1187.8 1544.2,1184.8 1545.1,1187.6 1545.8,1161.0 1546.3,1161.0 1546.9,1186.6 1547.8,1185.2 1548.5,1176.9 1549.0,1176.9 1549.3,1187.2 1549.9,1187.2 1550.3,1169.1 1550.8,1169.1 1551.4,1173.5 1552.3,1178.7 1553.2,1179.3 1554.1,1170.1 1555.0,1173.2 1555.9,1184.9 1556.8,1187.0 1557.7,1187.0 1558.6,1183.3 1559.5,1174.5 1560.4,1162.6 1561.1,1151.5 1561.6,1151.5 1562.2,1175.9 1563.1,1178.3 1564.0,1177.1 1564.6,1185.3 1565.2,1185.3 1565.6,1163.8 1566.1,1163.8 1566.7,1171.8 1567.6,1173.0 1568.5,1176.8 1569.4,1177.3 1570.3,1175.6 1571.2,1181.0 1572.1,1185.1 1573.0,1178.5 1573.9,1174.4 1574.8,1175.5 1575.7,1184.5 1576.6,1183.3 1577.5,1171.9 1578.2,1153.5 1578.7,1153.5 1579.3,1171.8 1580.2,1163.7 1581.1,1162.7 1582.0,1158.3 1582.9,1165.8 1583.8,1164.4 1584.4,1184.3 1585.0,1184.3 1585.6,1178.5 1586.5,1176.8 1587.2,1171.6 1587.7,1171.6 1588.3,1179.2 1589.0,1169.6 1589.5,1169.6 1590.1,1187.2 1590.8,1181.5 1591.3,1181.5 1591.9,1187.6 1592.8,1178.7 1593.7,1180.0 1594.3,1185.3 1594.9,1185.3 1595.5,1174.3 1596.2,1156.5 1596.7,1156.5 1597.3,1186.6 1598.2,1183.7 1599.1,1169.7 1600.0,1163.5 1600.7,1156.5 1601.2,1156.5 1601.8,1183.2 1602.0,1188.5 Z" fill="#231F20" stroke="#231F20" stroke-width="0.8" stroke-linejoin="round"/>
<line x1="236.0" y1="1188.8" x2="1602.0" y2="1188.8" stroke="#231F20" stroke-width="1.7"/>
<line x1="547.4" y1="540.0" x2="547.4" y2="559.8" stroke="#231F20" stroke-width="6.5"/>
<line x1="547.4" y1="579.5" x2="547.4" y2="599.3" stroke="#231F20" stroke-width="6.5"/>
<line x1="547.4" y1="619.0" x2="547.4" y2="638.8" stroke="#231F20" stroke-width="6.5"/>
<line x1="547.4" y1="658.5" x2="547.4" y2="678.3" stroke="#231F20" stroke-width="6.5"/>
<line x1="547.4" y1="698.0" x2="547.4" y2="717.8" stroke="#231F20" stroke-width="6.5"/>
<line x1="547.4" y1="737.5" x2="547.4" y2="757.3" stroke="#231F20" stroke-width="6.5"/>
<line x1="547.4" y1="777.0" x2="547.4" y2="796.8" stroke="#231F20" stroke-width="6.5"/>
<line x1="547.4" y1="816.5" x2="547.4" y2="836.3" stroke="#231F20" stroke-width="6.5"/>
<line x1="547.4" y1="856.0" x2="547.4" y2="875.8" stroke="#231F20" stroke-width="6.5"/>
<line x1="547.4" y1="895.5" x2="547.4" y2="915.3" stroke="#231F20" stroke-width="6.5"/>
<line x1="547.4" y1="935.0" x2="547.4" y2="954.8" stroke="#231F20" stroke-width="6.5"/>
<line x1="547.4" y1="974.5" x2="547.4" y2="994.3" stroke="#231F20" stroke-width="6.5"/>
<line x1="547.4" y1="1014.0" x2="547.4" y2="1033.8" stroke="#231F20" stroke-width="6.5"/>
<line x1="547.4" y1="1053.5" x2="547.4" y2="1073.3" stroke="#231F20" stroke-width="6.5"/>
<line x1="547.4" y1="1093.0" x2="547.4" y2="1112.8" stroke="#231F20" stroke-width="6.5"/>
<line x1="547.4" y1="1132.5" x2="547.4" y2="1152.3" stroke="#231F20" stroke-width="6.5"/>
</g>
</svg>
</body></html>
